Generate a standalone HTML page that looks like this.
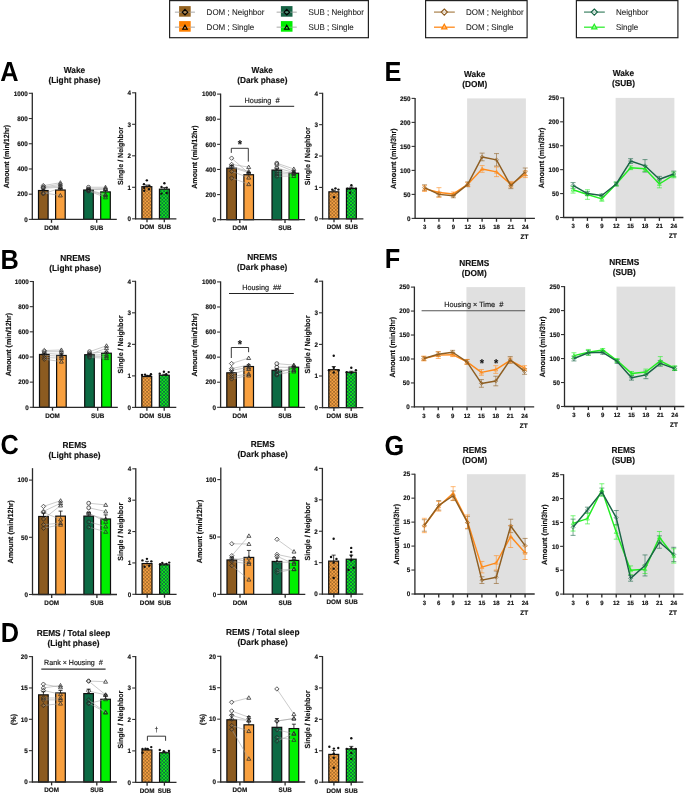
<!DOCTYPE html>
<html><head><meta charset="utf-8"><style>
html,body{margin:0;padding:0;background:#fff;}
body{width:685px;height:793px;overflow:hidden;font-family:"Liberation Sans",sans-serif;}
svg{display:block;will-change:transform;text-rendering:geometricPrecision;}
</style></head><body>
<svg width="685" height="793" viewBox="0 0 685 793" font-family="Liberation Sans, sans-serif">
<defs>
<pattern id="chkO" width="3.4" height="3.4" patternUnits="userSpaceOnUse"><rect width="3.4" height="3.4" fill="#F6A244"/><rect width="1.7" height="1.7" fill="#A86C2A"/><rect x="1.7" y="1.7" width="1.7" height="1.7" fill="#A86C2A"/></pattern>
<pattern id="chkG" width="3.4" height="3.4" patternUnits="userSpaceOnUse"><rect width="3.4" height="3.4" fill="#10EE10"/><rect width="1.7" height="1.7" fill="#0D6A46"/><rect x="1.7" y="1.7" width="1.7" height="1.7" fill="#0D6A46"/></pattern>
</defs>
<rect width="685" height="793" fill="#fff"/>
<rect x="169.6" y="0.6" width="198.8" height="37.1" fill="none" stroke="#222" stroke-width="1.2" />
<line x1="174.9" y1="12.2" x2="194.9" y2="12.2" stroke="#b4b4b4" stroke-width="1.1" />
<rect x="179.1" y="6.1" width="11.6" height="10.6" fill="#966422" stroke="none" stroke-width="0" />
<line x1="174.9" y1="12.2" x2="194.9" y2="12.2" stroke="#c8c8c8" stroke-width="1.0" opacity="0.55"/>
<path d="M185 9.4L187.8 12.2L185 15L182.2 12.2Z" fill="none" stroke="#000" stroke-width="1.1"/>
<text transform="matrix(1 0 0 1.04 206.6 15)" font-size="8" stroke="#222" stroke-width="0.08" text-anchor="start" fill="#222" >DOM ; Neighbor</text>
<line x1="174.9" y1="27.2" x2="194.9" y2="27.2" stroke="#b4b4b4" stroke-width="1.1" />
<rect x="179.1" y="21.1" width="11.6" height="10.6" fill="#FF8000" stroke="none" stroke-width="0" />
<line x1="174.9" y1="27.2" x2="194.9" y2="27.2" stroke="#c8c8c8" stroke-width="1.0" opacity="0.55"/>
<path d="M185 25.2L187.3 29.23L182.7 29.23Z" fill="none" stroke="#000" stroke-width="1.1"/>
<text transform="matrix(1 0 0 1.04 206.6 30)" font-size="8" stroke="#222" stroke-width="0.08" text-anchor="start" fill="#222" >DOM ; Single</text>
<line x1="276.7" y1="12.2" x2="296.7" y2="12.2" stroke="#b4b4b4" stroke-width="1.1" />
<rect x="280.9" y="6.1" width="11.6" height="10.6" fill="#186446" stroke="none" stroke-width="0" />
<line x1="276.7" y1="12.2" x2="296.7" y2="12.2" stroke="#c8c8c8" stroke-width="1.0" opacity="0.55"/>
<path d="M286.8 9.4L289.6 12.2L286.8 15L284 12.2Z" fill="none" stroke="#000" stroke-width="1.1"/>
<text transform="matrix(1 0 0 1.04 308.4 15)" font-size="8" stroke="#222" stroke-width="0.08" text-anchor="start" fill="#222" >SUB ; Neighbor</text>
<line x1="276.7" y1="27.2" x2="296.7" y2="27.2" stroke="#b4b4b4" stroke-width="1.1" />
<rect x="280.9" y="21.1" width="11.6" height="10.6" fill="#00EE00" stroke="none" stroke-width="0" />
<line x1="276.7" y1="27.2" x2="296.7" y2="27.2" stroke="#c8c8c8" stroke-width="1.0" opacity="0.55"/>
<path d="M286.8 25.2L289.1 29.23L284.5 29.23Z" fill="none" stroke="#000" stroke-width="1.1"/>
<text transform="matrix(1 0 0 1.04 308.4 30)" font-size="8" stroke="#222" stroke-width="0.08" text-anchor="start" fill="#222" >SUB ; Single</text>
<rect x="425.6" y="0.6" width="101.5" height="37.1" fill="none" stroke="#222" stroke-width="1.2" />
<line x1="434" y1="12.1" x2="454.8" y2="12.1" stroke="#B08A58" stroke-width="1.3" />
<path d="M444.3 9L447.4 12.1L444.3 15.2L441.2 12.1Z" fill="rgba(255,255,255,0.55)" stroke="#8C5A20" stroke-width="1.1"/>
<text transform="matrix(1 0 0 1.04 465.9 15)" font-size="8" stroke="#222" stroke-width="0.08" text-anchor="start" fill="#222" >DOM ; Neighbor</text>
<line x1="434" y1="27.2" x2="454.8" y2="27.2" stroke="#FF8A1A" stroke-width="1.3" />
<path d="M444.3 24.3L446.9 28.85L441.7 28.85Z" fill="rgba(255,200,150,0.6)" stroke="#FF8000" stroke-width="1.2"/>
<text transform="matrix(1 0 0 1.04 465.9 30.1)" font-size="8" stroke="#222" stroke-width="0.08" text-anchor="start" fill="#222" >DOM ; Single</text>
<rect x="576.4" y="0.6" width="101.5" height="37.1" fill="none" stroke="#222" stroke-width="1.2" />
<line x1="584" y1="12.1" x2="604.8" y2="12.1" stroke="#4E8C70" stroke-width="1.3" />
<path d="M594.3 9L597.4 12.1L594.3 15.2L591.2 12.1Z" fill="rgba(255,255,255,0.55)" stroke="#146444" stroke-width="1.1"/>
<text transform="matrix(1 0 0 1.04 616 15)" font-size="8" stroke="#222" stroke-width="0.08" text-anchor="start" fill="#222" >Neighbor</text>
<line x1="584" y1="27.2" x2="604.8" y2="27.2" stroke="#33EE33" stroke-width="1.3" />
<path d="M594.3 24.3L596.9 28.85L591.7 28.85Z" fill="rgba(180,255,180,0.6)" stroke="#22EE22" stroke-width="1.2"/>
<text transform="matrix(1 0 0 1.04 616 30.1)" font-size="8" stroke="#222" stroke-width="0.08" text-anchor="start" fill="#222" >Single</text>
<text transform="matrix(0.96 0 0 1.04 0.2 81.3)" font-size="26.4" font-weight="bold" fill="#000">A</text>
<text transform="matrix(0.96 0 0 1.04 0.6 269.1)" font-size="26.4" font-weight="bold" fill="#000">B</text>
<text transform="matrix(0.96 0 0 1.04 0.4 454.2)" font-size="26.4" font-weight="bold" fill="#000">C</text>
<text transform="matrix(0.96 0 0 1.04 0.8 642.1)" font-size="26.4" font-weight="bold" fill="#000">D</text>
<text transform="matrix(0.96 0 0 1.04 384.6 80.5)" font-size="26.4" font-weight="bold" fill="#000">E</text>
<text transform="matrix(0.96 0 0 1.04 384.8 268.2)" font-size="26.4" font-weight="bold" fill="#000">F</text>
<text transform="matrix(0.96 0 0 1.04 384.4 455.45)" font-size="26.4" font-weight="bold" fill="#000">G</text>
<text transform="matrix(1 0 0 1.04 74.5 73.06)" font-size="8.3" font-weight="bold" stroke="#111" stroke-width="0.15" text-anchor="middle" fill="#111" >Wake</text>
<text transform="matrix(1 0 0 1.04 74.5 82.96)" font-size="8.3" font-weight="bold" stroke="#111" stroke-width="0.15" text-anchor="middle" fill="#111" >(Light phase)</text>
<rect x="38.5" y="190.52" width="9.6" height="28.88" fill="#8C5B20" stroke="#0e0e0e" stroke-width="1.2" />
<rect x="55.6" y="190.02" width="9.6" height="29.38" fill="#F8A03F" stroke="#0e0e0e" stroke-width="1.2" />
<rect x="83.7" y="190.02" width="9.6" height="29.38" fill="#0C6A44" stroke="#0e0e0e" stroke-width="1.2" />
<rect x="100.7" y="191.91" width="9.6" height="27.49" fill="#00F000" stroke="#0e0e0e" stroke-width="1.2" />
<line x1="43.3" y1="185.61" x2="60.4" y2="182.7" stroke="#a0a0a0" stroke-width="0.55" />
<line x1="43.3" y1="186.87" x2="60.4" y2="184.34" stroke="#a0a0a0" stroke-width="0.55" />
<line x1="43.3" y1="187.62" x2="60.4" y2="185.86" stroke="#a0a0a0" stroke-width="0.55" />
<line x1="43.3" y1="188.25" x2="60.4" y2="187.24" stroke="#a0a0a0" stroke-width="0.55" />
<line x1="43.3" y1="192.92" x2="60.4" y2="195.44" stroke="#a0a0a0" stroke-width="0.55" />
<line x1="43.3" y1="193.8" x2="60.4" y2="188.13" stroke="#a0a0a0" stroke-width="0.55" />
<path d="M43.3 183.41L45.5 185.61L43.3 187.81L41.1 185.61Z" fill="none" stroke="#2a2a2a" stroke-width="0.75"/>
<path d="M43.3 184.67L45.5 186.87L43.3 189.07L41.1 186.87Z" fill="none" stroke="#2a2a2a" stroke-width="0.75"/>
<path d="M43.3 185.42L45.5 187.62L43.3 189.82L41.1 187.62Z" fill="none" stroke="#2a2a2a" stroke-width="0.75"/>
<path d="M43.3 186.05L45.5 188.25L43.3 190.45L41.1 188.25Z" fill="none" stroke="#2a2a2a" stroke-width="0.75"/>
<path d="M43.3 190.72L45.5 192.92L43.3 195.12L41.1 192.92Z" fill="none" stroke="#2a2a2a" stroke-width="0.75"/>
<path d="M43.3 191.6L45.5 193.8L43.3 196L41.1 193.8Z" fill="none" stroke="#2a2a2a" stroke-width="0.75"/>
<path d="M60.4 180.7L62.4 184.2L58.4 184.2Z" fill="none" stroke="#2a2a2a" stroke-width="0.75"/>
<path d="M60.4 182.34L62.4 185.84L58.4 185.84Z" fill="none" stroke="#2a2a2a" stroke-width="0.75"/>
<path d="M60.4 183.86L62.4 187.36L58.4 187.36Z" fill="none" stroke="#2a2a2a" stroke-width="0.75"/>
<path d="M60.4 185.24L62.4 188.74L58.4 188.74Z" fill="none" stroke="#2a2a2a" stroke-width="0.75"/>
<path d="M60.4 193.44L62.4 196.94L58.4 196.94Z" fill="none" stroke="#2a2a2a" stroke-width="0.75"/>
<path d="M60.4 186.13L62.4 189.63L58.4 189.63Z" fill="none" stroke="#2a2a2a" stroke-width="0.75"/>
<line x1="88.5" y1="187.24" x2="105.5" y2="187.24" stroke="#a0a0a0" stroke-width="0.55" />
<line x1="88.5" y1="189.01" x2="105.5" y2="188.51" stroke="#a0a0a0" stroke-width="0.55" />
<line x1="88.5" y1="189.64" x2="105.5" y2="189.39" stroke="#a0a0a0" stroke-width="0.55" />
<line x1="88.5" y1="190.02" x2="105.5" y2="194.43" stroke="#a0a0a0" stroke-width="0.55" />
<line x1="88.5" y1="190.65" x2="105.5" y2="195.44" stroke="#a0a0a0" stroke-width="0.55" />
<line x1="88.5" y1="191.03" x2="105.5" y2="197.33" stroke="#a0a0a0" stroke-width="0.55" />
<circle cx="88.5" cy="187.24" r="1.9" fill="none" stroke="#2a2a2a" stroke-width="0.75"/>
<circle cx="88.5" cy="189.01" r="1.9" fill="none" stroke="#2a2a2a" stroke-width="0.75"/>
<circle cx="88.5" cy="189.64" r="1.9" fill="none" stroke="#2a2a2a" stroke-width="0.75"/>
<circle cx="88.5" cy="190.02" r="1.9" fill="none" stroke="#2a2a2a" stroke-width="0.75"/>
<circle cx="88.5" cy="190.65" r="1.9" fill="none" stroke="#2a2a2a" stroke-width="0.75"/>
<circle cx="88.5" cy="191.03" r="1.9" fill="none" stroke="#2a2a2a" stroke-width="0.75"/>
<path d="M105.5 185.24L107.5 188.74L103.5 188.74Z" fill="none" stroke="#2a2a2a" stroke-width="0.75"/>
<path d="M105.5 186.51L107.5 190.01L103.5 190.01Z" fill="none" stroke="#2a2a2a" stroke-width="0.75"/>
<path d="M105.5 187.39L107.5 190.89L103.5 190.89Z" fill="none" stroke="#2a2a2a" stroke-width="0.75"/>
<path d="M105.5 192.43L107.5 195.93L103.5 195.93Z" fill="none" stroke="#2a2a2a" stroke-width="0.75"/>
<path d="M105.5 193.44L107.5 196.94L103.5 196.94Z" fill="none" stroke="#2a2a2a" stroke-width="0.75"/>
<path d="M105.5 195.33L107.5 198.83L103.5 198.83Z" fill="none" stroke="#2a2a2a" stroke-width="0.75"/>
<line x1="43.3" y1="190.52" x2="43.3" y2="189.26" stroke="#111" stroke-width="0.8" />
<line x1="41.3" y1="189.26" x2="45.3" y2="189.26" stroke="#111" stroke-width="0.8" />
<line x1="60.4" y1="190.02" x2="60.4" y2="188.51" stroke="#111" stroke-width="0.8" />
<line x1="58.4" y1="188.51" x2="62.4" y2="188.51" stroke="#111" stroke-width="0.8" />
<line x1="88.5" y1="190.02" x2="88.5" y2="189.26" stroke="#111" stroke-width="0.8" />
<line x1="86.5" y1="189.26" x2="90.5" y2="189.26" stroke="#111" stroke-width="0.8" />
<line x1="105.5" y1="191.91" x2="105.5" y2="190.4" stroke="#111" stroke-width="0.8" />
<line x1="103.5" y1="190.4" x2="107.5" y2="190.4" stroke="#111" stroke-width="0.8" />
<line x1="32.3" y1="92.8" x2="32.3" y2="219.9" stroke="#2a2a2a" stroke-width="1.3" />
<line x1="31.8" y1="219.4" x2="116.8" y2="219.4" stroke="#2a2a2a" stroke-width="1.3" />
<line x1="28.8" y1="219.4" x2="32.3" y2="219.4" stroke="#333" stroke-width="1.1" />
<text transform="matrix(1 0 0 1.04 27.7 221.65)" font-size="6.3" font-weight="bold" stroke="#111" stroke-width="0.15" text-anchor="end" fill="#111" >0</text>
<line x1="28.8" y1="194.18" x2="32.3" y2="194.18" stroke="#333" stroke-width="1.1" />
<text transform="matrix(1 0 0 1.04 27.7 196.43)" font-size="6.3" font-weight="bold" stroke="#111" stroke-width="0.15" text-anchor="end" fill="#111" >200</text>
<line x1="28.8" y1="168.96" x2="32.3" y2="168.96" stroke="#333" stroke-width="1.1" />
<text transform="matrix(1 0 0 1.04 27.7 171.21)" font-size="6.3" font-weight="bold" stroke="#111" stroke-width="0.15" text-anchor="end" fill="#111" >400</text>
<line x1="28.8" y1="143.74" x2="32.3" y2="143.74" stroke="#333" stroke-width="1.1" />
<text transform="matrix(1 0 0 1.04 27.7 145.99)" font-size="6.3" font-weight="bold" stroke="#111" stroke-width="0.15" text-anchor="end" fill="#111" >600</text>
<line x1="28.8" y1="118.52" x2="32.3" y2="118.52" stroke="#333" stroke-width="1.1" />
<text transform="matrix(1 0 0 1.04 27.7 120.77)" font-size="6.3" font-weight="bold" stroke="#111" stroke-width="0.15" text-anchor="end" fill="#111" >800</text>
<line x1="28.8" y1="93.3" x2="32.3" y2="93.3" stroke="#333" stroke-width="1.1" />
<text transform="matrix(1 0 0 1.04 27.7 95.55)" font-size="6.3" font-weight="bold" stroke="#111" stroke-width="0.15" text-anchor="end" fill="#111" >1000</text>
<line x1="51.5" y1="219.4" x2="51.5" y2="222.8" stroke="#2a2a2a" stroke-width="1.3" />
<text transform="matrix(1 0 0 1.04 51.5 229.7)" font-size="6.3" font-weight="bold" stroke="#111" stroke-width="0.15" text-anchor="middle" fill="#111" >DOM</text>
<line x1="96.7" y1="219.4" x2="96.7" y2="222.8" stroke="#2a2a2a" stroke-width="1.3" />
<text transform="matrix(1 0 0 1.04 96.7 229.7)" font-size="6.3" font-weight="bold" stroke="#111" stroke-width="0.15" text-anchor="middle" fill="#111" >SUB</text>
<text transform="translate(9.42,156.55) rotate(-90) scale(1,1.04)" font-size="7.15" font-weight="bold" text-anchor="middle" fill="#111" stroke="#111" stroke-width="0.15">Amount (min/12hr)</text>
<rect x="141.9" y="186.67" width="9.9" height="32.13" fill="url(#chkO)" stroke="#0e0e0e" stroke-width="1.2" />
<rect x="159.45" y="189.19" width="9.9" height="29.61" fill="url(#chkG)" stroke="#0e0e0e" stroke-width="1.2" />
<line x1="146.85" y1="186.67" x2="146.85" y2="185.09" stroke="#111" stroke-width="0.8" />
<line x1="144.85" y1="185.09" x2="148.85" y2="185.09" stroke="#111" stroke-width="0.8" />
<line x1="164.4" y1="189.19" x2="164.4" y2="187.62" stroke="#111" stroke-width="0.8" />
<line x1="162.4" y1="187.62" x2="166.4" y2="187.62" stroke="#111" stroke-width="0.8" />
<circle cx="146.85" cy="180.37" r="1.2" fill="#111" stroke="none" stroke-width="0"/>
<circle cx="143.95" cy="184.15" r="1.2" fill="#111" stroke="none" stroke-width="0"/>
<circle cx="149.35" cy="185.73" r="1.2" fill="#111" stroke="none" stroke-width="0"/>
<circle cx="144.25" cy="187.93" r="1.2" fill="#111" stroke="none" stroke-width="0"/>
<circle cx="148.95" cy="189.19" r="1.2" fill="#111" stroke="none" stroke-width="0"/>
<circle cx="144.25" cy="190.77" r="1.2" fill="#111" stroke="none" stroke-width="0"/>
<circle cx="164.4" cy="183.21" r="1.2" fill="#111" stroke="none" stroke-width="0"/>
<circle cx="161.5" cy="186.99" r="1.2" fill="#111" stroke="none" stroke-width="0"/>
<circle cx="166.7" cy="187.62" r="1.2" fill="#111" stroke="none" stroke-width="0"/>
<circle cx="161.5" cy="193.6" r="1.2" fill="#111" stroke="none" stroke-width="0"/>
<circle cx="166.7" cy="192.97" r="1.2" fill="#111" stroke="none" stroke-width="0"/>
<line x1="135.6" y1="92.3" x2="135.6" y2="219.3" stroke="#2a2a2a" stroke-width="1.3" />
<line x1="135.1" y1="218.8" x2="176.4" y2="218.8" stroke="#2a2a2a" stroke-width="1.3" />
<line x1="132.1" y1="218.8" x2="135.6" y2="218.8" stroke="#333" stroke-width="1.1" />
<text transform="matrix(1 0 0 1.04 131 221.05)" font-size="6.3" font-weight="bold" stroke="#111" stroke-width="0.15" text-anchor="end" fill="#111" >0</text>
<line x1="132.1" y1="187.3" x2="135.6" y2="187.3" stroke="#333" stroke-width="1.1" />
<text transform="matrix(1 0 0 1.04 131 189.55)" font-size="6.3" font-weight="bold" stroke="#111" stroke-width="0.15" text-anchor="end" fill="#111" >1</text>
<line x1="132.1" y1="155.8" x2="135.6" y2="155.8" stroke="#333" stroke-width="1.1" />
<text transform="matrix(1 0 0 1.04 131 158.05)" font-size="6.3" font-weight="bold" stroke="#111" stroke-width="0.15" text-anchor="end" fill="#111" >2</text>
<line x1="132.1" y1="124.3" x2="135.6" y2="124.3" stroke="#333" stroke-width="1.1" />
<text transform="matrix(1 0 0 1.04 131 126.55)" font-size="6.3" font-weight="bold" stroke="#111" stroke-width="0.15" text-anchor="end" fill="#111" >3</text>
<line x1="132.1" y1="92.8" x2="135.6" y2="92.8" stroke="#333" stroke-width="1.1" />
<text transform="matrix(1 0 0 1.04 131 95.05)" font-size="6.3" font-weight="bold" stroke="#111" stroke-width="0.15" text-anchor="end" fill="#111" >4</text>
<line x1="147" y1="218.8" x2="147" y2="222.2" stroke="#2a2a2a" stroke-width="1.3" />
<text transform="matrix(1 0 0 1.04 147 229.1)" font-size="6.3" font-weight="bold" stroke="#111" stroke-width="0.15" text-anchor="middle" fill="#111" >DOM</text>
<line x1="164.3" y1="218.8" x2="164.3" y2="222.2" stroke="#2a2a2a" stroke-width="1.3" />
<text transform="matrix(1 0 0 1.04 164.3 229.1)" font-size="6.3" font-weight="bold" stroke="#111" stroke-width="0.15" text-anchor="middle" fill="#111" >SUB</text>
<text transform="translate(123.29,156) rotate(-90) scale(1,1.04)" font-size="7.05" font-weight="bold" text-anchor="middle" fill="#111" stroke="#111" stroke-width="0.15">Single / Neighbor</text>
<text transform="matrix(1 0 0 1.04 262.3 73.36)" font-size="8.3" font-weight="bold" stroke="#111" stroke-width="0.15" text-anchor="middle" fill="#111" >Wake</text>
<text transform="matrix(1 0 0 1.04 262.3 83.26)" font-size="8.3" font-weight="bold" stroke="#111" stroke-width="0.15" text-anchor="middle" fill="#111" >(Dark phase)</text>
<rect x="226.8" y="168.2" width="9.6" height="51.5" fill="#8C5B20" stroke="#0e0e0e" stroke-width="1.2" />
<rect x="243.9" y="174.74" width="9.6" height="44.96" fill="#F8A03F" stroke="#0e0e0e" stroke-width="1.2" />
<rect x="272" y="170.09" width="9.6" height="49.61" fill="#0C6A44" stroke="#0e0e0e" stroke-width="1.2" />
<rect x="289" y="173.23" width="9.6" height="46.47" fill="#00F000" stroke="#0e0e0e" stroke-width="1.2" />
<line x1="231.6" y1="158.16" x2="248.7" y2="173.23" stroke="#a0a0a0" stroke-width="0.55" />
<line x1="231.6" y1="164.44" x2="248.7" y2="167.07" stroke="#a0a0a0" stroke-width="0.55" />
<line x1="231.6" y1="166.32" x2="248.7" y2="171.47" stroke="#a0a0a0" stroke-width="0.55" />
<line x1="231.6" y1="167.32" x2="248.7" y2="172.6" stroke="#a0a0a0" stroke-width="0.55" />
<line x1="231.6" y1="171.34" x2="248.7" y2="177.62" stroke="#a0a0a0" stroke-width="0.55" />
<line x1="231.6" y1="178" x2="248.7" y2="184.16" stroke="#a0a0a0" stroke-width="0.55" />
<path d="M231.6 155.96L233.8 158.16L231.6 160.36L229.4 158.16Z" fill="none" stroke="#2a2a2a" stroke-width="0.75"/>
<path d="M231.6 162.24L233.8 164.44L231.6 166.64L229.4 164.44Z" fill="none" stroke="#2a2a2a" stroke-width="0.75"/>
<path d="M231.6 164.12L233.8 166.32L231.6 168.52L229.4 166.32Z" fill="none" stroke="#2a2a2a" stroke-width="0.75"/>
<path d="M231.6 165.12L233.8 167.32L231.6 169.52L229.4 167.32Z" fill="none" stroke="#2a2a2a" stroke-width="0.75"/>
<path d="M231.6 169.14L233.8 171.34L231.6 173.54L229.4 171.34Z" fill="none" stroke="#2a2a2a" stroke-width="0.75"/>
<path d="M231.6 175.8L233.8 178L231.6 180.2L229.4 178Z" fill="none" stroke="#2a2a2a" stroke-width="0.75"/>
<path d="M248.7 171.23L250.7 174.73L246.7 174.73Z" fill="none" stroke="#2a2a2a" stroke-width="0.75"/>
<path d="M248.7 165.07L250.7 168.57L246.7 168.57Z" fill="none" stroke="#2a2a2a" stroke-width="0.75"/>
<path d="M248.7 169.47L250.7 172.97L246.7 172.97Z" fill="none" stroke="#2a2a2a" stroke-width="0.75"/>
<path d="M248.7 170.6L250.7 174.1L246.7 174.1Z" fill="none" stroke="#2a2a2a" stroke-width="0.75"/>
<path d="M248.7 175.62L250.7 179.12L246.7 179.12Z" fill="none" stroke="#2a2a2a" stroke-width="0.75"/>
<path d="M248.7 182.16L250.7 185.66L246.7 185.66Z" fill="none" stroke="#2a2a2a" stroke-width="0.75"/>
<line x1="276.8" y1="163.18" x2="293.8" y2="168.96" stroke="#a0a0a0" stroke-width="0.55" />
<line x1="276.8" y1="164.44" x2="293.8" y2="171.34" stroke="#a0a0a0" stroke-width="0.55" />
<line x1="276.8" y1="167.95" x2="293.8" y2="172.47" stroke="#a0a0a0" stroke-width="0.55" />
<line x1="276.8" y1="171.34" x2="293.8" y2="173.23" stroke="#a0a0a0" stroke-width="0.55" />
<line x1="276.8" y1="173.86" x2="293.8" y2="173.86" stroke="#a0a0a0" stroke-width="0.55" />
<line x1="276.8" y1="176.24" x2="293.8" y2="175.99" stroke="#a0a0a0" stroke-width="0.55" />
<circle cx="276.8" cy="163.18" r="1.9" fill="none" stroke="#2a2a2a" stroke-width="0.75"/>
<circle cx="276.8" cy="164.44" r="1.9" fill="none" stroke="#2a2a2a" stroke-width="0.75"/>
<circle cx="276.8" cy="167.95" r="1.9" fill="none" stroke="#2a2a2a" stroke-width="0.75"/>
<circle cx="276.8" cy="171.34" r="1.9" fill="none" stroke="#2a2a2a" stroke-width="0.75"/>
<circle cx="276.8" cy="173.86" r="1.9" fill="none" stroke="#2a2a2a" stroke-width="0.75"/>
<circle cx="276.8" cy="176.24" r="1.9" fill="none" stroke="#2a2a2a" stroke-width="0.75"/>
<path d="M293.8 166.96L295.8 170.46L291.8 170.46Z" fill="none" stroke="#2a2a2a" stroke-width="0.75"/>
<path d="M293.8 169.34L295.8 172.84L291.8 172.84Z" fill="none" stroke="#2a2a2a" stroke-width="0.75"/>
<path d="M293.8 170.47L295.8 173.97L291.8 173.97Z" fill="none" stroke="#2a2a2a" stroke-width="0.75"/>
<path d="M293.8 171.23L295.8 174.73L291.8 174.73Z" fill="none" stroke="#2a2a2a" stroke-width="0.75"/>
<path d="M293.8 171.86L295.8 175.36L291.8 175.36Z" fill="none" stroke="#2a2a2a" stroke-width="0.75"/>
<path d="M293.8 173.99L295.8 177.49L291.8 177.49Z" fill="none" stroke="#2a2a2a" stroke-width="0.75"/>
<line x1="231.6" y1="168.2" x2="231.6" y2="165.44" stroke="#111" stroke-width="0.8" />
<line x1="229.6" y1="165.44" x2="233.6" y2="165.44" stroke="#111" stroke-width="0.8" />
<line x1="248.7" y1="174.74" x2="248.7" y2="172.47" stroke="#111" stroke-width="0.8" />
<line x1="246.7" y1="172.47" x2="250.7" y2="172.47" stroke="#111" stroke-width="0.8" />
<line x1="276.8" y1="170.09" x2="276.8" y2="168.2" stroke="#111" stroke-width="0.8" />
<line x1="274.8" y1="168.2" x2="278.8" y2="168.2" stroke="#111" stroke-width="0.8" />
<line x1="293.8" y1="173.23" x2="293.8" y2="171.97" stroke="#111" stroke-width="0.8" />
<line x1="291.8" y1="171.97" x2="295.8" y2="171.97" stroke="#111" stroke-width="0.8" />
<line x1="220.6" y1="93.6" x2="220.6" y2="220.2" stroke="#2a2a2a" stroke-width="1.3" />
<line x1="220.1" y1="219.7" x2="305.1" y2="219.7" stroke="#2a2a2a" stroke-width="1.3" />
<line x1="217.1" y1="219.7" x2="220.6" y2="219.7" stroke="#333" stroke-width="1.1" />
<text transform="matrix(1 0 0 1.04 216 221.95)" font-size="6.3" font-weight="bold" stroke="#111" stroke-width="0.15" text-anchor="end" fill="#111" >0</text>
<line x1="217.1" y1="194.58" x2="220.6" y2="194.58" stroke="#333" stroke-width="1.1" />
<text transform="matrix(1 0 0 1.04 216 196.83)" font-size="6.3" font-weight="bold" stroke="#111" stroke-width="0.15" text-anchor="end" fill="#111" >200</text>
<line x1="217.1" y1="169.46" x2="220.6" y2="169.46" stroke="#333" stroke-width="1.1" />
<text transform="matrix(1 0 0 1.04 216 171.71)" font-size="6.3" font-weight="bold" stroke="#111" stroke-width="0.15" text-anchor="end" fill="#111" >400</text>
<line x1="217.1" y1="144.34" x2="220.6" y2="144.34" stroke="#333" stroke-width="1.1" />
<text transform="matrix(1 0 0 1.04 216 146.59)" font-size="6.3" font-weight="bold" stroke="#111" stroke-width="0.15" text-anchor="end" fill="#111" >600</text>
<line x1="217.1" y1="119.22" x2="220.6" y2="119.22" stroke="#333" stroke-width="1.1" />
<text transform="matrix(1 0 0 1.04 216 121.47)" font-size="6.3" font-weight="bold" stroke="#111" stroke-width="0.15" text-anchor="end" fill="#111" >800</text>
<line x1="217.1" y1="94.1" x2="220.6" y2="94.1" stroke="#333" stroke-width="1.1" />
<text transform="matrix(1 0 0 1.04 216 96.35)" font-size="6.3" font-weight="bold" stroke="#111" stroke-width="0.15" text-anchor="end" fill="#111" >1000</text>
<line x1="239.8" y1="219.7" x2="239.8" y2="223.1" stroke="#2a2a2a" stroke-width="1.3" />
<text transform="matrix(1 0 0 1.04 239.8 230)" font-size="6.3" font-weight="bold" stroke="#111" stroke-width="0.15" text-anchor="middle" fill="#111" >DOM</text>
<line x1="285" y1="219.7" x2="285" y2="223.1" stroke="#2a2a2a" stroke-width="1.3" />
<text transform="matrix(1 0 0 1.04 285 230)" font-size="6.3" font-weight="bold" stroke="#111" stroke-width="0.15" text-anchor="middle" fill="#111" >SUB</text>
<text transform="translate(197.32,157.1) rotate(-90) scale(1,1.04)" font-size="7.15" font-weight="bold" text-anchor="middle" fill="#111" stroke="#111" stroke-width="0.15">Amount (min/12hr)</text>
<rect x="328.9" y="191.82" width="9.9" height="26.98" fill="url(#chkO)" stroke="#0e0e0e" stroke-width="1.2" />
<rect x="346.45" y="188.37" width="9.9" height="30.43" fill="url(#chkG)" stroke="#0e0e0e" stroke-width="1.2" />
<line x1="333.85" y1="191.82" x2="333.85" y2="190.25" stroke="#111" stroke-width="0.8" />
<line x1="331.85" y1="190.25" x2="335.85" y2="190.25" stroke="#111" stroke-width="0.8" />
<line x1="351.4" y1="188.37" x2="351.4" y2="187.11" stroke="#111" stroke-width="0.8" />
<line x1="349.4" y1="187.11" x2="353.4" y2="187.11" stroke="#111" stroke-width="0.8" />
<circle cx="332.25" cy="189.62" r="1.2" fill="#111" stroke="none" stroke-width="0"/>
<circle cx="335.45" cy="188.37" r="1.2" fill="#111" stroke="none" stroke-width="0"/>
<circle cx="338.45" cy="189.62" r="1.2" fill="#111" stroke="none" stroke-width="0"/>
<circle cx="334.05" cy="197.15" r="1.2" fill="#111" stroke="none" stroke-width="0"/>
<circle cx="351.4" cy="185.23" r="1.2" fill="#111" stroke="none" stroke-width="0"/>
<circle cx="347.5" cy="188.68" r="1.2" fill="#111" stroke="none" stroke-width="0"/>
<circle cx="350.1" cy="188.99" r="1.2" fill="#111" stroke="none" stroke-width="0"/>
<circle cx="355.9" cy="188.68" r="1.2" fill="#111" stroke="none" stroke-width="0"/>
<circle cx="350.1" cy="192.76" r="1.2" fill="#111" stroke="none" stroke-width="0"/>
<line x1="322.6" y1="92.8" x2="322.6" y2="219.3" stroke="#2a2a2a" stroke-width="1.3" />
<line x1="322.1" y1="218.8" x2="363.4" y2="218.8" stroke="#2a2a2a" stroke-width="1.3" />
<line x1="319.1" y1="218.8" x2="322.6" y2="218.8" stroke="#333" stroke-width="1.1" />
<text transform="matrix(1 0 0 1.04 318 221.05)" font-size="6.3" font-weight="bold" stroke="#111" stroke-width="0.15" text-anchor="end" fill="#111" >0</text>
<line x1="319.1" y1="187.43" x2="322.6" y2="187.43" stroke="#333" stroke-width="1.1" />
<text transform="matrix(1 0 0 1.04 318 189.68)" font-size="6.3" font-weight="bold" stroke="#111" stroke-width="0.15" text-anchor="end" fill="#111" >1</text>
<line x1="319.1" y1="156.05" x2="322.6" y2="156.05" stroke="#333" stroke-width="1.1" />
<text transform="matrix(1 0 0 1.04 318 158.3)" font-size="6.3" font-weight="bold" stroke="#111" stroke-width="0.15" text-anchor="end" fill="#111" >2</text>
<line x1="319.1" y1="124.67" x2="322.6" y2="124.67" stroke="#333" stroke-width="1.1" />
<text transform="matrix(1 0 0 1.04 318 126.92)" font-size="6.3" font-weight="bold" stroke="#111" stroke-width="0.15" text-anchor="end" fill="#111" >3</text>
<line x1="319.1" y1="93.3" x2="322.6" y2="93.3" stroke="#333" stroke-width="1.1" />
<text transform="matrix(1 0 0 1.04 318 95.55)" font-size="6.3" font-weight="bold" stroke="#111" stroke-width="0.15" text-anchor="end" fill="#111" >4</text>
<line x1="334" y1="218.8" x2="334" y2="222.2" stroke="#2a2a2a" stroke-width="1.3" />
<text transform="matrix(1 0 0 1.04 334 229.1)" font-size="6.3" font-weight="bold" stroke="#111" stroke-width="0.15" text-anchor="middle" fill="#111" >DOM</text>
<line x1="351.3" y1="218.8" x2="351.3" y2="222.2" stroke="#2a2a2a" stroke-width="1.3" />
<text transform="matrix(1 0 0 1.04 351.3 229.1)" font-size="6.3" font-weight="bold" stroke="#111" stroke-width="0.15" text-anchor="middle" fill="#111" >SUB</text>
<text transform="translate(310.29,156.25) rotate(-90) scale(1,1.04)" font-size="7.05" font-weight="bold" text-anchor="middle" fill="#111" stroke="#111" stroke-width="0.15">Single / Neighbor</text>
<text transform="matrix(1 0 0 1.04 262 102.7)" font-size="7.3" stroke="#1a1a1a" stroke-width="0.16" text-anchor="middle" fill="#1a1a1a" >Housing&#160;&#160;<tspan font-style="italic">#</tspan></text>
<line x1="229.4" y1="106.3" x2="294.2" y2="106.3" stroke="#222" stroke-width="1.0" />
<path d="M231.3 152.9V148.3H248.3V161.6" fill="none" stroke="#222" stroke-width="0.9"/>
<text transform="matrix(1 0 0 1.04 240 148.2)" font-size="11" font-weight="bold" stroke="#111" stroke-width="0.1" text-anchor="middle" fill="#111" >*</text>
<text transform="matrix(1 0 0 1.04 75.3 260.66)" font-size="8.3" font-weight="bold" stroke="#111" stroke-width="0.15" text-anchor="middle" fill="#111" >NREMS</text>
<text transform="matrix(1 0 0 1.04 75.3 270.56)" font-size="8.3" font-weight="bold" stroke="#111" stroke-width="0.15" text-anchor="middle" fill="#111" >(Light phase)</text>
<rect x="39.5" y="354.46" width="9.6" height="52.84" fill="#8C5B20" stroke="#0e0e0e" stroke-width="1.2" />
<rect x="56.6" y="355.47" width="9.6" height="51.83" fill="#F8A03F" stroke="#0e0e0e" stroke-width="1.2" />
<rect x="84.7" y="354.72" width="9.6" height="52.58" fill="#0C6A44" stroke="#0e0e0e" stroke-width="1.2" />
<rect x="101.7" y="353.21" width="9.6" height="54.09" fill="#00F000" stroke="#0e0e0e" stroke-width="1.2" />
<line x1="44.3" y1="350.56" x2="61.4" y2="349.94" stroke="#a0a0a0" stroke-width="0.55" />
<line x1="44.3" y1="351.7" x2="61.4" y2="351.7" stroke="#a0a0a0" stroke-width="0.55" />
<line x1="44.3" y1="355.22" x2="61.4" y2="356.35" stroke="#a0a0a0" stroke-width="0.55" />
<line x1="44.3" y1="357.48" x2="61.4" y2="358.11" stroke="#a0a0a0" stroke-width="0.55" />
<line x1="44.3" y1="359.24" x2="61.4" y2="361.63" stroke="#a0a0a0" stroke-width="0.55" />
<line x1="44.3" y1="353.21" x2="61.4" y2="354.46" stroke="#a0a0a0" stroke-width="0.55" />
<path d="M44.3 348.36L46.5 350.56L44.3 352.76L42.1 350.56Z" fill="none" stroke="#2a2a2a" stroke-width="0.75"/>
<path d="M44.3 349.5L46.5 351.7L44.3 353.9L42.1 351.7Z" fill="none" stroke="#2a2a2a" stroke-width="0.75"/>
<path d="M44.3 353.02L46.5 355.22L44.3 357.42L42.1 355.22Z" fill="none" stroke="#2a2a2a" stroke-width="0.75"/>
<path d="M44.3 355.28L46.5 357.48L44.3 359.68L42.1 357.48Z" fill="none" stroke="#2a2a2a" stroke-width="0.75"/>
<path d="M44.3 357.04L46.5 359.24L44.3 361.44L42.1 359.24Z" fill="none" stroke="#2a2a2a" stroke-width="0.75"/>
<path d="M44.3 351.01L46.5 353.21L44.3 355.41L42.1 353.21Z" fill="none" stroke="#2a2a2a" stroke-width="0.75"/>
<path d="M61.4 347.94L63.4 351.44L59.4 351.44Z" fill="none" stroke="#2a2a2a" stroke-width="0.75"/>
<path d="M61.4 349.7L63.4 353.2L59.4 353.2Z" fill="none" stroke="#2a2a2a" stroke-width="0.75"/>
<path d="M61.4 354.35L63.4 357.85L59.4 357.85Z" fill="none" stroke="#2a2a2a" stroke-width="0.75"/>
<path d="M61.4 356.11L63.4 359.61L59.4 359.61Z" fill="none" stroke="#2a2a2a" stroke-width="0.75"/>
<path d="M61.4 359.63L63.4 363.13L59.4 363.13Z" fill="none" stroke="#2a2a2a" stroke-width="0.75"/>
<path d="M61.4 352.46L63.4 355.96L59.4 355.96Z" fill="none" stroke="#2a2a2a" stroke-width="0.75"/>
<line x1="89.5" y1="351.7" x2="106.5" y2="345.78" stroke="#a0a0a0" stroke-width="0.55" />
<line x1="89.5" y1="353.46" x2="106.5" y2="351.7" stroke="#a0a0a0" stroke-width="0.55" />
<line x1="89.5" y1="355.22" x2="106.5" y2="354.59" stroke="#a0a0a0" stroke-width="0.55" />
<line x1="89.5" y1="356.35" x2="106.5" y2="356.35" stroke="#a0a0a0" stroke-width="0.55" />
<line x1="89.5" y1="357.48" x2="106.5" y2="358.11" stroke="#a0a0a0" stroke-width="0.55" />
<line x1="89.5" y1="354.46" x2="106.5" y2="348.17" stroke="#a0a0a0" stroke-width="0.55" />
<circle cx="89.5" cy="351.7" r="1.9" fill="none" stroke="#2a2a2a" stroke-width="0.75"/>
<circle cx="89.5" cy="353.46" r="1.9" fill="none" stroke="#2a2a2a" stroke-width="0.75"/>
<circle cx="89.5" cy="355.22" r="1.9" fill="none" stroke="#2a2a2a" stroke-width="0.75"/>
<circle cx="89.5" cy="356.35" r="1.9" fill="none" stroke="#2a2a2a" stroke-width="0.75"/>
<circle cx="89.5" cy="357.48" r="1.9" fill="none" stroke="#2a2a2a" stroke-width="0.75"/>
<circle cx="89.5" cy="354.46" r="1.9" fill="none" stroke="#2a2a2a" stroke-width="0.75"/>
<path d="M106.5 343.78L108.5 347.28L104.5 347.28Z" fill="none" stroke="#2a2a2a" stroke-width="0.75"/>
<path d="M106.5 349.7L108.5 353.2L104.5 353.2Z" fill="none" stroke="#2a2a2a" stroke-width="0.75"/>
<path d="M106.5 352.59L108.5 356.09L104.5 356.09Z" fill="none" stroke="#2a2a2a" stroke-width="0.75"/>
<path d="M106.5 354.35L108.5 357.85L104.5 357.85Z" fill="none" stroke="#2a2a2a" stroke-width="0.75"/>
<path d="M106.5 356.11L108.5 359.61L104.5 359.61Z" fill="none" stroke="#2a2a2a" stroke-width="0.75"/>
<path d="M106.5 346.17L108.5 349.67L104.5 349.67Z" fill="none" stroke="#2a2a2a" stroke-width="0.75"/>
<line x1="44.3" y1="354.46" x2="44.3" y2="353.21" stroke="#111" stroke-width="0.8" />
<line x1="42.3" y1="353.21" x2="46.3" y2="353.21" stroke="#111" stroke-width="0.8" />
<line x1="61.4" y1="355.47" x2="61.4" y2="353.96" stroke="#111" stroke-width="0.8" />
<line x1="59.4" y1="353.96" x2="63.4" y2="353.96" stroke="#111" stroke-width="0.8" />
<line x1="89.5" y1="354.72" x2="89.5" y2="353.96" stroke="#111" stroke-width="0.8" />
<line x1="87.5" y1="353.96" x2="91.5" y2="353.96" stroke="#111" stroke-width="0.8" />
<line x1="106.5" y1="353.21" x2="106.5" y2="351.95" stroke="#111" stroke-width="0.8" />
<line x1="104.5" y1="351.95" x2="108.5" y2="351.95" stroke="#111" stroke-width="0.8" />
<line x1="33.3" y1="281" x2="33.3" y2="407.8" stroke="#2a2a2a" stroke-width="1.3" />
<line x1="32.8" y1="407.3" x2="117.8" y2="407.3" stroke="#2a2a2a" stroke-width="1.3" />
<line x1="29.8" y1="407.3" x2="33.3" y2="407.3" stroke="#333" stroke-width="1.1" />
<text transform="matrix(1 0 0 1.04 28.7 409.55)" font-size="6.3" font-weight="bold" stroke="#111" stroke-width="0.15" text-anchor="end" fill="#111" >0</text>
<line x1="29.8" y1="382.14" x2="33.3" y2="382.14" stroke="#333" stroke-width="1.1" />
<text transform="matrix(1 0 0 1.04 28.7 384.39)" font-size="6.3" font-weight="bold" stroke="#111" stroke-width="0.15" text-anchor="end" fill="#111" >200</text>
<line x1="29.8" y1="356.98" x2="33.3" y2="356.98" stroke="#333" stroke-width="1.1" />
<text transform="matrix(1 0 0 1.04 28.7 359.23)" font-size="6.3" font-weight="bold" stroke="#111" stroke-width="0.15" text-anchor="end" fill="#111" >400</text>
<line x1="29.8" y1="331.82" x2="33.3" y2="331.82" stroke="#333" stroke-width="1.1" />
<text transform="matrix(1 0 0 1.04 28.7 334.07)" font-size="6.3" font-weight="bold" stroke="#111" stroke-width="0.15" text-anchor="end" fill="#111" >600</text>
<line x1="29.8" y1="306.66" x2="33.3" y2="306.66" stroke="#333" stroke-width="1.1" />
<text transform="matrix(1 0 0 1.04 28.7 308.91)" font-size="6.3" font-weight="bold" stroke="#111" stroke-width="0.15" text-anchor="end" fill="#111" >800</text>
<line x1="29.8" y1="281.5" x2="33.3" y2="281.5" stroke="#333" stroke-width="1.1" />
<text transform="matrix(1 0 0 1.04 28.7 283.75)" font-size="6.3" font-weight="bold" stroke="#111" stroke-width="0.15" text-anchor="end" fill="#111" >1000</text>
<line x1="52.5" y1="407.3" x2="52.5" y2="410.7" stroke="#2a2a2a" stroke-width="1.3" />
<text transform="matrix(1 0 0 1.04 52.5 417.6)" font-size="6.3" font-weight="bold" stroke="#111" stroke-width="0.15" text-anchor="middle" fill="#111" >DOM</text>
<line x1="97.7" y1="407.3" x2="97.7" y2="410.7" stroke="#2a2a2a" stroke-width="1.3" />
<text transform="matrix(1 0 0 1.04 97.7 417.6)" font-size="6.3" font-weight="bold" stroke="#111" stroke-width="0.15" text-anchor="middle" fill="#111" >SUB</text>
<text transform="translate(10.62,344.6) rotate(-90) scale(1,1.04)" font-size="7.15" font-weight="bold" text-anchor="middle" fill="#111" stroke="#111" stroke-width="0.15">Amount (min/12hr)</text>
<rect x="141.8" y="376.51" width="9.9" height="30.89" fill="url(#chkO)" stroke="#0e0e0e" stroke-width="1.2" />
<rect x="159.35" y="375.24" width="9.9" height="32.16" fill="url(#chkG)" stroke="#0e0e0e" stroke-width="1.2" />
<line x1="146.75" y1="376.51" x2="146.75" y2="375.56" stroke="#111" stroke-width="0.8" />
<line x1="144.75" y1="375.56" x2="148.75" y2="375.56" stroke="#111" stroke-width="0.8" />
<line x1="164.3" y1="375.24" x2="164.3" y2="374.3" stroke="#111" stroke-width="0.8" />
<line x1="162.3" y1="374.3" x2="166.3" y2="374.3" stroke="#111" stroke-width="0.8" />
<circle cx="142.05" cy="374.93" r="1.2" fill="#111" stroke="none" stroke-width="0"/>
<circle cx="145.05" cy="374.61" r="1.2" fill="#111" stroke="none" stroke-width="0"/>
<circle cx="150.95" cy="374.3" r="1.2" fill="#111" stroke="none" stroke-width="0"/>
<circle cx="147.65" cy="375.88" r="1.2" fill="#111" stroke="none" stroke-width="0"/>
<circle cx="150.05" cy="375.88" r="1.2" fill="#111" stroke="none" stroke-width="0"/>
<circle cx="159.7" cy="373.67" r="1.2" fill="#111" stroke="none" stroke-width="0"/>
<circle cx="163.9" cy="371.78" r="1.2" fill="#111" stroke="none" stroke-width="0"/>
<circle cx="168.7" cy="372.09" r="1.2" fill="#111" stroke="none" stroke-width="0"/>
<circle cx="166.3" cy="374.3" r="1.2" fill="#111" stroke="none" stroke-width="0"/>
<line x1="135.5" y1="280.8" x2="135.5" y2="407.9" stroke="#2a2a2a" stroke-width="1.3" />
<line x1="135" y1="407.4" x2="176.3" y2="407.4" stroke="#2a2a2a" stroke-width="1.3" />
<line x1="132" y1="407.4" x2="135.5" y2="407.4" stroke="#333" stroke-width="1.1" />
<text transform="matrix(1 0 0 1.04 130.9 409.65)" font-size="6.3" font-weight="bold" stroke="#111" stroke-width="0.15" text-anchor="end" fill="#111" >0</text>
<line x1="132" y1="375.88" x2="135.5" y2="375.88" stroke="#333" stroke-width="1.1" />
<text transform="matrix(1 0 0 1.04 130.9 378.12)" font-size="6.3" font-weight="bold" stroke="#111" stroke-width="0.15" text-anchor="end" fill="#111" >1</text>
<line x1="132" y1="344.35" x2="135.5" y2="344.35" stroke="#333" stroke-width="1.1" />
<text transform="matrix(1 0 0 1.04 130.9 346.6)" font-size="6.3" font-weight="bold" stroke="#111" stroke-width="0.15" text-anchor="end" fill="#111" >2</text>
<line x1="132" y1="312.82" x2="135.5" y2="312.82" stroke="#333" stroke-width="1.1" />
<text transform="matrix(1 0 0 1.04 130.9 315.07)" font-size="6.3" font-weight="bold" stroke="#111" stroke-width="0.15" text-anchor="end" fill="#111" >3</text>
<line x1="132" y1="281.3" x2="135.5" y2="281.3" stroke="#333" stroke-width="1.1" />
<text transform="matrix(1 0 0 1.04 130.9 283.55)" font-size="6.3" font-weight="bold" stroke="#111" stroke-width="0.15" text-anchor="end" fill="#111" >4</text>
<line x1="146.9" y1="407.4" x2="146.9" y2="410.8" stroke="#2a2a2a" stroke-width="1.3" />
<text transform="matrix(1 0 0 1.04 146.9 417.7)" font-size="6.3" font-weight="bold" stroke="#111" stroke-width="0.15" text-anchor="middle" fill="#111" >DOM</text>
<line x1="164.2" y1="407.4" x2="164.2" y2="410.8" stroke="#2a2a2a" stroke-width="1.3" />
<text transform="matrix(1 0 0 1.04 164.2 417.7)" font-size="6.3" font-weight="bold" stroke="#111" stroke-width="0.15" text-anchor="middle" fill="#111" >SUB</text>
<text transform="translate(123.19,344.55) rotate(-90) scale(1,1.04)" font-size="7.05" font-weight="bold" text-anchor="middle" fill="#111" stroke="#111" stroke-width="0.15">Single / Neighbor</text>
<text transform="matrix(1 0 0 1.04 262.2 260.46)" font-size="8.3" font-weight="bold" stroke="#111" stroke-width="0.15" text-anchor="middle" fill="#111" >NREMS</text>
<text transform="matrix(1 0 0 1.04 262.2 270.36)" font-size="8.3" font-weight="bold" stroke="#111" stroke-width="0.15" text-anchor="middle" fill="#111" >(Dark phase)</text>
<rect x="226.8" y="372.81" width="9.6" height="34.49" fill="#8C5B20" stroke="#0e0e0e" stroke-width="1.2" />
<rect x="243.9" y="366.55" width="9.6" height="40.75" fill="#F8A03F" stroke="#0e0e0e" stroke-width="1.2" />
<rect x="272" y="370.31" width="9.6" height="36.99" fill="#0C6A44" stroke="#0e0e0e" stroke-width="1.2" />
<rect x="289" y="367.17" width="9.6" height="40.13" fill="#00F000" stroke="#0e0e0e" stroke-width="1.2" />
<line x1="231.6" y1="363.54" x2="248.7" y2="358.02" stroke="#a0a0a0" stroke-width="0.55" />
<line x1="231.6" y1="368.55" x2="248.7" y2="365.04" stroke="#a0a0a0" stroke-width="0.55" />
<line x1="231.6" y1="370.31" x2="248.7" y2="367.42" stroke="#a0a0a0" stroke-width="0.55" />
<line x1="231.6" y1="374.45" x2="248.7" y2="369.05" stroke="#a0a0a0" stroke-width="0.55" />
<line x1="231.6" y1="376.7" x2="248.7" y2="373.82" stroke="#a0a0a0" stroke-width="0.55" />
<line x1="231.6" y1="378.96" x2="248.7" y2="375.45" stroke="#a0a0a0" stroke-width="0.55" />
<path d="M231.6 361.34L233.8 363.54L231.6 365.74L229.4 363.54Z" fill="none" stroke="#2a2a2a" stroke-width="0.75"/>
<path d="M231.6 366.35L233.8 368.55L231.6 370.75L229.4 368.55Z" fill="none" stroke="#2a2a2a" stroke-width="0.75"/>
<path d="M231.6 368.11L233.8 370.31L231.6 372.51L229.4 370.31Z" fill="none" stroke="#2a2a2a" stroke-width="0.75"/>
<path d="M231.6 372.25L233.8 374.45L231.6 376.65L229.4 374.45Z" fill="none" stroke="#2a2a2a" stroke-width="0.75"/>
<path d="M231.6 374.5L233.8 376.7L231.6 378.9L229.4 376.7Z" fill="none" stroke="#2a2a2a" stroke-width="0.75"/>
<path d="M231.6 376.76L233.8 378.96L231.6 381.16L229.4 378.96Z" fill="none" stroke="#2a2a2a" stroke-width="0.75"/>
<path d="M248.7 356.02L250.7 359.52L246.7 359.52Z" fill="none" stroke="#2a2a2a" stroke-width="0.75"/>
<path d="M248.7 363.04L250.7 366.54L246.7 366.54Z" fill="none" stroke="#2a2a2a" stroke-width="0.75"/>
<path d="M248.7 365.42L250.7 368.92L246.7 368.92Z" fill="none" stroke="#2a2a2a" stroke-width="0.75"/>
<path d="M248.7 367.05L250.7 370.55L246.7 370.55Z" fill="none" stroke="#2a2a2a" stroke-width="0.75"/>
<path d="M248.7 371.82L250.7 375.32L246.7 375.32Z" fill="none" stroke="#2a2a2a" stroke-width="0.75"/>
<path d="M248.7 373.45L250.7 376.95L246.7 376.95Z" fill="none" stroke="#2a2a2a" stroke-width="0.75"/>
<line x1="276.8" y1="363.66" x2="293.8" y2="365.04" stroke="#a0a0a0" stroke-width="0.55" />
<line x1="276.8" y1="367.17" x2="293.8" y2="367.42" stroke="#a0a0a0" stroke-width="0.55" />
<line x1="276.8" y1="370.31" x2="293.8" y2="370.31" stroke="#a0a0a0" stroke-width="0.55" />
<line x1="276.8" y1="374.45" x2="293.8" y2="371.56" stroke="#a0a0a0" stroke-width="0.55" />
<line x1="276.8" y1="374.95" x2="293.8" y2="365.92" stroke="#a0a0a0" stroke-width="0.55" />
<line x1="276.8" y1="370.93" x2="293.8" y2="369.68" stroke="#a0a0a0" stroke-width="0.55" />
<circle cx="276.8" cy="363.66" r="1.9" fill="none" stroke="#2a2a2a" stroke-width="0.75"/>
<circle cx="276.8" cy="367.17" r="1.9" fill="none" stroke="#2a2a2a" stroke-width="0.75"/>
<circle cx="276.8" cy="370.31" r="1.9" fill="none" stroke="#2a2a2a" stroke-width="0.75"/>
<circle cx="276.8" cy="374.45" r="1.9" fill="none" stroke="#2a2a2a" stroke-width="0.75"/>
<circle cx="276.8" cy="374.95" r="1.9" fill="none" stroke="#2a2a2a" stroke-width="0.75"/>
<circle cx="276.8" cy="370.93" r="1.9" fill="none" stroke="#2a2a2a" stroke-width="0.75"/>
<path d="M293.8 363.04L295.8 366.54L291.8 366.54Z" fill="none" stroke="#2a2a2a" stroke-width="0.75"/>
<path d="M293.8 365.42L295.8 368.92L291.8 368.92Z" fill="none" stroke="#2a2a2a" stroke-width="0.75"/>
<path d="M293.8 368.31L295.8 371.81L291.8 371.81Z" fill="none" stroke="#2a2a2a" stroke-width="0.75"/>
<path d="M293.8 369.56L295.8 373.06L291.8 373.06Z" fill="none" stroke="#2a2a2a" stroke-width="0.75"/>
<path d="M293.8 363.92L295.8 367.42L291.8 367.42Z" fill="none" stroke="#2a2a2a" stroke-width="0.75"/>
<path d="M293.8 367.68L295.8 371.18L291.8 371.18Z" fill="none" stroke="#2a2a2a" stroke-width="0.75"/>
<line x1="231.6" y1="372.81" x2="231.6" y2="370.81" stroke="#111" stroke-width="0.8" />
<line x1="229.6" y1="370.81" x2="233.6" y2="370.81" stroke="#111" stroke-width="0.8" />
<line x1="248.7" y1="366.55" x2="248.7" y2="364.79" stroke="#111" stroke-width="0.8" />
<line x1="246.7" y1="364.79" x2="250.7" y2="364.79" stroke="#111" stroke-width="0.8" />
<line x1="276.8" y1="370.31" x2="276.8" y2="368.8" stroke="#111" stroke-width="0.8" />
<line x1="274.8" y1="368.8" x2="278.8" y2="368.8" stroke="#111" stroke-width="0.8" />
<line x1="293.8" y1="367.17" x2="293.8" y2="366.17" stroke="#111" stroke-width="0.8" />
<line x1="291.8" y1="366.17" x2="295.8" y2="366.17" stroke="#111" stroke-width="0.8" />
<line x1="220.6" y1="281.4" x2="220.6" y2="407.8" stroke="#2a2a2a" stroke-width="1.3" />
<line x1="220.1" y1="407.3" x2="305.1" y2="407.3" stroke="#2a2a2a" stroke-width="1.3" />
<line x1="217.1" y1="407.3" x2="220.6" y2="407.3" stroke="#333" stroke-width="1.1" />
<text transform="matrix(1 0 0 1.04 216 409.55)" font-size="6.3" font-weight="bold" stroke="#111" stroke-width="0.15" text-anchor="end" fill="#111" >0</text>
<line x1="217.1" y1="382.22" x2="220.6" y2="382.22" stroke="#333" stroke-width="1.1" />
<text transform="matrix(1 0 0 1.04 216 384.47)" font-size="6.3" font-weight="bold" stroke="#111" stroke-width="0.15" text-anchor="end" fill="#111" >200</text>
<line x1="217.1" y1="357.14" x2="220.6" y2="357.14" stroke="#333" stroke-width="1.1" />
<text transform="matrix(1 0 0 1.04 216 359.39)" font-size="6.3" font-weight="bold" stroke="#111" stroke-width="0.15" text-anchor="end" fill="#111" >400</text>
<line x1="217.1" y1="332.06" x2="220.6" y2="332.06" stroke="#333" stroke-width="1.1" />
<text transform="matrix(1 0 0 1.04 216 334.31)" font-size="6.3" font-weight="bold" stroke="#111" stroke-width="0.15" text-anchor="end" fill="#111" >600</text>
<line x1="217.1" y1="306.98" x2="220.6" y2="306.98" stroke="#333" stroke-width="1.1" />
<text transform="matrix(1 0 0 1.04 216 309.23)" font-size="6.3" font-weight="bold" stroke="#111" stroke-width="0.15" text-anchor="end" fill="#111" >800</text>
<line x1="217.1" y1="281.9" x2="220.6" y2="281.9" stroke="#333" stroke-width="1.1" />
<text transform="matrix(1 0 0 1.04 216 284.15)" font-size="6.3" font-weight="bold" stroke="#111" stroke-width="0.15" text-anchor="end" fill="#111" >1000</text>
<line x1="239.8" y1="407.3" x2="239.8" y2="410.7" stroke="#2a2a2a" stroke-width="1.3" />
<text transform="matrix(1 0 0 1.04 239.8 417.6)" font-size="6.3" font-weight="bold" stroke="#111" stroke-width="0.15" text-anchor="middle" fill="#111" >DOM</text>
<line x1="285" y1="407.3" x2="285" y2="410.7" stroke="#2a2a2a" stroke-width="1.3" />
<text transform="matrix(1 0 0 1.04 285 417.6)" font-size="6.3" font-weight="bold" stroke="#111" stroke-width="0.15" text-anchor="middle" fill="#111" >SUB</text>
<text transform="translate(197.32,344.8) rotate(-90) scale(1,1.04)" font-size="7.15" font-weight="bold" text-anchor="middle" fill="#111" stroke="#111" stroke-width="0.15">Amount (min/12hr)</text>
<rect x="328.8" y="369.68" width="9.9" height="37.92" fill="url(#chkO)" stroke="#0e0e0e" stroke-width="1.2" />
<rect x="346.35" y="372.21" width="9.9" height="35.39" fill="url(#chkG)" stroke="#0e0e0e" stroke-width="1.2" />
<line x1="333.75" y1="369.68" x2="333.75" y2="366.52" stroke="#111" stroke-width="0.8" />
<line x1="331.75" y1="366.52" x2="335.75" y2="366.52" stroke="#111" stroke-width="0.8" />
<line x1="351.3" y1="372.21" x2="351.3" y2="371.26" stroke="#111" stroke-width="0.8" />
<line x1="349.3" y1="371.26" x2="353.3" y2="371.26" stroke="#111" stroke-width="0.8" />
<circle cx="333.75" cy="355.78" r="1.2" fill="#111" stroke="none" stroke-width="0"/>
<circle cx="333.75" cy="367.78" r="1.2" fill="#111" stroke="none" stroke-width="0"/>
<circle cx="328.95" cy="370.31" r="1.2" fill="#111" stroke="none" stroke-width="0"/>
<circle cx="338.65" cy="370.31" r="1.2" fill="#111" stroke="none" stroke-width="0"/>
<circle cx="333.75" cy="372.52" r="1.2" fill="#111" stroke="none" stroke-width="0"/>
<circle cx="351.3" cy="367.78" r="1.2" fill="#111" stroke="none" stroke-width="0"/>
<circle cx="355.9" cy="370.31" r="1.2" fill="#111" stroke="none" stroke-width="0"/>
<circle cx="346.7" cy="372.21" r="1.2" fill="#111" stroke="none" stroke-width="0"/>
<circle cx="351.3" cy="372.84" r="1.2" fill="#111" stroke="none" stroke-width="0"/>
<line x1="322.5" y1="280.7" x2="322.5" y2="408.1" stroke="#2a2a2a" stroke-width="1.3" />
<line x1="322" y1="407.6" x2="363.3" y2="407.6" stroke="#2a2a2a" stroke-width="1.3" />
<line x1="319" y1="407.6" x2="322.5" y2="407.6" stroke="#333" stroke-width="1.1" />
<text transform="matrix(1 0 0 1.04 317.9 409.85)" font-size="6.3" font-weight="bold" stroke="#111" stroke-width="0.15" text-anchor="end" fill="#111" >0</text>
<line x1="319" y1="376" x2="322.5" y2="376" stroke="#333" stroke-width="1.1" />
<text transform="matrix(1 0 0 1.04 317.9 378.25)" font-size="6.3" font-weight="bold" stroke="#111" stroke-width="0.15" text-anchor="end" fill="#111" >1</text>
<line x1="319" y1="344.4" x2="322.5" y2="344.4" stroke="#333" stroke-width="1.1" />
<text transform="matrix(1 0 0 1.04 317.9 346.65)" font-size="6.3" font-weight="bold" stroke="#111" stroke-width="0.15" text-anchor="end" fill="#111" >2</text>
<line x1="319" y1="312.8" x2="322.5" y2="312.8" stroke="#333" stroke-width="1.1" />
<text transform="matrix(1 0 0 1.04 317.9 315.05)" font-size="6.3" font-weight="bold" stroke="#111" stroke-width="0.15" text-anchor="end" fill="#111" >3</text>
<line x1="319" y1="281.2" x2="322.5" y2="281.2" stroke="#333" stroke-width="1.1" />
<text transform="matrix(1 0 0 1.04 317.9 283.45)" font-size="6.3" font-weight="bold" stroke="#111" stroke-width="0.15" text-anchor="end" fill="#111" >4</text>
<line x1="333.9" y1="407.6" x2="333.9" y2="411" stroke="#2a2a2a" stroke-width="1.3" />
<text transform="matrix(1 0 0 1.04 333.9 417.9)" font-size="6.3" font-weight="bold" stroke="#111" stroke-width="0.15" text-anchor="middle" fill="#111" >DOM</text>
<line x1="351.2" y1="407.6" x2="351.2" y2="411" stroke="#2a2a2a" stroke-width="1.3" />
<text transform="matrix(1 0 0 1.04 351.2 417.9)" font-size="6.3" font-weight="bold" stroke="#111" stroke-width="0.15" text-anchor="middle" fill="#111" >SUB</text>
<text transform="translate(310.19,344.6) rotate(-90) scale(1,1.04)" font-size="7.05" font-weight="bold" text-anchor="middle" fill="#111" stroke="#111" stroke-width="0.15">Single / Neighbor</text>
<text transform="matrix(1 0 0 1.04 261.7 289.7)" font-size="7.3" stroke="#1a1a1a" stroke-width="0.16" text-anchor="middle" fill="#1a1a1a" >Housing&#160;&#160;<tspan font-style="italic">##</tspan></text>
<line x1="229" y1="293.5" x2="293.8" y2="293.5" stroke="#222" stroke-width="1.0" />
<path d="M231.3 358V347.5H248.6V352.2" fill="none" stroke="#222" stroke-width="0.9"/>
<text transform="matrix(1 0 0 1.04 239.8 347.5)" font-size="11" font-weight="bold" stroke="#111" stroke-width="0.1" text-anchor="middle" fill="#111" >*</text>
<text transform="matrix(1 0 0 1.04 74.6 448.46)" font-size="8.3" font-weight="bold" stroke="#111" stroke-width="0.15" text-anchor="middle" fill="#111" >REMS</text>
<text transform="matrix(1 0 0 1.04 74.6 458.36)" font-size="8.3" font-weight="bold" stroke="#111" stroke-width="0.15" text-anchor="middle" fill="#111" >(Light phase)</text>
<rect x="38.7" y="516.48" width="9.6" height="78.02" fill="#8C5B20" stroke="#0e0e0e" stroke-width="1.2" />
<rect x="55.8" y="516.14" width="9.6" height="78.36" fill="#F8A03F" stroke="#0e0e0e" stroke-width="1.2" />
<rect x="83.9" y="516.14" width="9.6" height="78.36" fill="#0C6A44" stroke="#0e0e0e" stroke-width="1.2" />
<rect x="100.9" y="519" width="9.6" height="75.5" fill="#00F000" stroke="#0e0e0e" stroke-width="1.2" />
<line x1="43.5" y1="506.41" x2="60.6" y2="500.69" stroke="#a0a0a0" stroke-width="0.55" />
<line x1="43.5" y1="511.45" x2="60.6" y2="503.21" stroke="#a0a0a0" stroke-width="0.55" />
<line x1="43.5" y1="512.48" x2="60.6" y2="519.45" stroke="#a0a0a0" stroke-width="0.55" />
<line x1="43.5" y1="524.72" x2="60.6" y2="523" stroke="#a0a0a0" stroke-width="0.55" />
<line x1="43.5" y1="528.26" x2="60.6" y2="524.72" stroke="#a0a0a0" stroke-width="0.55" />
<line x1="43.5" y1="519" x2="60.6" y2="505.5" stroke="#a0a0a0" stroke-width="0.55" />
<path d="M43.5 504.21L45.7 506.41L43.5 508.61L41.3 506.41Z" fill="none" stroke="#2a2a2a" stroke-width="0.75"/>
<path d="M43.5 509.25L45.7 511.45L43.5 513.65L41.3 511.45Z" fill="none" stroke="#2a2a2a" stroke-width="0.75"/>
<path d="M43.5 510.28L45.7 512.48L43.5 514.68L41.3 512.48Z" fill="none" stroke="#2a2a2a" stroke-width="0.75"/>
<path d="M43.5 522.52L45.7 524.72L43.5 526.92L41.3 524.72Z" fill="none" stroke="#2a2a2a" stroke-width="0.75"/>
<path d="M43.5 526.06L45.7 528.26L43.5 530.46L41.3 528.26Z" fill="none" stroke="#2a2a2a" stroke-width="0.75"/>
<path d="M43.5 516.8L45.7 519L43.5 521.2L41.3 519Z" fill="none" stroke="#2a2a2a" stroke-width="0.75"/>
<path d="M60.6 498.69L62.6 502.19L58.6 502.19Z" fill="none" stroke="#2a2a2a" stroke-width="0.75"/>
<path d="M60.6 501.21L62.6 504.71L58.6 504.71Z" fill="none" stroke="#2a2a2a" stroke-width="0.75"/>
<path d="M60.6 517.45L62.6 520.95L58.6 520.95Z" fill="none" stroke="#2a2a2a" stroke-width="0.75"/>
<path d="M60.6 521L62.6 524.5L58.6 524.5Z" fill="none" stroke="#2a2a2a" stroke-width="0.75"/>
<path d="M60.6 522.72L62.6 526.22L58.6 526.22Z" fill="none" stroke="#2a2a2a" stroke-width="0.75"/>
<path d="M60.6 503.5L62.6 507L58.6 507Z" fill="none" stroke="#2a2a2a" stroke-width="0.75"/>
<line x1="88.7" y1="503.21" x2="105.7" y2="504.92" stroke="#a0a0a0" stroke-width="0.55" />
<line x1="88.7" y1="507.78" x2="105.7" y2="511.45" stroke="#a0a0a0" stroke-width="0.55" />
<line x1="88.7" y1="513.05" x2="105.7" y2="521.86" stroke="#a0a0a0" stroke-width="0.55" />
<line x1="88.7" y1="521.86" x2="105.7" y2="526.55" stroke="#a0a0a0" stroke-width="0.55" />
<line x1="88.7" y1="527.12" x2="105.7" y2="531.81" stroke="#a0a0a0" stroke-width="0.55" />
<line x1="88.7" y1="514.42" x2="105.7" y2="519" stroke="#a0a0a0" stroke-width="0.55" />
<circle cx="88.7" cy="503.21" r="1.9" fill="none" stroke="#2a2a2a" stroke-width="0.75"/>
<circle cx="88.7" cy="507.78" r="1.9" fill="none" stroke="#2a2a2a" stroke-width="0.75"/>
<circle cx="88.7" cy="513.05" r="1.9" fill="none" stroke="#2a2a2a" stroke-width="0.75"/>
<circle cx="88.7" cy="521.86" r="1.9" fill="none" stroke="#2a2a2a" stroke-width="0.75"/>
<circle cx="88.7" cy="527.12" r="1.9" fill="none" stroke="#2a2a2a" stroke-width="0.75"/>
<circle cx="88.7" cy="514.42" r="1.9" fill="none" stroke="#2a2a2a" stroke-width="0.75"/>
<path d="M105.7 502.92L107.7 506.42L103.7 506.42Z" fill="none" stroke="#2a2a2a" stroke-width="0.75"/>
<path d="M105.7 509.45L107.7 512.95L103.7 512.95Z" fill="none" stroke="#2a2a2a" stroke-width="0.75"/>
<path d="M105.7 519.86L107.7 523.36L103.7 523.36Z" fill="none" stroke="#2a2a2a" stroke-width="0.75"/>
<path d="M105.7 524.55L107.7 528.05L103.7 528.05Z" fill="none" stroke="#2a2a2a" stroke-width="0.75"/>
<path d="M105.7 529.81L107.7 533.31L103.7 533.31Z" fill="none" stroke="#2a2a2a" stroke-width="0.75"/>
<path d="M105.7 517L107.7 520.5L103.7 520.5Z" fill="none" stroke="#2a2a2a" stroke-width="0.75"/>
<line x1="43.5" y1="516.48" x2="43.5" y2="513.05" stroke="#111" stroke-width="0.8" />
<line x1="41.5" y1="513.05" x2="45.5" y2="513.05" stroke="#111" stroke-width="0.8" />
<line x1="60.6" y1="516.14" x2="60.6" y2="511.1" stroke="#111" stroke-width="0.8" />
<line x1="58.6" y1="511.1" x2="62.6" y2="511.1" stroke="#111" stroke-width="0.8" />
<line x1="88.7" y1="516.14" x2="88.7" y2="512.7" stroke="#111" stroke-width="0.8" />
<line x1="86.7" y1="512.7" x2="90.7" y2="512.7" stroke="#111" stroke-width="0.8" />
<line x1="105.7" y1="519" x2="105.7" y2="514.88" stroke="#111" stroke-width="0.8" />
<line x1="103.7" y1="514.88" x2="107.7" y2="514.88" stroke="#111" stroke-width="0.8" />
<line x1="32.5" y1="468.16" x2="32.5" y2="595" stroke="#2a2a2a" stroke-width="1.3" />
<line x1="32" y1="594.5" x2="117" y2="594.5" stroke="#2a2a2a" stroke-width="1.3" />
<line x1="29" y1="594.5" x2="32.5" y2="594.5" stroke="#333" stroke-width="1.1" />
<text transform="matrix(1 0 0 1.04 27.9 596.75)" font-size="6.3" font-weight="bold" stroke="#111" stroke-width="0.15" text-anchor="end" fill="#111" >0</text>
<line x1="29" y1="537.3" x2="32.5" y2="537.3" stroke="#333" stroke-width="1.1" />
<text transform="matrix(1 0 0 1.04 27.9 539.55)" font-size="6.3" font-weight="bold" stroke="#111" stroke-width="0.15" text-anchor="end" fill="#111" >50</text>
<line x1="29" y1="480.1" x2="32.5" y2="480.1" stroke="#333" stroke-width="1.1" />
<text transform="matrix(1 0 0 1.04 27.9 482.35)" font-size="6.3" font-weight="bold" stroke="#111" stroke-width="0.15" text-anchor="end" fill="#111" >100</text>
<line x1="51.7" y1="594.5" x2="51.7" y2="597.9" stroke="#2a2a2a" stroke-width="1.3" />
<text transform="matrix(1 0 0 1.04 51.7 604.8)" font-size="6.3" font-weight="bold" stroke="#111" stroke-width="0.15" text-anchor="middle" fill="#111" >DOM</text>
<line x1="96.9" y1="594.5" x2="96.9" y2="597.9" stroke="#2a2a2a" stroke-width="1.3" />
<text transform="matrix(1 0 0 1.04 96.9 604.8)" font-size="6.3" font-weight="bold" stroke="#111" stroke-width="0.15" text-anchor="middle" fill="#111" >SUB</text>
<text transform="translate(13.22,531.78) rotate(-90) scale(1,1.04)" font-size="7.15" font-weight="bold" text-anchor="middle" fill="#111" stroke="#111" stroke-width="0.15">Amount (min/12hr)</text>
<rect x="142.1" y="563.55" width="9.9" height="30.75" fill="url(#chkO)" stroke="#0e0e0e" stroke-width="1.2" />
<rect x="159.65" y="564.81" width="9.9" height="29.49" fill="url(#chkG)" stroke="#0e0e0e" stroke-width="1.2" />
<line x1="147.05" y1="563.55" x2="147.05" y2="561.36" stroke="#111" stroke-width="0.8" />
<line x1="145.05" y1="561.36" x2="149.05" y2="561.36" stroke="#111" stroke-width="0.8" />
<line x1="164.6" y1="564.81" x2="164.6" y2="563.87" stroke="#111" stroke-width="0.8" />
<line x1="162.6" y1="563.87" x2="166.6" y2="563.87" stroke="#111" stroke-width="0.8" />
<circle cx="142.45" cy="560.41" r="1.2" fill="#111" stroke="none" stroke-width="0"/>
<circle cx="146.95" cy="558.85" r="1.2" fill="#111" stroke="none" stroke-width="0"/>
<circle cx="151.35" cy="561.36" r="1.2" fill="#111" stroke="none" stroke-width="0"/>
<circle cx="144.55" cy="566.69" r="1.2" fill="#111" stroke="none" stroke-width="0"/>
<circle cx="149.25" cy="565.75" r="1.2" fill="#111" stroke="none" stroke-width="0"/>
<circle cx="162.3" cy="562.92" r="1.2" fill="#111" stroke="none" stroke-width="0"/>
<circle cx="166.5" cy="563.87" r="1.2" fill="#111" stroke="none" stroke-width="0"/>
<circle cx="169.2" cy="562.61" r="1.2" fill="#111" stroke="none" stroke-width="0"/>
<circle cx="160.1" cy="564.18" r="1.2" fill="#111" stroke="none" stroke-width="0"/>
<line x1="135.8" y1="468.3" x2="135.8" y2="594.8" stroke="#2a2a2a" stroke-width="1.3" />
<line x1="135.3" y1="594.3" x2="176.6" y2="594.3" stroke="#2a2a2a" stroke-width="1.3" />
<line x1="132.3" y1="594.3" x2="135.8" y2="594.3" stroke="#333" stroke-width="1.1" />
<text transform="matrix(1 0 0 1.04 131.2 596.55)" font-size="6.3" font-weight="bold" stroke="#111" stroke-width="0.15" text-anchor="end" fill="#111" >0</text>
<line x1="132.3" y1="562.92" x2="135.8" y2="562.92" stroke="#333" stroke-width="1.1" />
<text transform="matrix(1 0 0 1.04 131.2 565.17)" font-size="6.3" font-weight="bold" stroke="#111" stroke-width="0.15" text-anchor="end" fill="#111" >1</text>
<line x1="132.3" y1="531.55" x2="135.8" y2="531.55" stroke="#333" stroke-width="1.1" />
<text transform="matrix(1 0 0 1.04 131.2 533.8)" font-size="6.3" font-weight="bold" stroke="#111" stroke-width="0.15" text-anchor="end" fill="#111" >2</text>
<line x1="132.3" y1="500.18" x2="135.8" y2="500.18" stroke="#333" stroke-width="1.1" />
<text transform="matrix(1 0 0 1.04 131.2 502.43)" font-size="6.3" font-weight="bold" stroke="#111" stroke-width="0.15" text-anchor="end" fill="#111" >3</text>
<line x1="132.3" y1="468.8" x2="135.8" y2="468.8" stroke="#333" stroke-width="1.1" />
<text transform="matrix(1 0 0 1.04 131.2 471.05)" font-size="6.3" font-weight="bold" stroke="#111" stroke-width="0.15" text-anchor="end" fill="#111" >4</text>
<line x1="147.2" y1="594.3" x2="147.2" y2="597.7" stroke="#2a2a2a" stroke-width="1.3" />
<text transform="matrix(1 0 0 1.04 147.2 604.6)" font-size="6.3" font-weight="bold" stroke="#111" stroke-width="0.15" text-anchor="middle" fill="#111" >DOM</text>
<line x1="164.5" y1="594.3" x2="164.5" y2="597.7" stroke="#2a2a2a" stroke-width="1.3" />
<text transform="matrix(1 0 0 1.04 164.5 604.6)" font-size="6.3" font-weight="bold" stroke="#111" stroke-width="0.15" text-anchor="middle" fill="#111" >SUB</text>
<text transform="translate(123.49,531.75) rotate(-90) scale(1,1.04)" font-size="7.05" font-weight="bold" text-anchor="middle" fill="#111" stroke="#111" stroke-width="0.15">Single / Neighbor</text>
<text transform="matrix(1 0 0 1.04 262.7 446.86)" font-size="8.3" font-weight="bold" stroke="#111" stroke-width="0.15" text-anchor="middle" fill="#111" >REMS</text>
<text transform="matrix(1 0 0 1.04 262.7 456.76)" font-size="8.3" font-weight="bold" stroke="#111" stroke-width="0.15" text-anchor="middle" fill="#111" >(Dark phase)</text>
<rect x="227" y="559.96" width="9.6" height="34.44" fill="#8C5B20" stroke="#0e0e0e" stroke-width="1.2" />
<rect x="244.1" y="557.43" width="9.6" height="36.97" fill="#F8A03F" stroke="#0e0e0e" stroke-width="1.2" />
<rect x="272.2" y="561.45" width="9.6" height="32.95" fill="#0C6A44" stroke="#0e0e0e" stroke-width="1.2" />
<rect x="289.2" y="560.42" width="9.6" height="33.98" fill="#00F000" stroke="#0e0e0e" stroke-width="1.2" />
<line x1="231.8" y1="543.77" x2="248.9" y2="544" stroke="#a0a0a0" stroke-width="0.55" />
<line x1="231.8" y1="555.71" x2="248.9" y2="535.85" stroke="#a0a0a0" stroke-width="0.55" />
<line x1="231.8" y1="558.01" x2="248.9" y2="562.14" stroke="#a0a0a0" stroke-width="0.55" />
<line x1="231.8" y1="561.45" x2="248.9" y2="563.86" stroke="#a0a0a0" stroke-width="0.55" />
<line x1="231.8" y1="565.59" x2="248.9" y2="579.59" stroke="#a0a0a0" stroke-width="0.55" />
<line x1="231.8" y1="559.96" x2="248.9" y2="557.66" stroke="#a0a0a0" stroke-width="0.55" />
<path d="M231.8 541.57L234 543.77L231.8 545.97L229.6 543.77Z" fill="none" stroke="#2a2a2a" stroke-width="0.75"/>
<path d="M231.8 553.51L234 555.71L231.8 557.91L229.6 555.71Z" fill="none" stroke="#2a2a2a" stroke-width="0.75"/>
<path d="M231.8 555.81L234 558.01L231.8 560.21L229.6 558.01Z" fill="none" stroke="#2a2a2a" stroke-width="0.75"/>
<path d="M231.8 559.25L234 561.45L231.8 563.65L229.6 561.45Z" fill="none" stroke="#2a2a2a" stroke-width="0.75"/>
<path d="M231.8 563.39L234 565.59L231.8 567.79L229.6 565.59Z" fill="none" stroke="#2a2a2a" stroke-width="0.75"/>
<path d="M231.8 557.76L234 559.96L231.8 562.16L229.6 559.96Z" fill="none" stroke="#2a2a2a" stroke-width="0.75"/>
<path d="M248.9 542L250.9 545.5L246.9 545.5Z" fill="none" stroke="#2a2a2a" stroke-width="0.75"/>
<path d="M248.9 533.85L250.9 537.35L246.9 537.35Z" fill="none" stroke="#2a2a2a" stroke-width="0.75"/>
<path d="M248.9 560.14L250.9 563.64L246.9 563.64Z" fill="none" stroke="#2a2a2a" stroke-width="0.75"/>
<path d="M248.9 561.86L250.9 565.36L246.9 565.36Z" fill="none" stroke="#2a2a2a" stroke-width="0.75"/>
<path d="M248.9 577.59L250.9 581.09L246.9 581.09Z" fill="none" stroke="#2a2a2a" stroke-width="0.75"/>
<path d="M248.9 555.66L250.9 559.16L246.9 559.16Z" fill="none" stroke="#2a2a2a" stroke-width="0.75"/>
<line x1="277" y1="539.3" x2="294" y2="551.58" stroke="#a0a0a0" stroke-width="0.55" />
<line x1="277" y1="554.45" x2="294" y2="558.01" stroke="#a0a0a0" stroke-width="0.55" />
<line x1="277" y1="556.29" x2="294" y2="563.86" stroke="#a0a0a0" stroke-width="0.55" />
<line x1="277" y1="570.29" x2="294" y2="569.14" stroke="#a0a0a0" stroke-width="0.55" />
<line x1="277" y1="572.59" x2="294" y2="569.14" stroke="#a0a0a0" stroke-width="0.55" />
<line x1="277" y1="562.26" x2="294" y2="562.26" stroke="#a0a0a0" stroke-width="0.55" />
<path d="M277 537.1L279.2 539.3L277 541.5L274.8 539.3Z" fill="none" stroke="#2a2a2a" stroke-width="0.75"/>
<path d="M277 552.25L279.2 554.45L277 556.65L274.8 554.45Z" fill="none" stroke="#2a2a2a" stroke-width="0.75"/>
<path d="M277 554.09L279.2 556.29L277 558.49L274.8 556.29Z" fill="none" stroke="#2a2a2a" stroke-width="0.75"/>
<path d="M277 568.09L279.2 570.29L277 572.49L274.8 570.29Z" fill="none" stroke="#2a2a2a" stroke-width="0.75"/>
<path d="M277 570.39L279.2 572.59L277 574.79L274.8 572.59Z" fill="none" stroke="#2a2a2a" stroke-width="0.75"/>
<path d="M277 560.06L279.2 562.26L277 564.46L274.8 562.26Z" fill="none" stroke="#2a2a2a" stroke-width="0.75"/>
<path d="M294 549.58L296 553.08L292 553.08Z" fill="none" stroke="#2a2a2a" stroke-width="0.75"/>
<path d="M294 556.01L296 559.51L292 559.51Z" fill="none" stroke="#2a2a2a" stroke-width="0.75"/>
<path d="M294 561.86L296 565.36L292 565.36Z" fill="none" stroke="#2a2a2a" stroke-width="0.75"/>
<path d="M294 567.14L296 570.64L292 570.64Z" fill="none" stroke="#2a2a2a" stroke-width="0.75"/>
<path d="M294 567.14L296 570.64L292 570.64Z" fill="none" stroke="#2a2a2a" stroke-width="0.75"/>
<path d="M294 560.26L296 563.76L292 563.76Z" fill="none" stroke="#2a2a2a" stroke-width="0.75"/>
<line x1="231.8" y1="559.96" x2="231.8" y2="557.09" stroke="#111" stroke-width="0.8" />
<line x1="229.8" y1="557.09" x2="233.8" y2="557.09" stroke="#111" stroke-width="0.8" />
<line x1="248.9" y1="557.43" x2="248.9" y2="550.43" stroke="#111" stroke-width="0.8" />
<line x1="246.9" y1="550.43" x2="250.9" y2="550.43" stroke="#111" stroke-width="0.8" />
<line x1="277" y1="561.45" x2="277" y2="558.01" stroke="#111" stroke-width="0.8" />
<line x1="275" y1="558.01" x2="279" y2="558.01" stroke="#111" stroke-width="0.8" />
<line x1="294" y1="560.42" x2="294" y2="557.43" stroke="#111" stroke-width="0.8" />
<line x1="292" y1="557.43" x2="296" y2="557.43" stroke="#111" stroke-width="0.8" />
<line x1="220.8" y1="467.62" x2="220.8" y2="594.9" stroke="#2a2a2a" stroke-width="1.3" />
<line x1="220.3" y1="594.4" x2="305.3" y2="594.4" stroke="#2a2a2a" stroke-width="1.3" />
<line x1="217.3" y1="594.4" x2="220.8" y2="594.4" stroke="#333" stroke-width="1.1" />
<text transform="matrix(1 0 0 1.04 216.2 596.65)" font-size="6.3" font-weight="bold" stroke="#111" stroke-width="0.15" text-anchor="end" fill="#111" >0</text>
<line x1="217.3" y1="537" x2="220.8" y2="537" stroke="#333" stroke-width="1.1" />
<text transform="matrix(1 0 0 1.04 216.2 539.25)" font-size="6.3" font-weight="bold" stroke="#111" stroke-width="0.15" text-anchor="end" fill="#111" >50</text>
<line x1="217.3" y1="479.6" x2="220.8" y2="479.6" stroke="#333" stroke-width="1.1" />
<text transform="matrix(1 0 0 1.04 216.2 481.85)" font-size="6.3" font-weight="bold" stroke="#111" stroke-width="0.15" text-anchor="end" fill="#111" >100</text>
<line x1="240" y1="594.4" x2="240" y2="597.8" stroke="#2a2a2a" stroke-width="1.3" />
<text transform="matrix(1 0 0 1.04 240 604.7)" font-size="6.3" font-weight="bold" stroke="#111" stroke-width="0.15" text-anchor="middle" fill="#111" >DOM</text>
<line x1="285.2" y1="594.4" x2="285.2" y2="597.8" stroke="#2a2a2a" stroke-width="1.3" />
<text transform="matrix(1 0 0 1.04 285.2 604.7)" font-size="6.3" font-weight="bold" stroke="#111" stroke-width="0.15" text-anchor="middle" fill="#111" >SUB</text>
<text transform="translate(201.52,531.46) rotate(-90) scale(1,1.04)" font-size="7.15" font-weight="bold" text-anchor="middle" fill="#111" stroke="#111" stroke-width="0.15">Amount (min/12hr)</text>
<rect x="328.7" y="561.1" width="9.9" height="33" fill="url(#chkO)" stroke="#0e0e0e" stroke-width="1.2" />
<rect x="346.25" y="559.22" width="9.9" height="34.88" fill="url(#chkG)" stroke="#0e0e0e" stroke-width="1.2" />
<line x1="333.65" y1="561.1" x2="333.65" y2="555.13" stroke="#111" stroke-width="0.8" />
<line x1="331.65" y1="555.13" x2="335.65" y2="555.13" stroke="#111" stroke-width="0.8" />
<line x1="351.2" y1="559.22" x2="351.2" y2="555.13" stroke="#111" stroke-width="0.8" />
<line x1="349.2" y1="555.13" x2="353.2" y2="555.13" stroke="#111" stroke-width="0.8" />
<circle cx="333.65" cy="538.79" r="1.2" fill="#111" stroke="none" stroke-width="0"/>
<circle cx="331.05" cy="557.02" r="1.2" fill="#111" stroke="none" stroke-width="0"/>
<circle cx="336.45" cy="558.9" r="1.2" fill="#111" stroke="none" stroke-width="0"/>
<circle cx="333.65" cy="562.67" r="1.2" fill="#111" stroke="none" stroke-width="0"/>
<circle cx="333.65" cy="568.65" r="1.2" fill="#111" stroke="none" stroke-width="0"/>
<circle cx="333.65" cy="578.07" r="1.2" fill="#111" stroke="none" stroke-width="0"/>
<circle cx="351.2" cy="547.91" r="1.2" fill="#111" stroke="none" stroke-width="0"/>
<circle cx="351.2" cy="551.99" r="1.2" fill="#111" stroke="none" stroke-width="0"/>
<circle cx="351.2" cy="555.76" r="1.2" fill="#111" stroke="none" stroke-width="0"/>
<circle cx="351.2" cy="560.16" r="1.2" fill="#111" stroke="none" stroke-width="0"/>
<circle cx="353.7" cy="567.7" r="1.2" fill="#111" stroke="none" stroke-width="0"/>
<circle cx="348.5" cy="569.9" r="1.2" fill="#111" stroke="none" stroke-width="0"/>
<line x1="322.4" y1="467.9" x2="322.4" y2="594.6" stroke="#2a2a2a" stroke-width="1.3" />
<line x1="321.9" y1="594.1" x2="363.2" y2="594.1" stroke="#2a2a2a" stroke-width="1.3" />
<line x1="318.9" y1="594.1" x2="322.4" y2="594.1" stroke="#333" stroke-width="1.1" />
<text transform="matrix(1 0 0 1.04 317.8 596.35)" font-size="6.3" font-weight="bold" stroke="#111" stroke-width="0.15" text-anchor="end" fill="#111" >0</text>
<line x1="318.9" y1="562.67" x2="322.4" y2="562.67" stroke="#333" stroke-width="1.1" />
<text transform="matrix(1 0 0 1.04 317.8 564.92)" font-size="6.3" font-weight="bold" stroke="#111" stroke-width="0.15" text-anchor="end" fill="#111" >1</text>
<line x1="318.9" y1="531.25" x2="322.4" y2="531.25" stroke="#333" stroke-width="1.1" />
<text transform="matrix(1 0 0 1.04 317.8 533.5)" font-size="6.3" font-weight="bold" stroke="#111" stroke-width="0.15" text-anchor="end" fill="#111" >2</text>
<line x1="318.9" y1="499.82" x2="322.4" y2="499.82" stroke="#333" stroke-width="1.1" />
<text transform="matrix(1 0 0 1.04 317.8 502.07)" font-size="6.3" font-weight="bold" stroke="#111" stroke-width="0.15" text-anchor="end" fill="#111" >3</text>
<line x1="318.9" y1="468.4" x2="322.4" y2="468.4" stroke="#333" stroke-width="1.1" />
<text transform="matrix(1 0 0 1.04 317.8 470.65)" font-size="6.3" font-weight="bold" stroke="#111" stroke-width="0.15" text-anchor="end" fill="#111" >4</text>
<line x1="333.8" y1="594.1" x2="333.8" y2="597.5" stroke="#2a2a2a" stroke-width="1.3" />
<text transform="matrix(1 0 0 1.04 333.8 604.4)" font-size="6.3" font-weight="bold" stroke="#111" stroke-width="0.15" text-anchor="middle" fill="#111" >DOM</text>
<line x1="351.1" y1="594.1" x2="351.1" y2="597.5" stroke="#2a2a2a" stroke-width="1.3" />
<text transform="matrix(1 0 0 1.04 351.1 604.4)" font-size="6.3" font-weight="bold" stroke="#111" stroke-width="0.15" text-anchor="middle" fill="#111" >SUB</text>
<text transform="translate(310.09,531.45) rotate(-90) scale(1,1.04)" font-size="7.05" font-weight="bold" text-anchor="middle" fill="#111" stroke="#111" stroke-width="0.15">Single / Neighbor</text>
<text transform="matrix(1 0 0 1.04 73.5 635.76)" font-size="8.3" font-weight="bold" stroke="#111" stroke-width="0.15" text-anchor="middle" fill="#111" >REMS / Total sleep</text>
<text transform="matrix(1 0 0 1.04 73.5 645.66)" font-size="8.3" font-weight="bold" stroke="#111" stroke-width="0.15" text-anchor="middle" fill="#111" >(Light phase)</text>
<rect x="38.6" y="694.85" width="9.6" height="87.15" fill="#8C5B20" stroke="#0e0e0e" stroke-width="1.2" />
<rect x="55.7" y="692.97" width="9.6" height="89.03" fill="#F8A03F" stroke="#0e0e0e" stroke-width="1.2" />
<rect x="83.8" y="693.59" width="9.6" height="88.41" fill="#0C6A44" stroke="#0e0e0e" stroke-width="1.2" />
<rect x="100.8" y="699.24" width="9.6" height="82.76" fill="#00F000" stroke="#0e0e0e" stroke-width="1.2" />
<line x1="43.4" y1="684.19" x2="60.5" y2="687.32" stroke="#a0a0a0" stroke-width="0.55" />
<line x1="43.4" y1="687.95" x2="60.5" y2="685.44" stroke="#a0a0a0" stroke-width="0.55" />
<line x1="43.4" y1="690.46" x2="60.5" y2="694.22" stroke="#a0a0a0" stroke-width="0.55" />
<line x1="43.4" y1="697.98" x2="60.5" y2="697.98" stroke="#a0a0a0" stroke-width="0.55" />
<line x1="43.4" y1="699.86" x2="60.5" y2="699.86" stroke="#a0a0a0" stroke-width="0.55" />
<line x1="43.4" y1="705.51" x2="60.5" y2="703.62" stroke="#a0a0a0" stroke-width="0.55" />
<path d="M43.4 681.99L45.6 684.19L43.4 686.39L41.2 684.19Z" fill="none" stroke="#2a2a2a" stroke-width="0.75"/>
<path d="M43.4 685.75L45.6 687.95L43.4 690.15L41.2 687.95Z" fill="none" stroke="#2a2a2a" stroke-width="0.75"/>
<path d="M43.4 688.26L45.6 690.46L43.4 692.66L41.2 690.46Z" fill="none" stroke="#2a2a2a" stroke-width="0.75"/>
<path d="M43.4 695.78L45.6 697.98L43.4 700.18L41.2 697.98Z" fill="none" stroke="#2a2a2a" stroke-width="0.75"/>
<path d="M43.4 697.66L45.6 699.86L43.4 702.06L41.2 699.86Z" fill="none" stroke="#2a2a2a" stroke-width="0.75"/>
<path d="M43.4 703.31L45.6 705.51L43.4 707.71L41.2 705.51Z" fill="none" stroke="#2a2a2a" stroke-width="0.75"/>
<path d="M60.5 685.32L62.5 688.82L58.5 688.82Z" fill="none" stroke="#2a2a2a" stroke-width="0.75"/>
<path d="M60.5 683.44L62.5 686.94L58.5 686.94Z" fill="none" stroke="#2a2a2a" stroke-width="0.75"/>
<path d="M60.5 692.22L62.5 695.72L58.5 695.72Z" fill="none" stroke="#2a2a2a" stroke-width="0.75"/>
<path d="M60.5 695.98L62.5 699.48L58.5 699.48Z" fill="none" stroke="#2a2a2a" stroke-width="0.75"/>
<path d="M60.5 697.86L62.5 701.36L58.5 701.36Z" fill="none" stroke="#2a2a2a" stroke-width="0.75"/>
<path d="M60.5 701.62L62.5 705.12L58.5 705.12Z" fill="none" stroke="#2a2a2a" stroke-width="0.75"/>
<line x1="88.6" y1="681.05" x2="105.6" y2="681.68" stroke="#a0a0a0" stroke-width="0.55" />
<line x1="88.6" y1="681.05" x2="105.6" y2="694.85" stroke="#a0a0a0" stroke-width="0.55" />
<line x1="88.6" y1="691.09" x2="105.6" y2="694.85" stroke="#a0a0a0" stroke-width="0.55" />
<line x1="88.6" y1="699.86" x2="105.6" y2="712.4" stroke="#a0a0a0" stroke-width="0.55" />
<line x1="88.6" y1="703" x2="105.6" y2="712.4" stroke="#a0a0a0" stroke-width="0.55" />
<line x1="88.6" y1="703.62" x2="105.6" y2="699.24" stroke="#a0a0a0" stroke-width="0.55" />
<path d="M88.6 678.85L90.8 681.05L88.6 683.25L86.4 681.05Z" fill="none" stroke="#2a2a2a" stroke-width="0.75"/>
<path d="M88.6 678.85L90.8 681.05L88.6 683.25L86.4 681.05Z" fill="none" stroke="#2a2a2a" stroke-width="0.75"/>
<path d="M88.6 688.88L90.8 691.09L88.6 693.29L86.4 691.09Z" fill="none" stroke="#2a2a2a" stroke-width="0.75"/>
<path d="M88.6 697.66L90.8 699.86L88.6 702.06L86.4 699.86Z" fill="none" stroke="#2a2a2a" stroke-width="0.75"/>
<path d="M88.6 700.8L90.8 703L88.6 705.2L86.4 703Z" fill="none" stroke="#2a2a2a" stroke-width="0.75"/>
<path d="M88.6 701.42L90.8 703.62L88.6 705.83L86.4 703.62Z" fill="none" stroke="#2a2a2a" stroke-width="0.75"/>
<path d="M105.6 679.68L107.6 683.18L103.6 683.18Z" fill="none" stroke="#2a2a2a" stroke-width="0.75"/>
<path d="M105.6 692.85L107.6 696.35L103.6 696.35Z" fill="none" stroke="#2a2a2a" stroke-width="0.75"/>
<path d="M105.6 692.85L107.6 696.35L103.6 696.35Z" fill="none" stroke="#2a2a2a" stroke-width="0.75"/>
<path d="M105.6 710.4L107.6 713.9L103.6 713.9Z" fill="none" stroke="#2a2a2a" stroke-width="0.75"/>
<path d="M105.6 710.4L107.6 713.9L103.6 713.9Z" fill="none" stroke="#2a2a2a" stroke-width="0.75"/>
<path d="M105.6 697.24L107.6 700.74L103.6 700.74Z" fill="none" stroke="#2a2a2a" stroke-width="0.75"/>
<line x1="43.4" y1="694.85" x2="43.4" y2="691.71" stroke="#111" stroke-width="0.8" />
<line x1="41.4" y1="691.71" x2="45.4" y2="691.71" stroke="#111" stroke-width="0.8" />
<line x1="60.5" y1="692.97" x2="60.5" y2="690.46" stroke="#111" stroke-width="0.8" />
<line x1="58.5" y1="690.46" x2="62.5" y2="690.46" stroke="#111" stroke-width="0.8" />
<line x1="88.6" y1="693.59" x2="88.6" y2="689.2" stroke="#111" stroke-width="0.8" />
<line x1="86.6" y1="689.2" x2="90.6" y2="689.2" stroke="#111" stroke-width="0.8" />
<line x1="105.6" y1="699.24" x2="105.6" y2="694.85" stroke="#111" stroke-width="0.8" />
<line x1="103.6" y1="694.85" x2="107.6" y2="694.85" stroke="#111" stroke-width="0.8" />
<line x1="32.4" y1="656.1" x2="32.4" y2="782.5" stroke="#2a2a2a" stroke-width="1.3" />
<line x1="31.9" y1="782" x2="116.9" y2="782" stroke="#2a2a2a" stroke-width="1.3" />
<line x1="28.9" y1="782" x2="32.4" y2="782" stroke="#333" stroke-width="1.1" />
<text transform="matrix(1 0 0 1.04 27.8 784.25)" font-size="6.3" font-weight="bold" stroke="#111" stroke-width="0.15" text-anchor="end" fill="#111" >0</text>
<line x1="28.9" y1="750.65" x2="32.4" y2="750.65" stroke="#333" stroke-width="1.1" />
<text transform="matrix(1 0 0 1.04 27.8 752.9)" font-size="6.3" font-weight="bold" stroke="#111" stroke-width="0.15" text-anchor="end" fill="#111" >5</text>
<line x1="28.9" y1="719.3" x2="32.4" y2="719.3" stroke="#333" stroke-width="1.1" />
<text transform="matrix(1 0 0 1.04 27.8 721.55)" font-size="6.3" font-weight="bold" stroke="#111" stroke-width="0.15" text-anchor="end" fill="#111" >10</text>
<line x1="28.9" y1="687.95" x2="32.4" y2="687.95" stroke="#333" stroke-width="1.1" />
<text transform="matrix(1 0 0 1.04 27.8 690.2)" font-size="6.3" font-weight="bold" stroke="#111" stroke-width="0.15" text-anchor="end" fill="#111" >15</text>
<line x1="28.9" y1="656.6" x2="32.4" y2="656.6" stroke="#333" stroke-width="1.1" />
<text transform="matrix(1 0 0 1.04 27.8 658.85)" font-size="6.3" font-weight="bold" stroke="#111" stroke-width="0.15" text-anchor="end" fill="#111" >20</text>
<line x1="51.6" y1="782" x2="51.6" y2="785.4" stroke="#2a2a2a" stroke-width="1.3" />
<text transform="matrix(1 0 0 1.04 51.6 792.3)" font-size="6.3" font-weight="bold" stroke="#111" stroke-width="0.15" text-anchor="middle" fill="#111" >DOM</text>
<line x1="96.8" y1="782" x2="96.8" y2="785.4" stroke="#2a2a2a" stroke-width="1.3" />
<text transform="matrix(1 0 0 1.04 96.8 792.3)" font-size="6.3" font-weight="bold" stroke="#111" stroke-width="0.15" text-anchor="middle" fill="#111" >SUB</text>
<text transform="translate(16.42,719.5) rotate(-90) scale(1,1.04)" font-size="7.15" font-weight="bold" text-anchor="middle" fill="#111" stroke="#111" stroke-width="0.15">(%)</text>
<rect x="142" y="749.93" width="9.9" height="32.37" fill="url(#chkO)" stroke="#0e0e0e" stroke-width="1.2" />
<rect x="159.55" y="752.76" width="9.9" height="29.54" fill="url(#chkG)" stroke="#0e0e0e" stroke-width="1.2" />
<line x1="146.95" y1="749.93" x2="146.95" y2="748.99" stroke="#111" stroke-width="0.8" />
<line x1="144.95" y1="748.99" x2="148.95" y2="748.99" stroke="#111" stroke-width="0.8" />
<line x1="164.5" y1="752.76" x2="164.5" y2="751.82" stroke="#111" stroke-width="0.8" />
<line x1="162.5" y1="751.82" x2="166.5" y2="751.82" stroke="#111" stroke-width="0.8" />
<circle cx="142.55" cy="748.99" r="1.2" fill="#111" stroke="none" stroke-width="0"/>
<circle cx="145.45" cy="748.68" r="1.2" fill="#111" stroke="none" stroke-width="0"/>
<circle cx="147.65" cy="748.99" r="1.2" fill="#111" stroke="none" stroke-width="0"/>
<circle cx="151.25" cy="747.1" r="1.2" fill="#111" stroke="none" stroke-width="0"/>
<circle cx="142.55" cy="752.76" r="1.2" fill="#111" stroke="none" stroke-width="0"/>
<circle cx="159.8" cy="749.93" r="1.2" fill="#111" stroke="none" stroke-width="0"/>
<circle cx="163.8" cy="751.19" r="1.2" fill="#111" stroke="none" stroke-width="0"/>
<circle cx="168.9" cy="750.88" r="1.2" fill="#111" stroke="none" stroke-width="0"/>
<line x1="135.7" y1="656.1" x2="135.7" y2="782.8" stroke="#2a2a2a" stroke-width="1.3" />
<line x1="135.2" y1="782.3" x2="176.5" y2="782.3" stroke="#2a2a2a" stroke-width="1.3" />
<line x1="132.2" y1="782.3" x2="135.7" y2="782.3" stroke="#333" stroke-width="1.1" />
<text transform="matrix(1 0 0 1.04 131.1 784.55)" font-size="6.3" font-weight="bold" stroke="#111" stroke-width="0.15" text-anchor="end" fill="#111" >0</text>
<line x1="132.2" y1="750.88" x2="135.7" y2="750.88" stroke="#333" stroke-width="1.1" />
<text transform="matrix(1 0 0 1.04 131.1 753.12)" font-size="6.3" font-weight="bold" stroke="#111" stroke-width="0.15" text-anchor="end" fill="#111" >1</text>
<line x1="132.2" y1="719.45" x2="135.7" y2="719.45" stroke="#333" stroke-width="1.1" />
<text transform="matrix(1 0 0 1.04 131.1 721.7)" font-size="6.3" font-weight="bold" stroke="#111" stroke-width="0.15" text-anchor="end" fill="#111" >2</text>
<line x1="132.2" y1="688.02" x2="135.7" y2="688.02" stroke="#333" stroke-width="1.1" />
<text transform="matrix(1 0 0 1.04 131.1 690.27)" font-size="6.3" font-weight="bold" stroke="#111" stroke-width="0.15" text-anchor="end" fill="#111" >3</text>
<line x1="132.2" y1="656.6" x2="135.7" y2="656.6" stroke="#333" stroke-width="1.1" />
<text transform="matrix(1 0 0 1.04 131.1 658.85)" font-size="6.3" font-weight="bold" stroke="#111" stroke-width="0.15" text-anchor="end" fill="#111" >4</text>
<line x1="147.1" y1="782.3" x2="147.1" y2="785.7" stroke="#2a2a2a" stroke-width="1.3" />
<text transform="matrix(1 0 0 1.04 147.1 792.6)" font-size="6.3" font-weight="bold" stroke="#111" stroke-width="0.15" text-anchor="middle" fill="#111" >DOM</text>
<line x1="164.4" y1="782.3" x2="164.4" y2="785.7" stroke="#2a2a2a" stroke-width="1.3" />
<text transform="matrix(1 0 0 1.04 164.4 792.6)" font-size="6.3" font-weight="bold" stroke="#111" stroke-width="0.15" text-anchor="middle" fill="#111" >SUB</text>
<text transform="translate(123.39,719.65) rotate(-90) scale(1,1.04)" font-size="7.05" font-weight="bold" text-anchor="middle" fill="#111" stroke="#111" stroke-width="0.15">Single / Neighbor</text>
<text transform="matrix(1 0 0 1.04 73.4 665)" font-size="7.1" stroke="#1a1a1a" stroke-width="0.16" text-anchor="middle" fill="#1a1a1a" >Rank × Housing&#160;&#160;<tspan font-style="italic">#</tspan></text>
<line x1="41.3" y1="669.2" x2="105.6" y2="669.2" stroke="#333" stroke-width="1.2" />
<path d="M147.4 740.8V736.2H165.6V740.8" fill="none" stroke="#222" stroke-width="0.9"/>
<text transform="matrix(1 0 0 1.04 156.4 732.3)" font-size="7" stroke="#111" stroke-width="0.08" text-anchor="middle" fill="#111" >†</text>
<text transform="matrix(1 0 0 1.04 262.7 635.16)" font-size="8.3" font-weight="bold" stroke="#111" stroke-width="0.15" text-anchor="middle" fill="#111" >REMS / Total sleep</text>
<text transform="matrix(1 0 0 1.04 262.7 645.06)" font-size="8.3" font-weight="bold" stroke="#111" stroke-width="0.15" text-anchor="middle" fill="#111" >(Dark phase)</text>
<rect x="226.9" y="719.78" width="9.6" height="62.22" fill="#8C5B20" stroke="#0e0e0e" stroke-width="1.2" />
<rect x="244" y="724.81" width="9.6" height="57.19" fill="#F8A03F" stroke="#0e0e0e" stroke-width="1.2" />
<rect x="272.1" y="727.32" width="9.6" height="54.68" fill="#0C6A44" stroke="#0e0e0e" stroke-width="1.2" />
<rect x="289.1" y="728.58" width="9.6" height="53.42" fill="#00F000" stroke="#0e0e0e" stroke-width="1.2" />
<line x1="231.7" y1="702.18" x2="248.8" y2="697.78" stroke="#a0a0a0" stroke-width="0.55" />
<line x1="231.7" y1="710.98" x2="248.8" y2="717.26" stroke="#a0a0a0" stroke-width="0.55" />
<line x1="231.7" y1="715.38" x2="248.8" y2="720.41" stroke="#a0a0a0" stroke-width="0.55" />
<line x1="231.7" y1="725.43" x2="248.8" y2="731.09" stroke="#a0a0a0" stroke-width="0.55" />
<line x1="231.7" y1="729.21" x2="248.8" y2="758.75" stroke="#a0a0a0" stroke-width="0.55" />
<line x1="231.7" y1="719.15" x2="248.8" y2="720.41" stroke="#a0a0a0" stroke-width="0.55" />
<path d="M231.7 699.98L233.9 702.18L231.7 704.38L229.5 702.18Z" fill="none" stroke="#2a2a2a" stroke-width="0.75"/>
<path d="M231.7 708.78L233.9 710.98L231.7 713.18L229.5 710.98Z" fill="none" stroke="#2a2a2a" stroke-width="0.75"/>
<path d="M231.7 713.18L233.9 715.38L231.7 717.58L229.5 715.38Z" fill="none" stroke="#2a2a2a" stroke-width="0.75"/>
<path d="M231.7 723.23L233.9 725.43L231.7 727.63L229.5 725.43Z" fill="none" stroke="#2a2a2a" stroke-width="0.75"/>
<path d="M231.7 727.01L233.9 729.21L231.7 731.41L229.5 729.21Z" fill="none" stroke="#2a2a2a" stroke-width="0.75"/>
<path d="M231.7 716.95L233.9 719.15L231.7 721.35L229.5 719.15Z" fill="none" stroke="#2a2a2a" stroke-width="0.75"/>
<path d="M248.8 695.78L250.8 699.28L246.8 699.28Z" fill="none" stroke="#2a2a2a" stroke-width="0.75"/>
<path d="M248.8 715.26L250.8 718.76L246.8 718.76Z" fill="none" stroke="#2a2a2a" stroke-width="0.75"/>
<path d="M248.8 718.41L250.8 721.91L246.8 721.91Z" fill="none" stroke="#2a2a2a" stroke-width="0.75"/>
<path d="M248.8 729.09L250.8 732.59L246.8 732.59Z" fill="none" stroke="#2a2a2a" stroke-width="0.75"/>
<path d="M248.8 756.75L250.8 760.25L246.8 760.25Z" fill="none" stroke="#2a2a2a" stroke-width="0.75"/>
<path d="M248.8 718.41L250.8 721.91L246.8 721.91Z" fill="none" stroke="#2a2a2a" stroke-width="0.75"/>
<line x1="276.9" y1="688.98" x2="293.9" y2="714.12" stroke="#a0a0a0" stroke-width="0.55" />
<line x1="276.9" y1="721.04" x2="293.9" y2="718.52" stroke="#a0a0a0" stroke-width="0.55" />
<line x1="276.9" y1="729.83" x2="293.9" y2="733.61" stroke="#a0a0a0" stroke-width="0.55" />
<line x1="276.9" y1="737.38" x2="293.9" y2="739.89" stroke="#a0a0a0" stroke-width="0.55" />
<line x1="276.9" y1="741.15" x2="293.9" y2="733.61" stroke="#a0a0a0" stroke-width="0.55" />
<line x1="276.9" y1="721.04" x2="293.9" y2="718.52" stroke="#a0a0a0" stroke-width="0.55" />
<path d="M276.9 686.78L279.1 688.98L276.9 691.18L274.7 688.98Z" fill="none" stroke="#2a2a2a" stroke-width="0.75"/>
<path d="M276.9 718.84L279.1 721.04L276.9 723.24L274.7 721.04Z" fill="none" stroke="#2a2a2a" stroke-width="0.75"/>
<path d="M276.9 727.63L279.1 729.83L276.9 732.03L274.7 729.83Z" fill="none" stroke="#2a2a2a" stroke-width="0.75"/>
<path d="M276.9 735.18L279.1 737.38L276.9 739.58L274.7 737.38Z" fill="none" stroke="#2a2a2a" stroke-width="0.75"/>
<path d="M276.9 738.95L279.1 741.15L276.9 743.35L274.7 741.15Z" fill="none" stroke="#2a2a2a" stroke-width="0.75"/>
<path d="M276.9 718.84L279.1 721.04L276.9 723.24L274.7 721.04Z" fill="none" stroke="#2a2a2a" stroke-width="0.75"/>
<path d="M293.9 712.12L295.9 715.62L291.9 715.62Z" fill="none" stroke="#2a2a2a" stroke-width="0.75"/>
<path d="M293.9 716.52L295.9 720.02L291.9 720.02Z" fill="none" stroke="#2a2a2a" stroke-width="0.75"/>
<path d="M293.9 731.61L295.9 735.11L291.9 735.11Z" fill="none" stroke="#2a2a2a" stroke-width="0.75"/>
<path d="M293.9 737.89L295.9 741.39L291.9 741.39Z" fill="none" stroke="#2a2a2a" stroke-width="0.75"/>
<path d="M293.9 731.61L295.9 735.11L291.9 735.11Z" fill="none" stroke="#2a2a2a" stroke-width="0.75"/>
<path d="M293.9 716.52L295.9 720.02L291.9 720.02Z" fill="none" stroke="#2a2a2a" stroke-width="0.75"/>
<line x1="231.7" y1="719.78" x2="231.7" y2="714.75" stroke="#111" stroke-width="0.8" />
<line x1="229.7" y1="714.75" x2="233.7" y2="714.75" stroke="#111" stroke-width="0.8" />
<line x1="248.8" y1="724.81" x2="248.8" y2="716.64" stroke="#111" stroke-width="0.8" />
<line x1="246.8" y1="716.64" x2="250.8" y2="716.64" stroke="#111" stroke-width="0.8" />
<line x1="276.9" y1="727.32" x2="276.9" y2="718.52" stroke="#111" stroke-width="0.8" />
<line x1="274.9" y1="718.52" x2="278.9" y2="718.52" stroke="#111" stroke-width="0.8" />
<line x1="293.9" y1="728.58" x2="293.9" y2="724.18" stroke="#111" stroke-width="0.8" />
<line x1="291.9" y1="724.18" x2="295.9" y2="724.18" stroke="#111" stroke-width="0.8" />
<line x1="220.7" y1="655.8" x2="220.7" y2="782.5" stroke="#2a2a2a" stroke-width="1.3" />
<line x1="220.2" y1="782" x2="305.2" y2="782" stroke="#2a2a2a" stroke-width="1.3" />
<line x1="217.2" y1="782" x2="220.7" y2="782" stroke="#333" stroke-width="1.1" />
<text transform="matrix(1 0 0 1.04 216.1 784.25)" font-size="6.3" font-weight="bold" stroke="#111" stroke-width="0.15" text-anchor="end" fill="#111" >0</text>
<line x1="217.2" y1="750.58" x2="220.7" y2="750.58" stroke="#333" stroke-width="1.1" />
<text transform="matrix(1 0 0 1.04 216.1 752.83)" font-size="6.3" font-weight="bold" stroke="#111" stroke-width="0.15" text-anchor="end" fill="#111" >5</text>
<line x1="217.2" y1="719.15" x2="220.7" y2="719.15" stroke="#333" stroke-width="1.1" />
<text transform="matrix(1 0 0 1.04 216.1 721.4)" font-size="6.3" font-weight="bold" stroke="#111" stroke-width="0.15" text-anchor="end" fill="#111" >10</text>
<line x1="217.2" y1="687.72" x2="220.7" y2="687.72" stroke="#333" stroke-width="1.1" />
<text transform="matrix(1 0 0 1.04 216.1 689.97)" font-size="6.3" font-weight="bold" stroke="#111" stroke-width="0.15" text-anchor="end" fill="#111" >15</text>
<line x1="217.2" y1="656.3" x2="220.7" y2="656.3" stroke="#333" stroke-width="1.1" />
<text transform="matrix(1 0 0 1.04 216.1 658.55)" font-size="6.3" font-weight="bold" stroke="#111" stroke-width="0.15" text-anchor="end" fill="#111" >20</text>
<line x1="239.9" y1="782" x2="239.9" y2="785.4" stroke="#2a2a2a" stroke-width="1.3" />
<text transform="matrix(1 0 0 1.04 239.9 792.3)" font-size="6.3" font-weight="bold" stroke="#111" stroke-width="0.15" text-anchor="middle" fill="#111" >DOM</text>
<line x1="285.1" y1="782" x2="285.1" y2="785.4" stroke="#2a2a2a" stroke-width="1.3" />
<text transform="matrix(1 0 0 1.04 285.1 792.3)" font-size="6.3" font-weight="bold" stroke="#111" stroke-width="0.15" text-anchor="middle" fill="#111" >SUB</text>
<text transform="translate(204.62,719.35) rotate(-90) scale(1,1.04)" font-size="7.15" font-weight="bold" text-anchor="middle" fill="#111" stroke="#111" stroke-width="0.15">(%)</text>
<rect x="328.8" y="754.39" width="9.9" height="27.81" fill="url(#chkO)" stroke="#0e0e0e" stroke-width="1.2" />
<rect x="346.35" y="748.89" width="9.9" height="33.31" fill="url(#chkG)" stroke="#0e0e0e" stroke-width="1.2" />
<line x1="333.75" y1="754.39" x2="333.75" y2="750.46" stroke="#111" stroke-width="0.8" />
<line x1="331.75" y1="750.46" x2="335.75" y2="750.46" stroke="#111" stroke-width="0.8" />
<line x1="351.3" y1="748.89" x2="351.3" y2="746.38" stroke="#111" stroke-width="0.8" />
<line x1="349.3" y1="746.38" x2="353.3" y2="746.38" stroke="#111" stroke-width="0.8" />
<circle cx="329.35" cy="746.69" r="1.2" fill="#111" stroke="none" stroke-width="0"/>
<circle cx="333.85" cy="748.58" r="1.2" fill="#111" stroke="none" stroke-width="0"/>
<circle cx="338.25" cy="747.95" r="1.2" fill="#111" stroke="none" stroke-width="0"/>
<circle cx="333.75" cy="753.6" r="1.2" fill="#111" stroke="none" stroke-width="0"/>
<circle cx="333.75" cy="757.69" r="1.2" fill="#111" stroke="none" stroke-width="0"/>
<circle cx="333.75" cy="767.74" r="1.2" fill="#111" stroke="none" stroke-width="0"/>
<circle cx="351.3" cy="738.21" r="1.2" fill="#111" stroke="none" stroke-width="0"/>
<circle cx="351.3" cy="748.26" r="1.2" fill="#111" stroke="none" stroke-width="0"/>
<circle cx="346.8" cy="748.89" r="1.2" fill="#111" stroke="none" stroke-width="0"/>
<circle cx="355.7" cy="748.89" r="1.2" fill="#111" stroke="none" stroke-width="0"/>
<circle cx="351.3" cy="752.97" r="1.2" fill="#111" stroke="none" stroke-width="0"/>
<circle cx="351.3" cy="758.95" r="1.2" fill="#111" stroke="none" stroke-width="0"/>
<line x1="322.5" y1="656" x2="322.5" y2="782.7" stroke="#2a2a2a" stroke-width="1.3" />
<line x1="322" y1="782.2" x2="363.3" y2="782.2" stroke="#2a2a2a" stroke-width="1.3" />
<line x1="319" y1="782.2" x2="322.5" y2="782.2" stroke="#333" stroke-width="1.1" />
<text transform="matrix(1 0 0 1.04 317.9 784.45)" font-size="6.3" font-weight="bold" stroke="#111" stroke-width="0.15" text-anchor="end" fill="#111" >0</text>
<line x1="319" y1="750.78" x2="322.5" y2="750.78" stroke="#333" stroke-width="1.1" />
<text transform="matrix(1 0 0 1.04 317.9 753.03)" font-size="6.3" font-weight="bold" stroke="#111" stroke-width="0.15" text-anchor="end" fill="#111" >1</text>
<line x1="319" y1="719.35" x2="322.5" y2="719.35" stroke="#333" stroke-width="1.1" />
<text transform="matrix(1 0 0 1.04 317.9 721.6)" font-size="6.3" font-weight="bold" stroke="#111" stroke-width="0.15" text-anchor="end" fill="#111" >2</text>
<line x1="319" y1="687.92" x2="322.5" y2="687.92" stroke="#333" stroke-width="1.1" />
<text transform="matrix(1 0 0 1.04 317.9 690.17)" font-size="6.3" font-weight="bold" stroke="#111" stroke-width="0.15" text-anchor="end" fill="#111" >3</text>
<line x1="319" y1="656.5" x2="322.5" y2="656.5" stroke="#333" stroke-width="1.1" />
<text transform="matrix(1 0 0 1.04 317.9 658.75)" font-size="6.3" font-weight="bold" stroke="#111" stroke-width="0.15" text-anchor="end" fill="#111" >4</text>
<line x1="333.9" y1="782.2" x2="333.9" y2="785.6" stroke="#2a2a2a" stroke-width="1.3" />
<text transform="matrix(1 0 0 1.04 333.9 792.5)" font-size="6.3" font-weight="bold" stroke="#111" stroke-width="0.15" text-anchor="middle" fill="#111" >DOM</text>
<line x1="351.2" y1="782.2" x2="351.2" y2="785.6" stroke="#2a2a2a" stroke-width="1.3" />
<text transform="matrix(1 0 0 1.04 351.2 792.5)" font-size="6.3" font-weight="bold" stroke="#111" stroke-width="0.15" text-anchor="middle" fill="#111" >SUB</text>
<text transform="translate(310.19,719.55) rotate(-90) scale(1,1.04)" font-size="7.05" font-weight="bold" text-anchor="middle" fill="#111" stroke="#111" stroke-width="0.15">Single / Neighbor</text>
<text transform="matrix(1 0 0 1.04 474.7 76.86)" font-size="8.3" font-weight="bold" stroke="#111" stroke-width="0.15" text-anchor="middle" fill="#111" >Wake</text>
<text transform="matrix(1 0 0 1.04 474.7 86.76)" font-size="8.3" font-weight="bold" stroke="#111" stroke-width="0.15" text-anchor="middle" fill="#111" >(DOM)</text>
<rect x="467.12" y="98.4" width="58.76" height="120" fill="#E0E0E0" stroke="none" stroke-width="0" />
<line x1="424.55" y1="190.56" x2="424.55" y2="184.8" stroke="#8E5E22" stroke-width="0.9" opacity="0.6"/>
<line x1="422.05" y1="190.56" x2="427.05" y2="190.56" stroke="#8E5E22" stroke-width="1.0" opacity="0.6"/>
<line x1="422.05" y1="184.8" x2="427.05" y2="184.8" stroke="#8E5E22" stroke-width="1.0" opacity="0.6"/>
<line x1="438.94" y1="196.8" x2="438.94" y2="192" stroke="#8E5E22" stroke-width="0.9" opacity="0.6"/>
<line x1="436.44" y1="196.8" x2="441.44" y2="196.8" stroke="#8E5E22" stroke-width="1.0" opacity="0.6"/>
<line x1="436.44" y1="192" x2="441.44" y2="192" stroke="#8E5E22" stroke-width="1.0" opacity="0.6"/>
<line x1="453.33" y1="197.76" x2="453.33" y2="193.92" stroke="#8E5E22" stroke-width="0.9" opacity="0.6"/>
<line x1="450.83" y1="197.76" x2="455.83" y2="197.76" stroke="#8E5E22" stroke-width="1.0" opacity="0.6"/>
<line x1="450.83" y1="193.92" x2="455.83" y2="193.92" stroke="#8E5E22" stroke-width="1.0" opacity="0.6"/>
<line x1="467.72" y1="186.72" x2="467.72" y2="181.92" stroke="#8E5E22" stroke-width="0.9" opacity="0.6"/>
<line x1="465.22" y1="186.72" x2="470.22" y2="186.72" stroke="#8E5E22" stroke-width="1.0" opacity="0.6"/>
<line x1="465.22" y1="181.92" x2="470.22" y2="181.92" stroke="#8E5E22" stroke-width="1.0" opacity="0.6"/>
<line x1="482.11" y1="160.8" x2="482.11" y2="153.12" stroke="#8E5E22" stroke-width="0.9" opacity="0.6"/>
<line x1="479.61" y1="160.8" x2="484.61" y2="160.8" stroke="#8E5E22" stroke-width="1.0" opacity="0.6"/>
<line x1="479.61" y1="153.12" x2="484.61" y2="153.12" stroke="#8E5E22" stroke-width="1.0" opacity="0.6"/>
<line x1="496.5" y1="166.08" x2="496.5" y2="153.6" stroke="#8E5E22" stroke-width="0.9" opacity="0.6"/>
<line x1="494" y1="166.08" x2="499" y2="166.08" stroke="#8E5E22" stroke-width="1.0" opacity="0.6"/>
<line x1="494" y1="153.6" x2="499" y2="153.6" stroke="#8E5E22" stroke-width="1.0" opacity="0.6"/>
<line x1="510.89" y1="188.64" x2="510.89" y2="182.88" stroke="#8E5E22" stroke-width="0.9" opacity="0.6"/>
<line x1="508.39" y1="188.64" x2="513.39" y2="188.64" stroke="#8E5E22" stroke-width="1.0" opacity="0.6"/>
<line x1="508.39" y1="182.88" x2="513.39" y2="182.88" stroke="#8E5E22" stroke-width="1.0" opacity="0.6"/>
<line x1="525.28" y1="175.68" x2="525.28" y2="168" stroke="#8E5E22" stroke-width="0.9" opacity="0.6"/>
<line x1="522.78" y1="175.68" x2="527.78" y2="175.68" stroke="#8E5E22" stroke-width="1.0" opacity="0.6"/>
<line x1="522.78" y1="168" x2="527.78" y2="168" stroke="#8E5E22" stroke-width="1.0" opacity="0.6"/>
<line x1="424.55" y1="191.52" x2="424.55" y2="185.76" stroke="#FF8A1A" stroke-width="0.9" opacity="0.6"/>
<line x1="422.05" y1="191.52" x2="427.05" y2="191.52" stroke="#FF8A1A" stroke-width="1.0" opacity="0.6"/>
<line x1="422.05" y1="185.76" x2="427.05" y2="185.76" stroke="#FF8A1A" stroke-width="1.0" opacity="0.6"/>
<line x1="438.94" y1="197.28" x2="438.94" y2="187.68" stroke="#FF8A1A" stroke-width="0.9" opacity="0.6"/>
<line x1="436.44" y1="197.28" x2="441.44" y2="197.28" stroke="#FF8A1A" stroke-width="1.0" opacity="0.6"/>
<line x1="436.44" y1="187.68" x2="441.44" y2="187.68" stroke="#FF8A1A" stroke-width="1.0" opacity="0.6"/>
<line x1="453.33" y1="195.84" x2="453.33" y2="192" stroke="#FF8A1A" stroke-width="0.9" opacity="0.6"/>
<line x1="450.83" y1="195.84" x2="455.83" y2="195.84" stroke="#FF8A1A" stroke-width="1.0" opacity="0.6"/>
<line x1="450.83" y1="192" x2="455.83" y2="192" stroke="#FF8A1A" stroke-width="1.0" opacity="0.6"/>
<line x1="467.72" y1="186.24" x2="467.72" y2="182.4" stroke="#FF8A1A" stroke-width="0.9" opacity="0.6"/>
<line x1="465.22" y1="186.24" x2="470.22" y2="186.24" stroke="#FF8A1A" stroke-width="1.0" opacity="0.6"/>
<line x1="465.22" y1="182.4" x2="470.22" y2="182.4" stroke="#FF8A1A" stroke-width="1.0" opacity="0.6"/>
<line x1="482.11" y1="172.32" x2="482.11" y2="165.6" stroke="#FF8A1A" stroke-width="0.9" opacity="0.6"/>
<line x1="479.61" y1="172.32" x2="484.61" y2="172.32" stroke="#FF8A1A" stroke-width="1.0" opacity="0.6"/>
<line x1="479.61" y1="165.6" x2="484.61" y2="165.6" stroke="#FF8A1A" stroke-width="1.0" opacity="0.6"/>
<line x1="496.5" y1="176.64" x2="496.5" y2="167.04" stroke="#FF8A1A" stroke-width="0.9" opacity="0.6"/>
<line x1="494" y1="176.64" x2="499" y2="176.64" stroke="#FF8A1A" stroke-width="1.0" opacity="0.6"/>
<line x1="494" y1="167.04" x2="499" y2="167.04" stroke="#FF8A1A" stroke-width="1.0" opacity="0.6"/>
<line x1="510.89" y1="187.2" x2="510.89" y2="181.44" stroke="#FF8A1A" stroke-width="0.9" opacity="0.6"/>
<line x1="508.39" y1="187.2" x2="513.39" y2="187.2" stroke="#FF8A1A" stroke-width="1.0" opacity="0.6"/>
<line x1="508.39" y1="181.44" x2="513.39" y2="181.44" stroke="#FF8A1A" stroke-width="1.0" opacity="0.6"/>
<line x1="525.28" y1="177.6" x2="525.28" y2="170.88" stroke="#FF8A1A" stroke-width="0.9" opacity="0.6"/>
<line x1="522.78" y1="177.6" x2="527.78" y2="177.6" stroke="#FF8A1A" stroke-width="1.0" opacity="0.6"/>
<line x1="522.78" y1="170.88" x2="527.78" y2="170.88" stroke="#FF8A1A" stroke-width="1.0" opacity="0.6"/>
<polyline points="424.55,188.64 438.94,192.48 453.33,193.92 467.72,184.32 482.11,168.96 496.5,171.84 510.89,184.32 525.28,174.24" fill="none" stroke="#FF8A1A" stroke-width="1.45" stroke-linejoin="round"/>
<path d="M424.55 186.74L426.45 190.07L422.65 190.07Z" fill="none" stroke="#FF8A1A" stroke-width="0.6"/>
<path d="M438.94 190.58L440.84 193.91L437.04 193.91Z" fill="none" stroke="#FF8A1A" stroke-width="0.6"/>
<path d="M453.33 192.02L455.23 195.35L451.43 195.35Z" fill="none" stroke="#FF8A1A" stroke-width="0.6"/>
<path d="M467.72 182.42L469.62 185.75L465.82 185.75Z" fill="none" stroke="#FF8A1A" stroke-width="0.6"/>
<path d="M482.11 167.06L484.01 170.39L480.21 170.39Z" fill="none" stroke="#FF8A1A" stroke-width="0.6"/>
<path d="M496.5 169.94L498.4 173.27L494.6 173.27Z" fill="none" stroke="#FF8A1A" stroke-width="0.6"/>
<path d="M510.89 182.42L512.79 185.75L508.99 185.75Z" fill="none" stroke="#FF8A1A" stroke-width="0.6"/>
<path d="M525.28 172.34L527.18 175.67L523.38 175.67Z" fill="none" stroke="#FF8A1A" stroke-width="0.6"/>
<polyline points="424.55,187.68 438.94,194.4 453.33,195.84 467.72,184.32 482.11,156.96 496.5,159.84 510.89,185.76 525.28,171.84" fill="none" stroke="#8E5E22" stroke-width="1.45" stroke-linejoin="round"/>
<path d="M424.55 185.68L426.55 187.68L424.55 189.68L422.55 187.68Z" fill="none" stroke="#8E5E22" stroke-width="0.6"/>
<path d="M438.94 192.4L440.94 194.4L438.94 196.4L436.94 194.4Z" fill="none" stroke="#8E5E22" stroke-width="0.6"/>
<path d="M453.33 193.84L455.33 195.84L453.33 197.84L451.33 195.84Z" fill="none" stroke="#8E5E22" stroke-width="0.6"/>
<path d="M467.72 182.32L469.72 184.32L467.72 186.32L465.72 184.32Z" fill="none" stroke="#8E5E22" stroke-width="0.6"/>
<path d="M482.11 154.96L484.11 156.96L482.11 158.96L480.11 156.96Z" fill="none" stroke="#8E5E22" stroke-width="0.6"/>
<path d="M496.5 157.84L498.5 159.84L496.5 161.84L494.5 159.84Z" fill="none" stroke="#8E5E22" stroke-width="0.6"/>
<path d="M510.89 183.76L512.89 185.76L510.89 187.76L508.89 185.76Z" fill="none" stroke="#8E5E22" stroke-width="0.6"/>
<path d="M525.28 169.84L527.28 171.84L525.28 173.84L523.28 171.84Z" fill="none" stroke="#8E5E22" stroke-width="0.6"/>
<line x1="415.1" y1="97.9" x2="415.1" y2="218.9" stroke="#2a2a2a" stroke-width="1.3" />
<line x1="414.6" y1="218.4" x2="534.9" y2="218.4" stroke="#2a2a2a" stroke-width="1.3" />
<line x1="411.6" y1="218.4" x2="415.1" y2="218.4" stroke="#333" stroke-width="1.1" />
<text transform="matrix(1 0 0 1.04 410.5 220.65)" font-size="6.3" font-weight="bold" stroke="#111" stroke-width="0.15" text-anchor="end" fill="#111" >0</text>
<line x1="411.6" y1="194.4" x2="415.1" y2="194.4" stroke="#333" stroke-width="1.1" />
<text transform="matrix(1 0 0 1.04 410.5 196.65)" font-size="6.3" font-weight="bold" stroke="#111" stroke-width="0.15" text-anchor="end" fill="#111" >50</text>
<line x1="411.6" y1="170.4" x2="415.1" y2="170.4" stroke="#333" stroke-width="1.1" />
<text transform="matrix(1 0 0 1.04 410.5 172.65)" font-size="6.3" font-weight="bold" stroke="#111" stroke-width="0.15" text-anchor="end" fill="#111" >100</text>
<line x1="411.6" y1="146.4" x2="415.1" y2="146.4" stroke="#333" stroke-width="1.1" />
<text transform="matrix(1 0 0 1.04 410.5 148.65)" font-size="6.3" font-weight="bold" stroke="#111" stroke-width="0.15" text-anchor="end" fill="#111" >150</text>
<line x1="411.6" y1="122.4" x2="415.1" y2="122.4" stroke="#333" stroke-width="1.1" />
<text transform="matrix(1 0 0 1.04 410.5 124.65)" font-size="6.3" font-weight="bold" stroke="#111" stroke-width="0.15" text-anchor="end" fill="#111" >200</text>
<line x1="411.6" y1="98.4" x2="415.1" y2="98.4" stroke="#333" stroke-width="1.1" />
<text transform="matrix(1 0 0 1.04 410.5 100.65)" font-size="6.3" font-weight="bold" stroke="#111" stroke-width="0.15" text-anchor="end" fill="#111" >250</text>
<line x1="424.55" y1="218.4" x2="424.55" y2="221.8" stroke="#2a2a2a" stroke-width="1.3" />
<text transform="matrix(1 0 0 1.04 424.55 229)" font-size="6" font-weight="bold" stroke="#111" stroke-width="0.15" text-anchor="middle" fill="#111" >3</text>
<line x1="438.94" y1="218.4" x2="438.94" y2="221.8" stroke="#2a2a2a" stroke-width="1.3" />
<text transform="matrix(1 0 0 1.04 438.94 229)" font-size="6" font-weight="bold" stroke="#111" stroke-width="0.15" text-anchor="middle" fill="#111" >6</text>
<line x1="453.33" y1="218.4" x2="453.33" y2="221.8" stroke="#2a2a2a" stroke-width="1.3" />
<text transform="matrix(1 0 0 1.04 453.33 229)" font-size="6" font-weight="bold" stroke="#111" stroke-width="0.15" text-anchor="middle" fill="#111" >9</text>
<line x1="467.72" y1="218.4" x2="467.72" y2="221.8" stroke="#2a2a2a" stroke-width="1.3" />
<text transform="matrix(1 0 0 1.04 467.72 229)" font-size="6" font-weight="bold" stroke="#111" stroke-width="0.15" text-anchor="middle" fill="#111" >12</text>
<line x1="482.11" y1="218.4" x2="482.11" y2="221.8" stroke="#2a2a2a" stroke-width="1.3" />
<text transform="matrix(1 0 0 1.04 482.11 229)" font-size="6" font-weight="bold" stroke="#111" stroke-width="0.15" text-anchor="middle" fill="#111" >15</text>
<line x1="496.5" y1="218.4" x2="496.5" y2="221.8" stroke="#2a2a2a" stroke-width="1.3" />
<text transform="matrix(1 0 0 1.04 496.5 229)" font-size="6" font-weight="bold" stroke="#111" stroke-width="0.15" text-anchor="middle" fill="#111" >18</text>
<line x1="510.89" y1="218.4" x2="510.89" y2="221.8" stroke="#2a2a2a" stroke-width="1.3" />
<text transform="matrix(1 0 0 1.04 510.89 229)" font-size="6" font-weight="bold" stroke="#111" stroke-width="0.15" text-anchor="middle" fill="#111" >21</text>
<line x1="525.28" y1="218.4" x2="525.28" y2="221.8" stroke="#2a2a2a" stroke-width="1.3" />
<text transform="matrix(1 0 0 1.04 525.28 229)" font-size="6" font-weight="bold" stroke="#111" stroke-width="0.15" text-anchor="middle" fill="#111" >24</text>
<text transform="matrix(1 0 0 1.04 524.48 239.2)" font-size="6.4" font-weight="bold" stroke="#111" stroke-width="0.15" text-anchor="middle" fill="#111" >ZT</text>
<text transform="translate(395.63,158.6) rotate(-90) scale(1,1.04)" font-size="7.3" font-weight="bold" text-anchor="middle" fill="#111" stroke="#111" stroke-width="0.15">Amount (min/3hr)</text>
<text transform="matrix(1 0 0 1.04 623.4 76.36)" font-size="8.3" font-weight="bold" stroke="#111" stroke-width="0.15" text-anchor="middle" fill="#111" >Wake</text>
<text transform="matrix(1 0 0 1.04 623.4 86.26)" font-size="8.3" font-weight="bold" stroke="#111" stroke-width="0.15" text-anchor="middle" fill="#111" >(SUB)</text>
<rect x="615.62" y="97.9" width="58.76" height="119.6" fill="#E0E0E0" stroke="none" stroke-width="0" />
<line x1="573.05" y1="188.32" x2="573.05" y2="182.58" stroke="#1A6446" stroke-width="0.9" opacity="0.6"/>
<line x1="570.55" y1="188.32" x2="575.55" y2="188.32" stroke="#1A6446" stroke-width="1.0" opacity="0.6"/>
<line x1="570.55" y1="182.58" x2="575.55" y2="182.58" stroke="#1A6446" stroke-width="1.0" opacity="0.6"/>
<line x1="587.44" y1="195.49" x2="587.44" y2="191.67" stroke="#1A6446" stroke-width="0.9" opacity="0.6"/>
<line x1="584.94" y1="195.49" x2="589.94" y2="195.49" stroke="#1A6446" stroke-width="1.0" opacity="0.6"/>
<line x1="584.94" y1="191.67" x2="589.94" y2="191.67" stroke="#1A6446" stroke-width="1.0" opacity="0.6"/>
<line x1="601.83" y1="196.93" x2="601.83" y2="194.06" stroke="#1A6446" stroke-width="0.9" opacity="0.6"/>
<line x1="599.33" y1="196.93" x2="604.33" y2="196.93" stroke="#1A6446" stroke-width="1.0" opacity="0.6"/>
<line x1="599.33" y1="194.06" x2="604.33" y2="194.06" stroke="#1A6446" stroke-width="1.0" opacity="0.6"/>
<line x1="616.22" y1="185.93" x2="616.22" y2="182.1" stroke="#1A6446" stroke-width="0.9" opacity="0.6"/>
<line x1="613.72" y1="185.93" x2="618.72" y2="185.93" stroke="#1A6446" stroke-width="1.0" opacity="0.6"/>
<line x1="613.72" y1="182.1" x2="618.72" y2="182.1" stroke="#1A6446" stroke-width="1.0" opacity="0.6"/>
<line x1="630.61" y1="163.44" x2="630.61" y2="158.66" stroke="#1A6446" stroke-width="0.9" opacity="0.6"/>
<line x1="628.11" y1="163.44" x2="633.11" y2="163.44" stroke="#1A6446" stroke-width="1.0" opacity="0.6"/>
<line x1="628.11" y1="158.66" x2="633.11" y2="158.66" stroke="#1A6446" stroke-width="1.0" opacity="0.6"/>
<line x1="645" y1="172.05" x2="645" y2="159.61" stroke="#1A6446" stroke-width="0.9" opacity="0.6"/>
<line x1="642.5" y1="172.05" x2="647.5" y2="172.05" stroke="#1A6446" stroke-width="1.0" opacity="0.6"/>
<line x1="642.5" y1="159.61" x2="647.5" y2="159.61" stroke="#1A6446" stroke-width="1.0" opacity="0.6"/>
<line x1="659.39" y1="182.1" x2="659.39" y2="176.36" stroke="#1A6446" stroke-width="0.9" opacity="0.6"/>
<line x1="656.89" y1="182.1" x2="661.89" y2="182.1" stroke="#1A6446" stroke-width="1.0" opacity="0.6"/>
<line x1="656.89" y1="176.36" x2="661.89" y2="176.36" stroke="#1A6446" stroke-width="1.0" opacity="0.6"/>
<line x1="673.78" y1="176.84" x2="673.78" y2="171.1" stroke="#1A6446" stroke-width="0.9" opacity="0.6"/>
<line x1="671.28" y1="176.84" x2="676.28" y2="176.84" stroke="#1A6446" stroke-width="1.0" opacity="0.6"/>
<line x1="671.28" y1="171.1" x2="676.28" y2="171.1" stroke="#1A6446" stroke-width="1.0" opacity="0.6"/>
<line x1="573.05" y1="193.1" x2="573.05" y2="186.4" stroke="#22EE22" stroke-width="0.9" opacity="0.6"/>
<line x1="570.55" y1="193.1" x2="575.55" y2="193.1" stroke="#22EE22" stroke-width="1.0" opacity="0.6"/>
<line x1="570.55" y1="186.4" x2="575.55" y2="186.4" stroke="#22EE22" stroke-width="1.0" opacity="0.6"/>
<line x1="587.44" y1="199.32" x2="587.44" y2="189.75" stroke="#22EE22" stroke-width="0.9" opacity="0.6"/>
<line x1="584.94" y1="199.32" x2="589.94" y2="199.32" stroke="#22EE22" stroke-width="1.0" opacity="0.6"/>
<line x1="584.94" y1="189.75" x2="589.94" y2="189.75" stroke="#22EE22" stroke-width="1.0" opacity="0.6"/>
<line x1="601.83" y1="201.23" x2="601.83" y2="196.45" stroke="#22EE22" stroke-width="0.9" opacity="0.6"/>
<line x1="599.33" y1="201.23" x2="604.33" y2="201.23" stroke="#22EE22" stroke-width="1.0" opacity="0.6"/>
<line x1="599.33" y1="196.45" x2="604.33" y2="196.45" stroke="#22EE22" stroke-width="1.0" opacity="0.6"/>
<line x1="616.22" y1="185.93" x2="616.22" y2="182.1" stroke="#22EE22" stroke-width="0.9" opacity="0.6"/>
<line x1="613.72" y1="185.93" x2="618.72" y2="185.93" stroke="#22EE22" stroke-width="1.0" opacity="0.6"/>
<line x1="613.72" y1="182.1" x2="618.72" y2="182.1" stroke="#22EE22" stroke-width="1.0" opacity="0.6"/>
<line x1="630.61" y1="169.66" x2="630.61" y2="165.83" stroke="#22EE22" stroke-width="0.9" opacity="0.6"/>
<line x1="628.11" y1="169.66" x2="633.11" y2="169.66" stroke="#22EE22" stroke-width="1.0" opacity="0.6"/>
<line x1="628.11" y1="165.83" x2="633.11" y2="165.83" stroke="#22EE22" stroke-width="1.0" opacity="0.6"/>
<line x1="645" y1="171.57" x2="645" y2="165.83" stroke="#22EE22" stroke-width="0.9" opacity="0.6"/>
<line x1="642.5" y1="171.57" x2="647.5" y2="171.57" stroke="#22EE22" stroke-width="1.0" opacity="0.6"/>
<line x1="642.5" y1="165.83" x2="647.5" y2="165.83" stroke="#22EE22" stroke-width="1.0" opacity="0.6"/>
<line x1="659.39" y1="187.84" x2="659.39" y2="180.18" stroke="#22EE22" stroke-width="0.9" opacity="0.6"/>
<line x1="656.89" y1="187.84" x2="661.89" y2="187.84" stroke="#22EE22" stroke-width="1.0" opacity="0.6"/>
<line x1="656.89" y1="180.18" x2="661.89" y2="180.18" stroke="#22EE22" stroke-width="1.0" opacity="0.6"/>
<line x1="673.78" y1="177.79" x2="673.78" y2="172.05" stroke="#22EE22" stroke-width="0.9" opacity="0.6"/>
<line x1="671.28" y1="177.79" x2="676.28" y2="177.79" stroke="#22EE22" stroke-width="1.0" opacity="0.6"/>
<line x1="671.28" y1="172.05" x2="676.28" y2="172.05" stroke="#22EE22" stroke-width="1.0" opacity="0.6"/>
<polyline points="573.05,189.75 587.44,194.54 601.83,198.84 616.22,184.01 630.61,167.75 645,168.7 659.39,184.01 673.78,174.92" fill="none" stroke="#22EE22" stroke-width="1.45" stroke-linejoin="round"/>
<path d="M573.05 187.85L574.95 191.18L571.15 191.18Z" fill="none" stroke="#22EE22" stroke-width="0.6"/>
<path d="M587.44 192.64L589.34 195.96L585.54 195.96Z" fill="none" stroke="#22EE22" stroke-width="0.6"/>
<path d="M601.83 196.94L603.73 200.27L599.93 200.27Z" fill="none" stroke="#22EE22" stroke-width="0.6"/>
<path d="M616.22 182.11L618.12 185.44L614.32 185.44Z" fill="none" stroke="#22EE22" stroke-width="0.6"/>
<path d="M630.61 165.85L632.51 169.17L628.71 169.17Z" fill="none" stroke="#22EE22" stroke-width="0.6"/>
<path d="M645 166.8L646.9 170.13L643.1 170.13Z" fill="none" stroke="#22EE22" stroke-width="0.6"/>
<path d="M659.39 182.11L661.29 185.44L657.49 185.44Z" fill="none" stroke="#22EE22" stroke-width="0.6"/>
<path d="M673.78 173.02L675.68 176.35L671.88 176.35Z" fill="none" stroke="#22EE22" stroke-width="0.6"/>
<polyline points="573.05,185.45 587.44,193.58 601.83,195.49 616.22,184.01 630.61,161.05 645,165.83 659.39,179.23 673.78,173.97" fill="none" stroke="#1A6446" stroke-width="1.45" stroke-linejoin="round"/>
<path d="M573.05 183.45L575.05 185.45L573.05 187.45L571.05 185.45Z" fill="none" stroke="#1A6446" stroke-width="0.6"/>
<path d="M587.44 191.58L589.44 193.58L587.44 195.58L585.44 193.58Z" fill="none" stroke="#1A6446" stroke-width="0.6"/>
<path d="M601.83 193.49L603.83 195.49L601.83 197.49L599.83 195.49Z" fill="none" stroke="#1A6446" stroke-width="0.6"/>
<path d="M616.22 182.01L618.22 184.01L616.22 186.01L614.22 184.01Z" fill="none" stroke="#1A6446" stroke-width="0.6"/>
<path d="M630.61 159.05L632.61 161.05L630.61 163.05L628.61 161.05Z" fill="none" stroke="#1A6446" stroke-width="0.6"/>
<path d="M645 163.83L647 165.83L645 167.83L643 165.83Z" fill="none" stroke="#1A6446" stroke-width="0.6"/>
<path d="M659.39 177.23L661.39 179.23L659.39 181.23L657.39 179.23Z" fill="none" stroke="#1A6446" stroke-width="0.6"/>
<path d="M673.78 171.97L675.78 173.97L673.78 175.97L671.78 173.97Z" fill="none" stroke="#1A6446" stroke-width="0.6"/>
<line x1="563.6" y1="97.4" x2="563.6" y2="218" stroke="#2a2a2a" stroke-width="1.3" />
<line x1="563.1" y1="217.5" x2="683.4" y2="217.5" stroke="#2a2a2a" stroke-width="1.3" />
<line x1="560.1" y1="217.5" x2="563.6" y2="217.5" stroke="#333" stroke-width="1.1" />
<text transform="matrix(1 0 0 1.04 559 219.75)" font-size="6.3" font-weight="bold" stroke="#111" stroke-width="0.15" text-anchor="end" fill="#111" >0</text>
<line x1="560.1" y1="193.58" x2="563.6" y2="193.58" stroke="#333" stroke-width="1.1" />
<text transform="matrix(1 0 0 1.04 559 195.83)" font-size="6.3" font-weight="bold" stroke="#111" stroke-width="0.15" text-anchor="end" fill="#111" >50</text>
<line x1="560.1" y1="169.66" x2="563.6" y2="169.66" stroke="#333" stroke-width="1.1" />
<text transform="matrix(1 0 0 1.04 559 171.91)" font-size="6.3" font-weight="bold" stroke="#111" stroke-width="0.15" text-anchor="end" fill="#111" >100</text>
<line x1="560.1" y1="145.74" x2="563.6" y2="145.74" stroke="#333" stroke-width="1.1" />
<text transform="matrix(1 0 0 1.04 559 147.99)" font-size="6.3" font-weight="bold" stroke="#111" stroke-width="0.15" text-anchor="end" fill="#111" >150</text>
<line x1="560.1" y1="121.82" x2="563.6" y2="121.82" stroke="#333" stroke-width="1.1" />
<text transform="matrix(1 0 0 1.04 559 124.07)" font-size="6.3" font-weight="bold" stroke="#111" stroke-width="0.15" text-anchor="end" fill="#111" >200</text>
<line x1="560.1" y1="97.9" x2="563.6" y2="97.9" stroke="#333" stroke-width="1.1" />
<text transform="matrix(1 0 0 1.04 559 100.15)" font-size="6.3" font-weight="bold" stroke="#111" stroke-width="0.15" text-anchor="end" fill="#111" >250</text>
<line x1="573.05" y1="217.5" x2="573.05" y2="220.9" stroke="#2a2a2a" stroke-width="1.3" />
<text transform="matrix(1 0 0 1.04 573.05 228.1)" font-size="6" font-weight="bold" stroke="#111" stroke-width="0.15" text-anchor="middle" fill="#111" >3</text>
<line x1="587.44" y1="217.5" x2="587.44" y2="220.9" stroke="#2a2a2a" stroke-width="1.3" />
<text transform="matrix(1 0 0 1.04 587.44 228.1)" font-size="6" font-weight="bold" stroke="#111" stroke-width="0.15" text-anchor="middle" fill="#111" >6</text>
<line x1="601.83" y1="217.5" x2="601.83" y2="220.9" stroke="#2a2a2a" stroke-width="1.3" />
<text transform="matrix(1 0 0 1.04 601.83 228.1)" font-size="6" font-weight="bold" stroke="#111" stroke-width="0.15" text-anchor="middle" fill="#111" >9</text>
<line x1="616.22" y1="217.5" x2="616.22" y2="220.9" stroke="#2a2a2a" stroke-width="1.3" />
<text transform="matrix(1 0 0 1.04 616.22 228.1)" font-size="6" font-weight="bold" stroke="#111" stroke-width="0.15" text-anchor="middle" fill="#111" >12</text>
<line x1="630.61" y1="217.5" x2="630.61" y2="220.9" stroke="#2a2a2a" stroke-width="1.3" />
<text transform="matrix(1 0 0 1.04 630.61 228.1)" font-size="6" font-weight="bold" stroke="#111" stroke-width="0.15" text-anchor="middle" fill="#111" >15</text>
<line x1="645" y1="217.5" x2="645" y2="220.9" stroke="#2a2a2a" stroke-width="1.3" />
<text transform="matrix(1 0 0 1.04 645 228.1)" font-size="6" font-weight="bold" stroke="#111" stroke-width="0.15" text-anchor="middle" fill="#111" >18</text>
<line x1="659.39" y1="217.5" x2="659.39" y2="220.9" stroke="#2a2a2a" stroke-width="1.3" />
<text transform="matrix(1 0 0 1.04 659.39 228.1)" font-size="6" font-weight="bold" stroke="#111" stroke-width="0.15" text-anchor="middle" fill="#111" >21</text>
<line x1="673.78" y1="217.5" x2="673.78" y2="220.9" stroke="#2a2a2a" stroke-width="1.3" />
<text transform="matrix(1 0 0 1.04 673.78 228.1)" font-size="6" font-weight="bold" stroke="#111" stroke-width="0.15" text-anchor="middle" fill="#111" >24</text>
<text transform="matrix(1 0 0 1.04 672.98 238.3)" font-size="6.4" font-weight="bold" stroke="#111" stroke-width="0.15" text-anchor="middle" fill="#111" >ZT</text>
<text transform="translate(544.13,157.9) rotate(-90) scale(1,1.04)" font-size="7.3" font-weight="bold" text-anchor="middle" fill="#111" stroke="#111" stroke-width="0.15">Amount (min/3hr)</text>
<text transform="matrix(1 0 0 1.04 474.2 265.66)" font-size="8.3" font-weight="bold" stroke="#111" stroke-width="0.15" text-anchor="middle" fill="#111" >NREMS</text>
<text transform="matrix(1 0 0 1.04 474.2 275.56)" font-size="8.3" font-weight="bold" stroke="#111" stroke-width="0.15" text-anchor="middle" fill="#111" >(DOM)</text>
<rect x="466.42" y="287.1" width="58.76" height="119.8" fill="#E0E0E0" stroke="none" stroke-width="0" />
<line x1="423.85" y1="360.42" x2="423.85" y2="356.58" stroke="#8E5E22" stroke-width="0.9" opacity="0.6"/>
<line x1="421.35" y1="360.42" x2="426.35" y2="360.42" stroke="#8E5E22" stroke-width="1.0" opacity="0.6"/>
<line x1="421.35" y1="356.58" x2="426.35" y2="356.58" stroke="#8E5E22" stroke-width="1.0" opacity="0.6"/>
<line x1="438.24" y1="356.58" x2="438.24" y2="351.79" stroke="#8E5E22" stroke-width="0.9" opacity="0.6"/>
<line x1="435.74" y1="356.58" x2="440.74" y2="356.58" stroke="#8E5E22" stroke-width="1.0" opacity="0.6"/>
<line x1="435.74" y1="351.79" x2="440.74" y2="351.79" stroke="#8E5E22" stroke-width="1.0" opacity="0.6"/>
<line x1="452.63" y1="354.19" x2="452.63" y2="350.35" stroke="#8E5E22" stroke-width="0.9" opacity="0.6"/>
<line x1="450.13" y1="354.19" x2="455.13" y2="354.19" stroke="#8E5E22" stroke-width="1.0" opacity="0.6"/>
<line x1="450.13" y1="350.35" x2="455.13" y2="350.35" stroke="#8E5E22" stroke-width="1.0" opacity="0.6"/>
<line x1="467.02" y1="364.25" x2="467.02" y2="359.46" stroke="#8E5E22" stroke-width="0.9" opacity="0.6"/>
<line x1="464.52" y1="364.25" x2="469.52" y2="364.25" stroke="#8E5E22" stroke-width="1.0" opacity="0.6"/>
<line x1="464.52" y1="359.46" x2="469.52" y2="359.46" stroke="#8E5E22" stroke-width="1.0" opacity="0.6"/>
<line x1="481.41" y1="387.25" x2="481.41" y2="379.59" stroke="#8E5E22" stroke-width="0.9" opacity="0.6"/>
<line x1="478.91" y1="387.25" x2="483.91" y2="387.25" stroke="#8E5E22" stroke-width="1.0" opacity="0.6"/>
<line x1="478.91" y1="379.59" x2="483.91" y2="379.59" stroke="#8E5E22" stroke-width="1.0" opacity="0.6"/>
<line x1="495.8" y1="385.82" x2="495.8" y2="376.23" stroke="#8E5E22" stroke-width="0.9" opacity="0.6"/>
<line x1="493.3" y1="385.82" x2="498.3" y2="385.82" stroke="#8E5E22" stroke-width="1.0" opacity="0.6"/>
<line x1="493.3" y1="376.23" x2="498.3" y2="376.23" stroke="#8E5E22" stroke-width="1.0" opacity="0.6"/>
<line x1="510.19" y1="363.29" x2="510.19" y2="356.58" stroke="#8E5E22" stroke-width="0.9" opacity="0.6"/>
<line x1="507.69" y1="363.29" x2="512.69" y2="363.29" stroke="#8E5E22" stroke-width="1.0" opacity="0.6"/>
<line x1="507.69" y1="356.58" x2="512.69" y2="356.58" stroke="#8E5E22" stroke-width="1.0" opacity="0.6"/>
<line x1="524.58" y1="374.31" x2="524.58" y2="368.56" stroke="#8E5E22" stroke-width="0.9" opacity="0.6"/>
<line x1="522.08" y1="374.31" x2="527.08" y2="374.31" stroke="#8E5E22" stroke-width="1.0" opacity="0.6"/>
<line x1="522.08" y1="368.56" x2="527.08" y2="368.56" stroke="#8E5E22" stroke-width="1.0" opacity="0.6"/>
<line x1="423.85" y1="360.9" x2="423.85" y2="356.1" stroke="#FF8A1A" stroke-width="0.9" opacity="0.6"/>
<line x1="421.35" y1="360.9" x2="426.35" y2="360.9" stroke="#FF8A1A" stroke-width="1.0" opacity="0.6"/>
<line x1="421.35" y1="356.1" x2="426.35" y2="356.1" stroke="#FF8A1A" stroke-width="1.0" opacity="0.6"/>
<line x1="438.24" y1="358.5" x2="438.24" y2="351.79" stroke="#FF8A1A" stroke-width="0.9" opacity="0.6"/>
<line x1="435.74" y1="358.5" x2="440.74" y2="358.5" stroke="#FF8A1A" stroke-width="1.0" opacity="0.6"/>
<line x1="435.74" y1="351.79" x2="440.74" y2="351.79" stroke="#FF8A1A" stroke-width="1.0" opacity="0.6"/>
<line x1="452.63" y1="356.58" x2="452.63" y2="352.75" stroke="#FF8A1A" stroke-width="0.9" opacity="0.6"/>
<line x1="450.13" y1="356.58" x2="455.13" y2="356.58" stroke="#FF8A1A" stroke-width="1.0" opacity="0.6"/>
<line x1="450.13" y1="352.75" x2="455.13" y2="352.75" stroke="#FF8A1A" stroke-width="1.0" opacity="0.6"/>
<line x1="467.02" y1="364.25" x2="467.02" y2="359.46" stroke="#FF8A1A" stroke-width="0.9" opacity="0.6"/>
<line x1="464.52" y1="364.25" x2="469.52" y2="364.25" stroke="#FF8A1A" stroke-width="1.0" opacity="0.6"/>
<line x1="464.52" y1="359.46" x2="469.52" y2="359.46" stroke="#FF8A1A" stroke-width="1.0" opacity="0.6"/>
<line x1="481.41" y1="375.27" x2="481.41" y2="369.52" stroke="#FF8A1A" stroke-width="0.9" opacity="0.6"/>
<line x1="478.91" y1="375.27" x2="483.91" y2="375.27" stroke="#FF8A1A" stroke-width="1.0" opacity="0.6"/>
<line x1="478.91" y1="369.52" x2="483.91" y2="369.52" stroke="#FF8A1A" stroke-width="1.0" opacity="0.6"/>
<line x1="495.8" y1="373.36" x2="495.8" y2="365.69" stroke="#FF8A1A" stroke-width="0.9" opacity="0.6"/>
<line x1="493.3" y1="373.36" x2="498.3" y2="373.36" stroke="#FF8A1A" stroke-width="1.0" opacity="0.6"/>
<line x1="493.3" y1="365.69" x2="498.3" y2="365.69" stroke="#FF8A1A" stroke-width="1.0" opacity="0.6"/>
<line x1="510.19" y1="362.81" x2="510.19" y2="358.02" stroke="#FF8A1A" stroke-width="0.9" opacity="0.6"/>
<line x1="507.69" y1="362.81" x2="512.69" y2="362.81" stroke="#FF8A1A" stroke-width="1.0" opacity="0.6"/>
<line x1="507.69" y1="358.02" x2="512.69" y2="358.02" stroke="#FF8A1A" stroke-width="1.0" opacity="0.6"/>
<line x1="524.58" y1="370.48" x2="524.58" y2="365.69" stroke="#FF8A1A" stroke-width="0.9" opacity="0.6"/>
<line x1="522.08" y1="370.48" x2="527.08" y2="370.48" stroke="#FF8A1A" stroke-width="1.0" opacity="0.6"/>
<line x1="522.08" y1="365.69" x2="527.08" y2="365.69" stroke="#FF8A1A" stroke-width="1.0" opacity="0.6"/>
<polyline points="423.85,358.5 438.24,355.15 452.63,354.67 467.02,361.86 481.41,372.4 495.8,369.52 510.19,360.42 524.58,368.08" fill="none" stroke="#FF8A1A" stroke-width="1.45" stroke-linejoin="round"/>
<path d="M423.85 356.6L425.75 359.93L421.95 359.93Z" fill="none" stroke="#FF8A1A" stroke-width="0.6"/>
<path d="M438.24 353.25L440.14 356.57L436.34 356.57Z" fill="none" stroke="#FF8A1A" stroke-width="0.6"/>
<path d="M452.63 352.77L454.53 356.09L450.73 356.09Z" fill="none" stroke="#FF8A1A" stroke-width="0.6"/>
<path d="M467.02 359.96L468.92 363.28L465.12 363.28Z" fill="none" stroke="#FF8A1A" stroke-width="0.6"/>
<path d="M481.41 370.5L483.31 373.82L479.51 373.82Z" fill="none" stroke="#FF8A1A" stroke-width="0.6"/>
<path d="M495.8 367.62L497.7 370.95L493.9 370.95Z" fill="none" stroke="#FF8A1A" stroke-width="0.6"/>
<path d="M510.19 358.52L512.09 361.84L508.29 361.84Z" fill="none" stroke="#FF8A1A" stroke-width="0.6"/>
<path d="M524.58 366.18L526.48 369.51L522.68 369.51Z" fill="none" stroke="#FF8A1A" stroke-width="0.6"/>
<polyline points="423.85,358.5 438.24,354.19 452.63,352.27 467.02,361.86 481.41,383.42 495.8,381.02 510.19,359.94 524.58,371.44" fill="none" stroke="#8E5E22" stroke-width="1.45" stroke-linejoin="round"/>
<path d="M423.85 356.5L425.85 358.5L423.85 360.5L421.85 358.5Z" fill="none" stroke="#8E5E22" stroke-width="0.6"/>
<path d="M438.24 352.19L440.24 354.19L438.24 356.19L436.24 354.19Z" fill="none" stroke="#8E5E22" stroke-width="0.6"/>
<path d="M452.63 350.27L454.63 352.27L452.63 354.27L450.63 352.27Z" fill="none" stroke="#8E5E22" stroke-width="0.6"/>
<path d="M467.02 359.86L469.02 361.86L467.02 363.86L465.02 361.86Z" fill="none" stroke="#8E5E22" stroke-width="0.6"/>
<path d="M481.41 381.42L483.41 383.42L481.41 385.42L479.41 383.42Z" fill="none" stroke="#8E5E22" stroke-width="0.6"/>
<path d="M495.8 379.02L497.8 381.02L495.8 383.02L493.8 381.02Z" fill="none" stroke="#8E5E22" stroke-width="0.6"/>
<path d="M510.19 357.94L512.19 359.94L510.19 361.94L508.19 359.94Z" fill="none" stroke="#8E5E22" stroke-width="0.6"/>
<path d="M524.58 369.44L526.58 371.44L524.58 373.44L522.58 371.44Z" fill="none" stroke="#8E5E22" stroke-width="0.6"/>
<line x1="414.4" y1="286.6" x2="414.4" y2="407.4" stroke="#2a2a2a" stroke-width="1.3" />
<line x1="413.9" y1="406.9" x2="534.2" y2="406.9" stroke="#2a2a2a" stroke-width="1.3" />
<line x1="410.9" y1="406.9" x2="414.4" y2="406.9" stroke="#333" stroke-width="1.1" />
<text transform="matrix(1 0 0 1.04 409.8 409.15)" font-size="6.3" font-weight="bold" stroke="#111" stroke-width="0.15" text-anchor="end" fill="#111" >0</text>
<line x1="410.9" y1="382.94" x2="414.4" y2="382.94" stroke="#333" stroke-width="1.1" />
<text transform="matrix(1 0 0 1.04 409.8 385.19)" font-size="6.3" font-weight="bold" stroke="#111" stroke-width="0.15" text-anchor="end" fill="#111" >50</text>
<line x1="410.9" y1="358.98" x2="414.4" y2="358.98" stroke="#333" stroke-width="1.1" />
<text transform="matrix(1 0 0 1.04 409.8 361.23)" font-size="6.3" font-weight="bold" stroke="#111" stroke-width="0.15" text-anchor="end" fill="#111" >100</text>
<line x1="410.9" y1="335.02" x2="414.4" y2="335.02" stroke="#333" stroke-width="1.1" />
<text transform="matrix(1 0 0 1.04 409.8 337.27)" font-size="6.3" font-weight="bold" stroke="#111" stroke-width="0.15" text-anchor="end" fill="#111" >150</text>
<line x1="410.9" y1="311.06" x2="414.4" y2="311.06" stroke="#333" stroke-width="1.1" />
<text transform="matrix(1 0 0 1.04 409.8 313.31)" font-size="6.3" font-weight="bold" stroke="#111" stroke-width="0.15" text-anchor="end" fill="#111" >200</text>
<line x1="410.9" y1="287.1" x2="414.4" y2="287.1" stroke="#333" stroke-width="1.1" />
<text transform="matrix(1 0 0 1.04 409.8 289.35)" font-size="6.3" font-weight="bold" stroke="#111" stroke-width="0.15" text-anchor="end" fill="#111" >250</text>
<line x1="423.85" y1="406.9" x2="423.85" y2="410.3" stroke="#2a2a2a" stroke-width="1.3" />
<text transform="matrix(1 0 0 1.04 423.85 417.5)" font-size="6" font-weight="bold" stroke="#111" stroke-width="0.15" text-anchor="middle" fill="#111" >3</text>
<line x1="438.24" y1="406.9" x2="438.24" y2="410.3" stroke="#2a2a2a" stroke-width="1.3" />
<text transform="matrix(1 0 0 1.04 438.24 417.5)" font-size="6" font-weight="bold" stroke="#111" stroke-width="0.15" text-anchor="middle" fill="#111" >6</text>
<line x1="452.63" y1="406.9" x2="452.63" y2="410.3" stroke="#2a2a2a" stroke-width="1.3" />
<text transform="matrix(1 0 0 1.04 452.63 417.5)" font-size="6" font-weight="bold" stroke="#111" stroke-width="0.15" text-anchor="middle" fill="#111" >9</text>
<line x1="467.02" y1="406.9" x2="467.02" y2="410.3" stroke="#2a2a2a" stroke-width="1.3" />
<text transform="matrix(1 0 0 1.04 467.02 417.5)" font-size="6" font-weight="bold" stroke="#111" stroke-width="0.15" text-anchor="middle" fill="#111" >12</text>
<line x1="481.41" y1="406.9" x2="481.41" y2="410.3" stroke="#2a2a2a" stroke-width="1.3" />
<text transform="matrix(1 0 0 1.04 481.41 417.5)" font-size="6" font-weight="bold" stroke="#111" stroke-width="0.15" text-anchor="middle" fill="#111" >15</text>
<line x1="495.8" y1="406.9" x2="495.8" y2="410.3" stroke="#2a2a2a" stroke-width="1.3" />
<text transform="matrix(1 0 0 1.04 495.8 417.5)" font-size="6" font-weight="bold" stroke="#111" stroke-width="0.15" text-anchor="middle" fill="#111" >18</text>
<line x1="510.19" y1="406.9" x2="510.19" y2="410.3" stroke="#2a2a2a" stroke-width="1.3" />
<text transform="matrix(1 0 0 1.04 510.19 417.5)" font-size="6" font-weight="bold" stroke="#111" stroke-width="0.15" text-anchor="middle" fill="#111" >21</text>
<line x1="524.58" y1="406.9" x2="524.58" y2="410.3" stroke="#2a2a2a" stroke-width="1.3" />
<text transform="matrix(1 0 0 1.04 524.58 417.5)" font-size="6" font-weight="bold" stroke="#111" stroke-width="0.15" text-anchor="middle" fill="#111" >24</text>
<text transform="matrix(1 0 0 1.04 523.78 427.7)" font-size="6.4" font-weight="bold" stroke="#111" stroke-width="0.15" text-anchor="middle" fill="#111" >ZT</text>
<text transform="translate(394.93,347.2) rotate(-90) scale(1,1.04)" font-size="7.3" font-weight="bold" text-anchor="middle" fill="#111" stroke="#111" stroke-width="0.15">Amount (min/3hr)</text>
<text transform="matrix(1 0 0 1.04 473.7 307)" font-size="7.3" stroke="#1a1a1a" stroke-width="0.16" text-anchor="middle" fill="#1a1a1a" >Housing × Time&#160;&#160;<tspan font-style="italic">#</tspan></text>
<line x1="421.6" y1="310.7" x2="525.1" y2="310.7" stroke="#555" stroke-width="1.1" />
<text transform="matrix(1 0 0 1.04 481.8 366.6)" font-size="11" font-weight="bold" stroke="#111" stroke-width="0.1" text-anchor="middle" fill="#111" >*</text>
<text transform="matrix(1 0 0 1.04 496.2 366.6)" font-size="11" font-weight="bold" stroke="#111" stroke-width="0.1" text-anchor="middle" fill="#111" >*</text>
<text transform="matrix(1 0 0 1.04 624.2 265.16)" font-size="8.3" font-weight="bold" stroke="#111" stroke-width="0.15" text-anchor="middle" fill="#111" >NREMS</text>
<text transform="matrix(1 0 0 1.04 624.2 275.06)" font-size="8.3" font-weight="bold" stroke="#111" stroke-width="0.15" text-anchor="middle" fill="#111" >(SUB)</text>
<rect x="616.52" y="286.6" width="58.76" height="119.9" fill="#E0E0E0" stroke="none" stroke-width="0" />
<line x1="573.95" y1="360.94" x2="573.95" y2="356.14" stroke="#1A6446" stroke-width="0.9" opacity="0.6"/>
<line x1="571.45" y1="360.94" x2="576.45" y2="360.94" stroke="#1A6446" stroke-width="1.0" opacity="0.6"/>
<line x1="571.45" y1="356.14" x2="576.45" y2="356.14" stroke="#1A6446" stroke-width="1.0" opacity="0.6"/>
<line x1="588.34" y1="355.18" x2="588.34" y2="350.39" stroke="#1A6446" stroke-width="0.9" opacity="0.6"/>
<line x1="585.84" y1="355.18" x2="590.84" y2="355.18" stroke="#1A6446" stroke-width="1.0" opacity="0.6"/>
<line x1="585.84" y1="350.39" x2="590.84" y2="350.39" stroke="#1A6446" stroke-width="1.0" opacity="0.6"/>
<line x1="602.73" y1="354.22" x2="602.73" y2="350.39" stroke="#1A6446" stroke-width="0.9" opacity="0.6"/>
<line x1="600.23" y1="354.22" x2="605.23" y2="354.22" stroke="#1A6446" stroke-width="1.0" opacity="0.6"/>
<line x1="600.23" y1="350.39" x2="605.23" y2="350.39" stroke="#1A6446" stroke-width="1.0" opacity="0.6"/>
<line x1="617.12" y1="363.34" x2="617.12" y2="359.5" stroke="#1A6446" stroke-width="0.9" opacity="0.6"/>
<line x1="614.62" y1="363.34" x2="619.62" y2="363.34" stroke="#1A6446" stroke-width="1.0" opacity="0.6"/>
<line x1="614.62" y1="359.5" x2="619.62" y2="359.5" stroke="#1A6446" stroke-width="1.0" opacity="0.6"/>
<line x1="631.51" y1="380.12" x2="631.51" y2="375.33" stroke="#1A6446" stroke-width="0.9" opacity="0.6"/>
<line x1="629.01" y1="380.12" x2="634.01" y2="380.12" stroke="#1A6446" stroke-width="1.0" opacity="0.6"/>
<line x1="629.01" y1="375.33" x2="634.01" y2="375.33" stroke="#1A6446" stroke-width="1.0" opacity="0.6"/>
<line x1="645.9" y1="378.68" x2="645.9" y2="371.01" stroke="#1A6446" stroke-width="0.9" opacity="0.6"/>
<line x1="643.4" y1="378.68" x2="648.4" y2="378.68" stroke="#1A6446" stroke-width="1.0" opacity="0.6"/>
<line x1="643.4" y1="371.01" x2="648.4" y2="371.01" stroke="#1A6446" stroke-width="1.0" opacity="0.6"/>
<line x1="660.29" y1="366.21" x2="660.29" y2="360.46" stroke="#1A6446" stroke-width="0.9" opacity="0.6"/>
<line x1="657.79" y1="366.21" x2="662.79" y2="366.21" stroke="#1A6446" stroke-width="1.0" opacity="0.6"/>
<line x1="657.79" y1="360.46" x2="662.79" y2="360.46" stroke="#1A6446" stroke-width="1.0" opacity="0.6"/>
<line x1="674.68" y1="370.53" x2="674.68" y2="366.69" stroke="#1A6446" stroke-width="0.9" opacity="0.6"/>
<line x1="672.18" y1="370.53" x2="677.18" y2="370.53" stroke="#1A6446" stroke-width="1.0" opacity="0.6"/>
<line x1="672.18" y1="366.69" x2="677.18" y2="366.69" stroke="#1A6446" stroke-width="1.0" opacity="0.6"/>
<line x1="573.95" y1="358.54" x2="573.95" y2="352.78" stroke="#22EE22" stroke-width="0.9" opacity="0.6"/>
<line x1="571.45" y1="358.54" x2="576.45" y2="358.54" stroke="#22EE22" stroke-width="1.0" opacity="0.6"/>
<line x1="571.45" y1="352.78" x2="576.45" y2="352.78" stroke="#22EE22" stroke-width="1.0" opacity="0.6"/>
<line x1="588.34" y1="355.18" x2="588.34" y2="349.43" stroke="#22EE22" stroke-width="0.9" opacity="0.6"/>
<line x1="585.84" y1="355.18" x2="590.84" y2="355.18" stroke="#22EE22" stroke-width="1.0" opacity="0.6"/>
<line x1="585.84" y1="349.43" x2="590.84" y2="349.43" stroke="#22EE22" stroke-width="1.0" opacity="0.6"/>
<line x1="602.73" y1="351.35" x2="602.73" y2="348.47" stroke="#22EE22" stroke-width="0.9" opacity="0.6"/>
<line x1="600.23" y1="351.35" x2="605.23" y2="351.35" stroke="#22EE22" stroke-width="1.0" opacity="0.6"/>
<line x1="600.23" y1="348.47" x2="605.23" y2="348.47" stroke="#22EE22" stroke-width="1.0" opacity="0.6"/>
<line x1="617.12" y1="362.38" x2="617.12" y2="358.54" stroke="#22EE22" stroke-width="0.9" opacity="0.6"/>
<line x1="614.62" y1="362.38" x2="619.62" y2="362.38" stroke="#22EE22" stroke-width="1.0" opacity="0.6"/>
<line x1="614.62" y1="358.54" x2="619.62" y2="358.54" stroke="#22EE22" stroke-width="1.0" opacity="0.6"/>
<line x1="631.51" y1="375.33" x2="631.51" y2="371.49" stroke="#22EE22" stroke-width="0.9" opacity="0.6"/>
<line x1="629.01" y1="375.33" x2="634.01" y2="375.33" stroke="#22EE22" stroke-width="1.0" opacity="0.6"/>
<line x1="629.01" y1="371.49" x2="634.01" y2="371.49" stroke="#22EE22" stroke-width="1.0" opacity="0.6"/>
<line x1="645.9" y1="374.85" x2="645.9" y2="369.09" stroke="#22EE22" stroke-width="0.9" opacity="0.6"/>
<line x1="643.4" y1="374.85" x2="648.4" y2="374.85" stroke="#22EE22" stroke-width="1.0" opacity="0.6"/>
<line x1="643.4" y1="369.09" x2="648.4" y2="369.09" stroke="#22EE22" stroke-width="1.0" opacity="0.6"/>
<line x1="660.29" y1="365.25" x2="660.29" y2="356.62" stroke="#22EE22" stroke-width="0.9" opacity="0.6"/>
<line x1="657.79" y1="365.25" x2="662.79" y2="365.25" stroke="#22EE22" stroke-width="1.0" opacity="0.6"/>
<line x1="657.79" y1="356.62" x2="662.79" y2="356.62" stroke="#22EE22" stroke-width="1.0" opacity="0.6"/>
<line x1="674.68" y1="370.53" x2="674.68" y2="365.73" stroke="#22EE22" stroke-width="0.9" opacity="0.6"/>
<line x1="672.18" y1="370.53" x2="677.18" y2="370.53" stroke="#22EE22" stroke-width="1.0" opacity="0.6"/>
<line x1="672.18" y1="365.73" x2="677.18" y2="365.73" stroke="#22EE22" stroke-width="1.0" opacity="0.6"/>
<polyline points="573.95,355.66 588.34,352.31 602.73,349.91 617.12,360.46 631.51,373.41 645.9,371.97 660.29,360.94 674.68,368.13" fill="none" stroke="#22EE22" stroke-width="1.45" stroke-linejoin="round"/>
<path d="M573.95 353.76L575.85 357.09L572.05 357.09Z" fill="none" stroke="#22EE22" stroke-width="0.6"/>
<path d="M588.34 350.41L590.24 353.73L586.44 353.73Z" fill="none" stroke="#22EE22" stroke-width="0.6"/>
<path d="M602.73 348.01L604.63 351.33L600.83 351.33Z" fill="none" stroke="#22EE22" stroke-width="0.6"/>
<path d="M617.12 358.56L619.02 361.88L615.22 361.88Z" fill="none" stroke="#22EE22" stroke-width="0.6"/>
<path d="M631.51 371.51L633.41 374.83L629.61 374.83Z" fill="none" stroke="#22EE22" stroke-width="0.6"/>
<path d="M645.9 370.07L647.8 373.39L644 373.39Z" fill="none" stroke="#22EE22" stroke-width="0.6"/>
<path d="M660.29 359.04L662.19 362.36L658.39 362.36Z" fill="none" stroke="#22EE22" stroke-width="0.6"/>
<path d="M674.68 366.23L676.58 369.56L672.78 369.56Z" fill="none" stroke="#22EE22" stroke-width="0.6"/>
<polyline points="573.95,358.54 588.34,352.78 602.73,352.31 617.12,361.42 631.51,377.72 645.9,374.85 660.29,363.34 674.68,368.61" fill="none" stroke="#1A6446" stroke-width="1.45" stroke-linejoin="round"/>
<path d="M573.95 356.54L575.95 358.54L573.95 360.54L571.95 358.54Z" fill="none" stroke="#1A6446" stroke-width="0.6"/>
<path d="M588.34 350.78L590.34 352.78L588.34 354.78L586.34 352.78Z" fill="none" stroke="#1A6446" stroke-width="0.6"/>
<path d="M602.73 350.31L604.73 352.31L602.73 354.31L600.73 352.31Z" fill="none" stroke="#1A6446" stroke-width="0.6"/>
<path d="M617.12 359.42L619.12 361.42L617.12 363.42L615.12 361.42Z" fill="none" stroke="#1A6446" stroke-width="0.6"/>
<path d="M631.51 375.72L633.51 377.72L631.51 379.72L629.51 377.72Z" fill="none" stroke="#1A6446" stroke-width="0.6"/>
<path d="M645.9 372.85L647.9 374.85L645.9 376.85L643.9 374.85Z" fill="none" stroke="#1A6446" stroke-width="0.6"/>
<path d="M660.29 361.34L662.29 363.34L660.29 365.34L658.29 363.34Z" fill="none" stroke="#1A6446" stroke-width="0.6"/>
<path d="M674.68 366.61L676.68 368.61L674.68 370.61L672.68 368.61Z" fill="none" stroke="#1A6446" stroke-width="0.6"/>
<line x1="564.5" y1="286.1" x2="564.5" y2="407" stroke="#2a2a2a" stroke-width="1.3" />
<line x1="564" y1="406.5" x2="684.3" y2="406.5" stroke="#2a2a2a" stroke-width="1.3" />
<line x1="561" y1="406.5" x2="564.5" y2="406.5" stroke="#333" stroke-width="1.1" />
<text transform="matrix(1 0 0 1.04 559.9 408.75)" font-size="6.3" font-weight="bold" stroke="#111" stroke-width="0.15" text-anchor="end" fill="#111" >0</text>
<line x1="561" y1="382.52" x2="564.5" y2="382.52" stroke="#333" stroke-width="1.1" />
<text transform="matrix(1 0 0 1.04 559.9 384.77)" font-size="6.3" font-weight="bold" stroke="#111" stroke-width="0.15" text-anchor="end" fill="#111" >50</text>
<line x1="561" y1="358.54" x2="564.5" y2="358.54" stroke="#333" stroke-width="1.1" />
<text transform="matrix(1 0 0 1.04 559.9 360.79)" font-size="6.3" font-weight="bold" stroke="#111" stroke-width="0.15" text-anchor="end" fill="#111" >100</text>
<line x1="561" y1="334.56" x2="564.5" y2="334.56" stroke="#333" stroke-width="1.1" />
<text transform="matrix(1 0 0 1.04 559.9 336.81)" font-size="6.3" font-weight="bold" stroke="#111" stroke-width="0.15" text-anchor="end" fill="#111" >150</text>
<line x1="561" y1="310.58" x2="564.5" y2="310.58" stroke="#333" stroke-width="1.1" />
<text transform="matrix(1 0 0 1.04 559.9 312.83)" font-size="6.3" font-weight="bold" stroke="#111" stroke-width="0.15" text-anchor="end" fill="#111" >200</text>
<line x1="561" y1="286.6" x2="564.5" y2="286.6" stroke="#333" stroke-width="1.1" />
<text transform="matrix(1 0 0 1.04 559.9 288.85)" font-size="6.3" font-weight="bold" stroke="#111" stroke-width="0.15" text-anchor="end" fill="#111" >250</text>
<line x1="573.95" y1="406.5" x2="573.95" y2="409.9" stroke="#2a2a2a" stroke-width="1.3" />
<text transform="matrix(1 0 0 1.04 573.95 417.1)" font-size="6" font-weight="bold" stroke="#111" stroke-width="0.15" text-anchor="middle" fill="#111" >3</text>
<line x1="588.34" y1="406.5" x2="588.34" y2="409.9" stroke="#2a2a2a" stroke-width="1.3" />
<text transform="matrix(1 0 0 1.04 588.34 417.1)" font-size="6" font-weight="bold" stroke="#111" stroke-width="0.15" text-anchor="middle" fill="#111" >6</text>
<line x1="602.73" y1="406.5" x2="602.73" y2="409.9" stroke="#2a2a2a" stroke-width="1.3" />
<text transform="matrix(1 0 0 1.04 602.73 417.1)" font-size="6" font-weight="bold" stroke="#111" stroke-width="0.15" text-anchor="middle" fill="#111" >9</text>
<line x1="617.12" y1="406.5" x2="617.12" y2="409.9" stroke="#2a2a2a" stroke-width="1.3" />
<text transform="matrix(1 0 0 1.04 617.12 417.1)" font-size="6" font-weight="bold" stroke="#111" stroke-width="0.15" text-anchor="middle" fill="#111" >12</text>
<line x1="631.51" y1="406.5" x2="631.51" y2="409.9" stroke="#2a2a2a" stroke-width="1.3" />
<text transform="matrix(1 0 0 1.04 631.51 417.1)" font-size="6" font-weight="bold" stroke="#111" stroke-width="0.15" text-anchor="middle" fill="#111" >15</text>
<line x1="645.9" y1="406.5" x2="645.9" y2="409.9" stroke="#2a2a2a" stroke-width="1.3" />
<text transform="matrix(1 0 0 1.04 645.9 417.1)" font-size="6" font-weight="bold" stroke="#111" stroke-width="0.15" text-anchor="middle" fill="#111" >18</text>
<line x1="660.29" y1="406.5" x2="660.29" y2="409.9" stroke="#2a2a2a" stroke-width="1.3" />
<text transform="matrix(1 0 0 1.04 660.29 417.1)" font-size="6" font-weight="bold" stroke="#111" stroke-width="0.15" text-anchor="middle" fill="#111" >21</text>
<line x1="674.68" y1="406.5" x2="674.68" y2="409.9" stroke="#2a2a2a" stroke-width="1.3" />
<text transform="matrix(1 0 0 1.04 674.68 417.1)" font-size="6" font-weight="bold" stroke="#111" stroke-width="0.15" text-anchor="middle" fill="#111" >24</text>
<text transform="matrix(1 0 0 1.04 673.88 427.3)" font-size="6.4" font-weight="bold" stroke="#111" stroke-width="0.15" text-anchor="middle" fill="#111" >ZT</text>
<text transform="translate(545.03,346.75) rotate(-90) scale(1,1.04)" font-size="7.3" font-weight="bold" text-anchor="middle" fill="#111" stroke="#111" stroke-width="0.15">Amount (min/3hr)</text>
<text transform="matrix(1 0 0 1.04 474.7 452.66)" font-size="8.3" font-weight="bold" stroke="#111" stroke-width="0.15" text-anchor="middle" fill="#111" >REMS</text>
<text transform="matrix(1 0 0 1.04 474.7 462.56)" font-size="8.3" font-weight="bold" stroke="#111" stroke-width="0.15" text-anchor="middle" fill="#111" >(DOM)</text>
<rect x="466.92" y="474.2" width="58.76" height="119.8" fill="#E0E0E0" stroke="none" stroke-width="0" />
<line x1="424.35" y1="531.22" x2="424.35" y2="519.72" stroke="#8E5E22" stroke-width="0.9" opacity="0.6"/>
<line x1="421.85" y1="531.22" x2="426.85" y2="531.22" stroke="#8E5E22" stroke-width="1.0" opacity="0.6"/>
<line x1="421.85" y1="519.72" x2="426.85" y2="519.72" stroke="#8E5E22" stroke-width="1.0" opacity="0.6"/>
<line x1="438.74" y1="510.14" x2="438.74" y2="500.56" stroke="#8E5E22" stroke-width="0.9" opacity="0.6"/>
<line x1="436.24" y1="510.14" x2="441.24" y2="510.14" stroke="#8E5E22" stroke-width="1.0" opacity="0.6"/>
<line x1="436.24" y1="500.56" x2="441.24" y2="500.56" stroke="#8E5E22" stroke-width="1.0" opacity="0.6"/>
<line x1="453.13" y1="500.56" x2="453.13" y2="490.97" stroke="#8E5E22" stroke-width="0.9" opacity="0.6"/>
<line x1="450.63" y1="500.56" x2="455.63" y2="500.56" stroke="#8E5E22" stroke-width="1.0" opacity="0.6"/>
<line x1="450.63" y1="490.97" x2="455.63" y2="490.97" stroke="#8E5E22" stroke-width="1.0" opacity="0.6"/>
<line x1="467.52" y1="528.83" x2="467.52" y2="516.37" stroke="#8E5E22" stroke-width="0.9" opacity="0.6"/>
<line x1="465.02" y1="528.83" x2="470.02" y2="528.83" stroke="#8E5E22" stroke-width="1.0" opacity="0.6"/>
<line x1="465.02" y1="516.37" x2="470.02" y2="516.37" stroke="#8E5E22" stroke-width="1.0" opacity="0.6"/>
<line x1="481.91" y1="583.46" x2="481.91" y2="576.75" stroke="#8E5E22" stroke-width="0.9" opacity="0.6"/>
<line x1="479.41" y1="583.46" x2="484.41" y2="583.46" stroke="#8E5E22" stroke-width="1.0" opacity="0.6"/>
<line x1="479.41" y1="576.75" x2="484.41" y2="576.75" stroke="#8E5E22" stroke-width="1.0" opacity="0.6"/>
<line x1="496.3" y1="583.46" x2="496.3" y2="571" stroke="#8E5E22" stroke-width="0.9" opacity="0.6"/>
<line x1="493.8" y1="583.46" x2="498.8" y2="583.46" stroke="#8E5E22" stroke-width="1.0" opacity="0.6"/>
<line x1="493.8" y1="571" x2="498.8" y2="571" stroke="#8E5E22" stroke-width="1.0" opacity="0.6"/>
<line x1="510.69" y1="532.66" x2="510.69" y2="519.24" stroke="#8E5E22" stroke-width="0.9" opacity="0.6"/>
<line x1="508.19" y1="532.66" x2="513.19" y2="532.66" stroke="#8E5E22" stroke-width="1.0" opacity="0.6"/>
<line x1="508.19" y1="519.24" x2="513.19" y2="519.24" stroke="#8E5E22" stroke-width="1.0" opacity="0.6"/>
<line x1="525.08" y1="552.79" x2="525.08" y2="538.41" stroke="#8E5E22" stroke-width="0.9" opacity="0.6"/>
<line x1="522.58" y1="552.79" x2="527.58" y2="552.79" stroke="#8E5E22" stroke-width="1.0" opacity="0.6"/>
<line x1="522.58" y1="538.41" x2="527.58" y2="538.41" stroke="#8E5E22" stroke-width="1.0" opacity="0.6"/>
<line x1="424.35" y1="532.66" x2="424.35" y2="518.29" stroke="#FF8A1A" stroke-width="0.9" opacity="0.6"/>
<line x1="421.85" y1="532.66" x2="426.85" y2="532.66" stroke="#FF8A1A" stroke-width="1.0" opacity="0.6"/>
<line x1="421.85" y1="518.29" x2="426.85" y2="518.29" stroke="#FF8A1A" stroke-width="1.0" opacity="0.6"/>
<line x1="438.74" y1="511.1" x2="438.74" y2="501.51" stroke="#FF8A1A" stroke-width="0.9" opacity="0.6"/>
<line x1="436.24" y1="511.1" x2="441.24" y2="511.1" stroke="#FF8A1A" stroke-width="1.0" opacity="0.6"/>
<line x1="436.24" y1="501.51" x2="441.24" y2="501.51" stroke="#FF8A1A" stroke-width="1.0" opacity="0.6"/>
<line x1="453.13" y1="500.08" x2="453.13" y2="486.66" stroke="#FF8A1A" stroke-width="0.9" opacity="0.6"/>
<line x1="450.63" y1="500.08" x2="455.63" y2="500.08" stroke="#FF8A1A" stroke-width="1.0" opacity="0.6"/>
<line x1="450.63" y1="486.66" x2="455.63" y2="486.66" stroke="#FF8A1A" stroke-width="1.0" opacity="0.6"/>
<line x1="467.52" y1="528.35" x2="467.52" y2="514.93" stroke="#FF8A1A" stroke-width="0.9" opacity="0.6"/>
<line x1="465.02" y1="528.35" x2="470.02" y2="528.35" stroke="#FF8A1A" stroke-width="1.0" opacity="0.6"/>
<line x1="465.02" y1="514.93" x2="470.02" y2="514.93" stroke="#FF8A1A" stroke-width="1.0" opacity="0.6"/>
<line x1="481.91" y1="572.92" x2="481.91" y2="561.41" stroke="#FF8A1A" stroke-width="0.9" opacity="0.6"/>
<line x1="479.41" y1="572.92" x2="484.41" y2="572.92" stroke="#FF8A1A" stroke-width="1.0" opacity="0.6"/>
<line x1="479.41" y1="561.41" x2="484.41" y2="561.41" stroke="#FF8A1A" stroke-width="1.0" opacity="0.6"/>
<line x1="496.3" y1="570.04" x2="496.3" y2="555.66" stroke="#FF8A1A" stroke-width="0.9" opacity="0.6"/>
<line x1="493.8" y1="570.04" x2="498.8" y2="570.04" stroke="#FF8A1A" stroke-width="1.0" opacity="0.6"/>
<line x1="493.8" y1="555.66" x2="498.8" y2="555.66" stroke="#FF8A1A" stroke-width="1.0" opacity="0.6"/>
<line x1="510.69" y1="547.52" x2="510.69" y2="525.47" stroke="#FF8A1A" stroke-width="0.9" opacity="0.6"/>
<line x1="508.19" y1="547.52" x2="513.19" y2="547.52" stroke="#FF8A1A" stroke-width="1.0" opacity="0.6"/>
<line x1="508.19" y1="525.47" x2="513.19" y2="525.47" stroke="#FF8A1A" stroke-width="1.0" opacity="0.6"/>
<line x1="525.08" y1="559.5" x2="525.08" y2="546.08" stroke="#FF8A1A" stroke-width="0.9" opacity="0.6"/>
<line x1="522.58" y1="559.5" x2="527.58" y2="559.5" stroke="#FF8A1A" stroke-width="1.0" opacity="0.6"/>
<line x1="522.58" y1="546.08" x2="527.58" y2="546.08" stroke="#FF8A1A" stroke-width="1.0" opacity="0.6"/>
<polyline points="424.35,525.47 438.74,506.31 453.13,493.37 467.52,521.64 481.91,567.16 496.3,562.85 510.69,536.5 525.08,552.79" fill="none" stroke="#FF8A1A" stroke-width="1.45" stroke-linejoin="round"/>
<path d="M424.35 523.57L426.25 526.9L422.45 526.9Z" fill="none" stroke="#FF8A1A" stroke-width="0.6"/>
<path d="M438.74 504.41L440.64 507.73L436.84 507.73Z" fill="none" stroke="#FF8A1A" stroke-width="0.6"/>
<path d="M453.13 491.47L455.03 494.79L451.23 494.79Z" fill="none" stroke="#FF8A1A" stroke-width="0.6"/>
<path d="M467.52 519.74L469.42 523.07L465.62 523.07Z" fill="none" stroke="#FF8A1A" stroke-width="0.6"/>
<path d="M481.91 565.26L483.81 568.59L480.01 568.59Z" fill="none" stroke="#FF8A1A" stroke-width="0.6"/>
<path d="M496.3 560.95L498.2 564.28L494.4 564.28Z" fill="none" stroke="#FF8A1A" stroke-width="0.6"/>
<path d="M510.69 534.6L512.59 537.92L508.79 537.92Z" fill="none" stroke="#FF8A1A" stroke-width="0.6"/>
<path d="M525.08 550.89L526.98 554.21L523.18 554.21Z" fill="none" stroke="#FF8A1A" stroke-width="0.6"/>
<polyline points="424.35,525.47 438.74,505.35 453.13,495.76 467.52,522.6 481.91,580.1 496.3,577.23 510.69,525.95 525.08,545.6" fill="none" stroke="#8E5E22" stroke-width="1.45" stroke-linejoin="round"/>
<path d="M424.35 523.47L426.35 525.47L424.35 527.47L422.35 525.47Z" fill="none" stroke="#8E5E22" stroke-width="0.6"/>
<path d="M438.74 503.35L440.74 505.35L438.74 507.35L436.74 505.35Z" fill="none" stroke="#8E5E22" stroke-width="0.6"/>
<path d="M453.13 493.76L455.13 495.76L453.13 497.76L451.13 495.76Z" fill="none" stroke="#8E5E22" stroke-width="0.6"/>
<path d="M467.52 520.6L469.52 522.6L467.52 524.6L465.52 522.6Z" fill="none" stroke="#8E5E22" stroke-width="0.6"/>
<path d="M481.91 578.1L483.91 580.1L481.91 582.1L479.91 580.1Z" fill="none" stroke="#8E5E22" stroke-width="0.6"/>
<path d="M496.3 575.23L498.3 577.23L496.3 579.23L494.3 577.23Z" fill="none" stroke="#8E5E22" stroke-width="0.6"/>
<path d="M510.69 523.95L512.69 525.95L510.69 527.95L508.69 525.95Z" fill="none" stroke="#8E5E22" stroke-width="0.6"/>
<path d="M525.08 543.6L527.08 545.6L525.08 547.6L523.08 545.6Z" fill="none" stroke="#8E5E22" stroke-width="0.6"/>
<line x1="414.9" y1="473.7" x2="414.9" y2="594.5" stroke="#2a2a2a" stroke-width="1.3" />
<line x1="414.4" y1="594" x2="534.7" y2="594" stroke="#2a2a2a" stroke-width="1.3" />
<line x1="411.4" y1="594" x2="414.9" y2="594" stroke="#333" stroke-width="1.1" />
<text transform="matrix(1 0 0 1.04 410.3 596.25)" font-size="6.3" font-weight="bold" stroke="#111" stroke-width="0.15" text-anchor="end" fill="#111" >0</text>
<line x1="411.4" y1="570.04" x2="414.9" y2="570.04" stroke="#333" stroke-width="1.1" />
<text transform="matrix(1 0 0 1.04 410.3 572.29)" font-size="6.3" font-weight="bold" stroke="#111" stroke-width="0.15" text-anchor="end" fill="#111" >5</text>
<line x1="411.4" y1="546.08" x2="414.9" y2="546.08" stroke="#333" stroke-width="1.1" />
<text transform="matrix(1 0 0 1.04 410.3 548.33)" font-size="6.3" font-weight="bold" stroke="#111" stroke-width="0.15" text-anchor="end" fill="#111" >10</text>
<line x1="411.4" y1="522.12" x2="414.9" y2="522.12" stroke="#333" stroke-width="1.1" />
<text transform="matrix(1 0 0 1.04 410.3 524.37)" font-size="6.3" font-weight="bold" stroke="#111" stroke-width="0.15" text-anchor="end" fill="#111" >15</text>
<line x1="411.4" y1="498.16" x2="414.9" y2="498.16" stroke="#333" stroke-width="1.1" />
<text transform="matrix(1 0 0 1.04 410.3 500.41)" font-size="6.3" font-weight="bold" stroke="#111" stroke-width="0.15" text-anchor="end" fill="#111" >20</text>
<line x1="411.4" y1="474.2" x2="414.9" y2="474.2" stroke="#333" stroke-width="1.1" />
<text transform="matrix(1 0 0 1.04 410.3 476.45)" font-size="6.3" font-weight="bold" stroke="#111" stroke-width="0.15" text-anchor="end" fill="#111" >25</text>
<line x1="424.35" y1="594" x2="424.35" y2="597.4" stroke="#2a2a2a" stroke-width="1.3" />
<text transform="matrix(1 0 0 1.04 424.35 604.6)" font-size="6" font-weight="bold" stroke="#111" stroke-width="0.15" text-anchor="middle" fill="#111" >3</text>
<line x1="438.74" y1="594" x2="438.74" y2="597.4" stroke="#2a2a2a" stroke-width="1.3" />
<text transform="matrix(1 0 0 1.04 438.74 604.6)" font-size="6" font-weight="bold" stroke="#111" stroke-width="0.15" text-anchor="middle" fill="#111" >6</text>
<line x1="453.13" y1="594" x2="453.13" y2="597.4" stroke="#2a2a2a" stroke-width="1.3" />
<text transform="matrix(1 0 0 1.04 453.13 604.6)" font-size="6" font-weight="bold" stroke="#111" stroke-width="0.15" text-anchor="middle" fill="#111" >9</text>
<line x1="467.52" y1="594" x2="467.52" y2="597.4" stroke="#2a2a2a" stroke-width="1.3" />
<text transform="matrix(1 0 0 1.04 467.52 604.6)" font-size="6" font-weight="bold" stroke="#111" stroke-width="0.15" text-anchor="middle" fill="#111" >12</text>
<line x1="481.91" y1="594" x2="481.91" y2="597.4" stroke="#2a2a2a" stroke-width="1.3" />
<text transform="matrix(1 0 0 1.04 481.91 604.6)" font-size="6" font-weight="bold" stroke="#111" stroke-width="0.15" text-anchor="middle" fill="#111" >15</text>
<line x1="496.3" y1="594" x2="496.3" y2="597.4" stroke="#2a2a2a" stroke-width="1.3" />
<text transform="matrix(1 0 0 1.04 496.3 604.6)" font-size="6" font-weight="bold" stroke="#111" stroke-width="0.15" text-anchor="middle" fill="#111" >18</text>
<line x1="510.69" y1="594" x2="510.69" y2="597.4" stroke="#2a2a2a" stroke-width="1.3" />
<text transform="matrix(1 0 0 1.04 510.69 604.6)" font-size="6" font-weight="bold" stroke="#111" stroke-width="0.15" text-anchor="middle" fill="#111" >21</text>
<line x1="525.08" y1="594" x2="525.08" y2="597.4" stroke="#2a2a2a" stroke-width="1.3" />
<text transform="matrix(1 0 0 1.04 525.08 604.6)" font-size="6" font-weight="bold" stroke="#111" stroke-width="0.15" text-anchor="middle" fill="#111" >24</text>
<text transform="matrix(1 0 0 1.04 524.28 614.8)" font-size="6.4" font-weight="bold" stroke="#111" stroke-width="0.15" text-anchor="middle" fill="#111" >ZT</text>
<text transform="translate(398.78,534.3) rotate(-90) scale(1,1.04)" font-size="7.3" font-weight="bold" text-anchor="middle" fill="#111" stroke="#111" stroke-width="0.15">Amount (min/3hr)</text>
<text transform="matrix(1 0 0 1.04 623.4 452.66)" font-size="8.3" font-weight="bold" stroke="#111" stroke-width="0.15" text-anchor="middle" fill="#111" >REMS</text>
<text transform="matrix(1 0 0 1.04 623.4 462.56)" font-size="8.3" font-weight="bold" stroke="#111" stroke-width="0.15" text-anchor="middle" fill="#111" >(SUB)</text>
<rect x="615.62" y="474.7" width="58.76" height="119.4" fill="#E0E0E0" stroke="none" stroke-width="0" />
<line x1="573.05" y1="535.36" x2="573.05" y2="519.12" stroke="#1A6446" stroke-width="0.9" opacity="0.6"/>
<line x1="570.55" y1="535.36" x2="575.55" y2="535.36" stroke="#1A6446" stroke-width="1.0" opacity="0.6"/>
<line x1="570.55" y1="519.12" x2="575.55" y2="519.12" stroke="#1A6446" stroke-width="1.0" opacity="0.6"/>
<line x1="587.44" y1="512.91" x2="587.44" y2="507.18" stroke="#1A6446" stroke-width="0.9" opacity="0.6"/>
<line x1="584.94" y1="512.91" x2="589.94" y2="512.91" stroke="#1A6446" stroke-width="1.0" opacity="0.6"/>
<line x1="584.94" y1="507.18" x2="589.94" y2="507.18" stroke="#1A6446" stroke-width="1.0" opacity="0.6"/>
<line x1="601.83" y1="495.71" x2="601.83" y2="488.07" stroke="#1A6446" stroke-width="0.9" opacity="0.6"/>
<line x1="599.33" y1="495.71" x2="604.33" y2="495.71" stroke="#1A6446" stroke-width="1.0" opacity="0.6"/>
<line x1="599.33" y1="488.07" x2="604.33" y2="488.07" stroke="#1A6446" stroke-width="1.0" opacity="0.6"/>
<line x1="616.22" y1="524.85" x2="616.22" y2="510.52" stroke="#1A6446" stroke-width="0.9" opacity="0.6"/>
<line x1="613.72" y1="524.85" x2="618.72" y2="524.85" stroke="#1A6446" stroke-width="1.0" opacity="0.6"/>
<line x1="613.72" y1="510.52" x2="618.72" y2="510.52" stroke="#1A6446" stroke-width="1.0" opacity="0.6"/>
<line x1="630.61" y1="581.2" x2="630.61" y2="575.47" stroke="#1A6446" stroke-width="0.9" opacity="0.6"/>
<line x1="628.11" y1="581.2" x2="633.11" y2="581.2" stroke="#1A6446" stroke-width="1.0" opacity="0.6"/>
<line x1="628.11" y1="575.47" x2="633.11" y2="575.47" stroke="#1A6446" stroke-width="1.0" opacity="0.6"/>
<line x1="645" y1="575.95" x2="645" y2="554.94" stroke="#1A6446" stroke-width="0.9" opacity="0.6"/>
<line x1="642.5" y1="575.95" x2="647.5" y2="575.95" stroke="#1A6446" stroke-width="1.0" opacity="0.6"/>
<line x1="642.5" y1="554.94" x2="647.5" y2="554.94" stroke="#1A6446" stroke-width="1.0" opacity="0.6"/>
<line x1="659.39" y1="548.25" x2="659.39" y2="535.83" stroke="#1A6446" stroke-width="0.9" opacity="0.6"/>
<line x1="656.89" y1="548.25" x2="661.89" y2="548.25" stroke="#1A6446" stroke-width="1.0" opacity="0.6"/>
<line x1="656.89" y1="535.83" x2="661.89" y2="535.83" stroke="#1A6446" stroke-width="1.0" opacity="0.6"/>
<line x1="673.78" y1="561.62" x2="673.78" y2="547.3" stroke="#1A6446" stroke-width="0.9" opacity="0.6"/>
<line x1="671.28" y1="561.62" x2="676.28" y2="561.62" stroke="#1A6446" stroke-width="1.0" opacity="0.6"/>
<line x1="671.28" y1="547.3" x2="676.28" y2="547.3" stroke="#1A6446" stroke-width="1.0" opacity="0.6"/>
<line x1="573.05" y1="531.06" x2="573.05" y2="515.77" stroke="#22EE22" stroke-width="0.9" opacity="0.6"/>
<line x1="570.55" y1="531.06" x2="575.55" y2="531.06" stroke="#22EE22" stroke-width="1.0" opacity="0.6"/>
<line x1="570.55" y1="515.77" x2="575.55" y2="515.77" stroke="#22EE22" stroke-width="1.0" opacity="0.6"/>
<line x1="587.44" y1="523.89" x2="587.44" y2="513.39" stroke="#22EE22" stroke-width="0.9" opacity="0.6"/>
<line x1="584.94" y1="523.89" x2="589.94" y2="523.89" stroke="#22EE22" stroke-width="1.0" opacity="0.6"/>
<line x1="584.94" y1="513.39" x2="589.94" y2="513.39" stroke="#22EE22" stroke-width="1.0" opacity="0.6"/>
<line x1="601.83" y1="496.19" x2="601.83" y2="483.77" stroke="#22EE22" stroke-width="0.9" opacity="0.6"/>
<line x1="599.33" y1="496.19" x2="604.33" y2="496.19" stroke="#22EE22" stroke-width="1.0" opacity="0.6"/>
<line x1="599.33" y1="483.77" x2="604.33" y2="483.77" stroke="#22EE22" stroke-width="1.0" opacity="0.6"/>
<line x1="616.22" y1="539.18" x2="616.22" y2="524.85" stroke="#22EE22" stroke-width="0.9" opacity="0.6"/>
<line x1="613.72" y1="539.18" x2="618.72" y2="539.18" stroke="#22EE22" stroke-width="1.0" opacity="0.6"/>
<line x1="613.72" y1="524.85" x2="618.72" y2="524.85" stroke="#22EE22" stroke-width="1.0" opacity="0.6"/>
<line x1="630.61" y1="574.52" x2="630.61" y2="565.92" stroke="#22EE22" stroke-width="0.9" opacity="0.6"/>
<line x1="628.11" y1="574.52" x2="633.11" y2="574.52" stroke="#22EE22" stroke-width="1.0" opacity="0.6"/>
<line x1="628.11" y1="565.92" x2="633.11" y2="565.92" stroke="#22EE22" stroke-width="1.0" opacity="0.6"/>
<line x1="645" y1="573.56" x2="645" y2="564.97" stroke="#22EE22" stroke-width="0.9" opacity="0.6"/>
<line x1="642.5" y1="573.56" x2="647.5" y2="573.56" stroke="#22EE22" stroke-width="1.0" opacity="0.6"/>
<line x1="642.5" y1="564.97" x2="647.5" y2="564.97" stroke="#22EE22" stroke-width="1.0" opacity="0.6"/>
<line x1="659.39" y1="543" x2="659.39" y2="531.53" stroke="#22EE22" stroke-width="0.9" opacity="0.6"/>
<line x1="656.89" y1="543" x2="661.89" y2="543" stroke="#22EE22" stroke-width="1.0" opacity="0.6"/>
<line x1="656.89" y1="531.53" x2="661.89" y2="531.53" stroke="#22EE22" stroke-width="1.0" opacity="0.6"/>
<line x1="673.78" y1="563.06" x2="673.78" y2="548.73" stroke="#22EE22" stroke-width="0.9" opacity="0.6"/>
<line x1="671.28" y1="563.06" x2="676.28" y2="563.06" stroke="#22EE22" stroke-width="1.0" opacity="0.6"/>
<line x1="671.28" y1="548.73" x2="676.28" y2="548.73" stroke="#22EE22" stroke-width="1.0" opacity="0.6"/>
<polyline points="573.05,523.42 587.44,518.64 601.83,489.98 616.22,532.01 630.61,570.22 645,569.26 659.39,537.27 673.78,555.89" fill="none" stroke="#22EE22" stroke-width="1.45" stroke-linejoin="round"/>
<path d="M573.05 521.52L574.95 524.84L571.15 524.84Z" fill="none" stroke="#22EE22" stroke-width="0.6"/>
<path d="M587.44 516.74L589.34 520.06L585.54 520.06Z" fill="none" stroke="#22EE22" stroke-width="0.6"/>
<path d="M601.83 488.08L603.73 491.41L599.93 491.41Z" fill="none" stroke="#22EE22" stroke-width="0.6"/>
<path d="M616.22 530.11L618.12 533.44L614.32 533.44Z" fill="none" stroke="#22EE22" stroke-width="0.6"/>
<path d="M630.61 568.32L632.51 571.64L628.71 571.64Z" fill="none" stroke="#22EE22" stroke-width="0.6"/>
<path d="M645 567.36L646.9 570.69L643.1 570.69Z" fill="none" stroke="#22EE22" stroke-width="0.6"/>
<path d="M659.39 535.37L661.29 538.69L657.49 538.69Z" fill="none" stroke="#22EE22" stroke-width="0.6"/>
<path d="M673.78 553.99L675.68 557.32L671.88 557.32Z" fill="none" stroke="#22EE22" stroke-width="0.6"/>
<polyline points="573.05,527.24 587.44,510.04 601.83,491.89 616.22,517.68 630.61,578.34 645,565.44 659.39,542.04 673.78,554.46" fill="none" stroke="#1A6446" stroke-width="1.45" stroke-linejoin="round"/>
<path d="M573.05 525.24L575.05 527.24L573.05 529.24L571.05 527.24Z" fill="none" stroke="#1A6446" stroke-width="0.6"/>
<path d="M587.44 508.04L589.44 510.04L587.44 512.04L585.44 510.04Z" fill="none" stroke="#1A6446" stroke-width="0.6"/>
<path d="M601.83 489.89L603.83 491.89L601.83 493.89L599.83 491.89Z" fill="none" stroke="#1A6446" stroke-width="0.6"/>
<path d="M616.22 515.68L618.22 517.68L616.22 519.68L614.22 517.68Z" fill="none" stroke="#1A6446" stroke-width="0.6"/>
<path d="M630.61 576.34L632.61 578.34L630.61 580.34L628.61 578.34Z" fill="none" stroke="#1A6446" stroke-width="0.6"/>
<path d="M645 563.44L647 565.44L645 567.44L643 565.44Z" fill="none" stroke="#1A6446" stroke-width="0.6"/>
<path d="M659.39 540.04L661.39 542.04L659.39 544.04L657.39 542.04Z" fill="none" stroke="#1A6446" stroke-width="0.6"/>
<path d="M673.78 552.46L675.78 554.46L673.78 556.46L671.78 554.46Z" fill="none" stroke="#1A6446" stroke-width="0.6"/>
<line x1="563.6" y1="474.2" x2="563.6" y2="594.6" stroke="#2a2a2a" stroke-width="1.3" />
<line x1="563.1" y1="594.1" x2="683.4" y2="594.1" stroke="#2a2a2a" stroke-width="1.3" />
<line x1="560.1" y1="594.1" x2="563.6" y2="594.1" stroke="#333" stroke-width="1.1" />
<text transform="matrix(1 0 0 1.04 559 596.35)" font-size="6.3" font-weight="bold" stroke="#111" stroke-width="0.15" text-anchor="end" fill="#111" >0</text>
<line x1="560.1" y1="570.22" x2="563.6" y2="570.22" stroke="#333" stroke-width="1.1" />
<text transform="matrix(1 0 0 1.04 559 572.47)" font-size="6.3" font-weight="bold" stroke="#111" stroke-width="0.15" text-anchor="end" fill="#111" >5</text>
<line x1="560.1" y1="546.34" x2="563.6" y2="546.34" stroke="#333" stroke-width="1.1" />
<text transform="matrix(1 0 0 1.04 559 548.59)" font-size="6.3" font-weight="bold" stroke="#111" stroke-width="0.15" text-anchor="end" fill="#111" >10</text>
<line x1="560.1" y1="522.46" x2="563.6" y2="522.46" stroke="#333" stroke-width="1.1" />
<text transform="matrix(1 0 0 1.04 559 524.71)" font-size="6.3" font-weight="bold" stroke="#111" stroke-width="0.15" text-anchor="end" fill="#111" >15</text>
<line x1="560.1" y1="498.58" x2="563.6" y2="498.58" stroke="#333" stroke-width="1.1" />
<text transform="matrix(1 0 0 1.04 559 500.83)" font-size="6.3" font-weight="bold" stroke="#111" stroke-width="0.15" text-anchor="end" fill="#111" >20</text>
<line x1="560.1" y1="474.7" x2="563.6" y2="474.7" stroke="#333" stroke-width="1.1" />
<text transform="matrix(1 0 0 1.04 559 476.95)" font-size="6.3" font-weight="bold" stroke="#111" stroke-width="0.15" text-anchor="end" fill="#111" >25</text>
<line x1="573.05" y1="594.1" x2="573.05" y2="597.5" stroke="#2a2a2a" stroke-width="1.3" />
<text transform="matrix(1 0 0 1.04 573.05 604.7)" font-size="6" font-weight="bold" stroke="#111" stroke-width="0.15" text-anchor="middle" fill="#111" >3</text>
<line x1="587.44" y1="594.1" x2="587.44" y2="597.5" stroke="#2a2a2a" stroke-width="1.3" />
<text transform="matrix(1 0 0 1.04 587.44 604.7)" font-size="6" font-weight="bold" stroke="#111" stroke-width="0.15" text-anchor="middle" fill="#111" >6</text>
<line x1="601.83" y1="594.1" x2="601.83" y2="597.5" stroke="#2a2a2a" stroke-width="1.3" />
<text transform="matrix(1 0 0 1.04 601.83 604.7)" font-size="6" font-weight="bold" stroke="#111" stroke-width="0.15" text-anchor="middle" fill="#111" >9</text>
<line x1="616.22" y1="594.1" x2="616.22" y2="597.5" stroke="#2a2a2a" stroke-width="1.3" />
<text transform="matrix(1 0 0 1.04 616.22 604.7)" font-size="6" font-weight="bold" stroke="#111" stroke-width="0.15" text-anchor="middle" fill="#111" >12</text>
<line x1="630.61" y1="594.1" x2="630.61" y2="597.5" stroke="#2a2a2a" stroke-width="1.3" />
<text transform="matrix(1 0 0 1.04 630.61 604.7)" font-size="6" font-weight="bold" stroke="#111" stroke-width="0.15" text-anchor="middle" fill="#111" >15</text>
<line x1="645" y1="594.1" x2="645" y2="597.5" stroke="#2a2a2a" stroke-width="1.3" />
<text transform="matrix(1 0 0 1.04 645 604.7)" font-size="6" font-weight="bold" stroke="#111" stroke-width="0.15" text-anchor="middle" fill="#111" >18</text>
<line x1="659.39" y1="594.1" x2="659.39" y2="597.5" stroke="#2a2a2a" stroke-width="1.3" />
<text transform="matrix(1 0 0 1.04 659.39 604.7)" font-size="6" font-weight="bold" stroke="#111" stroke-width="0.15" text-anchor="middle" fill="#111" >21</text>
<line x1="673.78" y1="594.1" x2="673.78" y2="597.5" stroke="#2a2a2a" stroke-width="1.3" />
<text transform="matrix(1 0 0 1.04 673.78 604.7)" font-size="6" font-weight="bold" stroke="#111" stroke-width="0.15" text-anchor="middle" fill="#111" >24</text>
<text transform="matrix(1 0 0 1.04 672.98 614.9)" font-size="6.4" font-weight="bold" stroke="#111" stroke-width="0.15" text-anchor="middle" fill="#111" >ZT</text>
<text transform="translate(547.38,534.6) rotate(-90) scale(1,1.04)" font-size="7.3" font-weight="bold" text-anchor="middle" fill="#111" stroke="#111" stroke-width="0.15">Amount (min/3hr)</text>
</svg>
</body></html>
